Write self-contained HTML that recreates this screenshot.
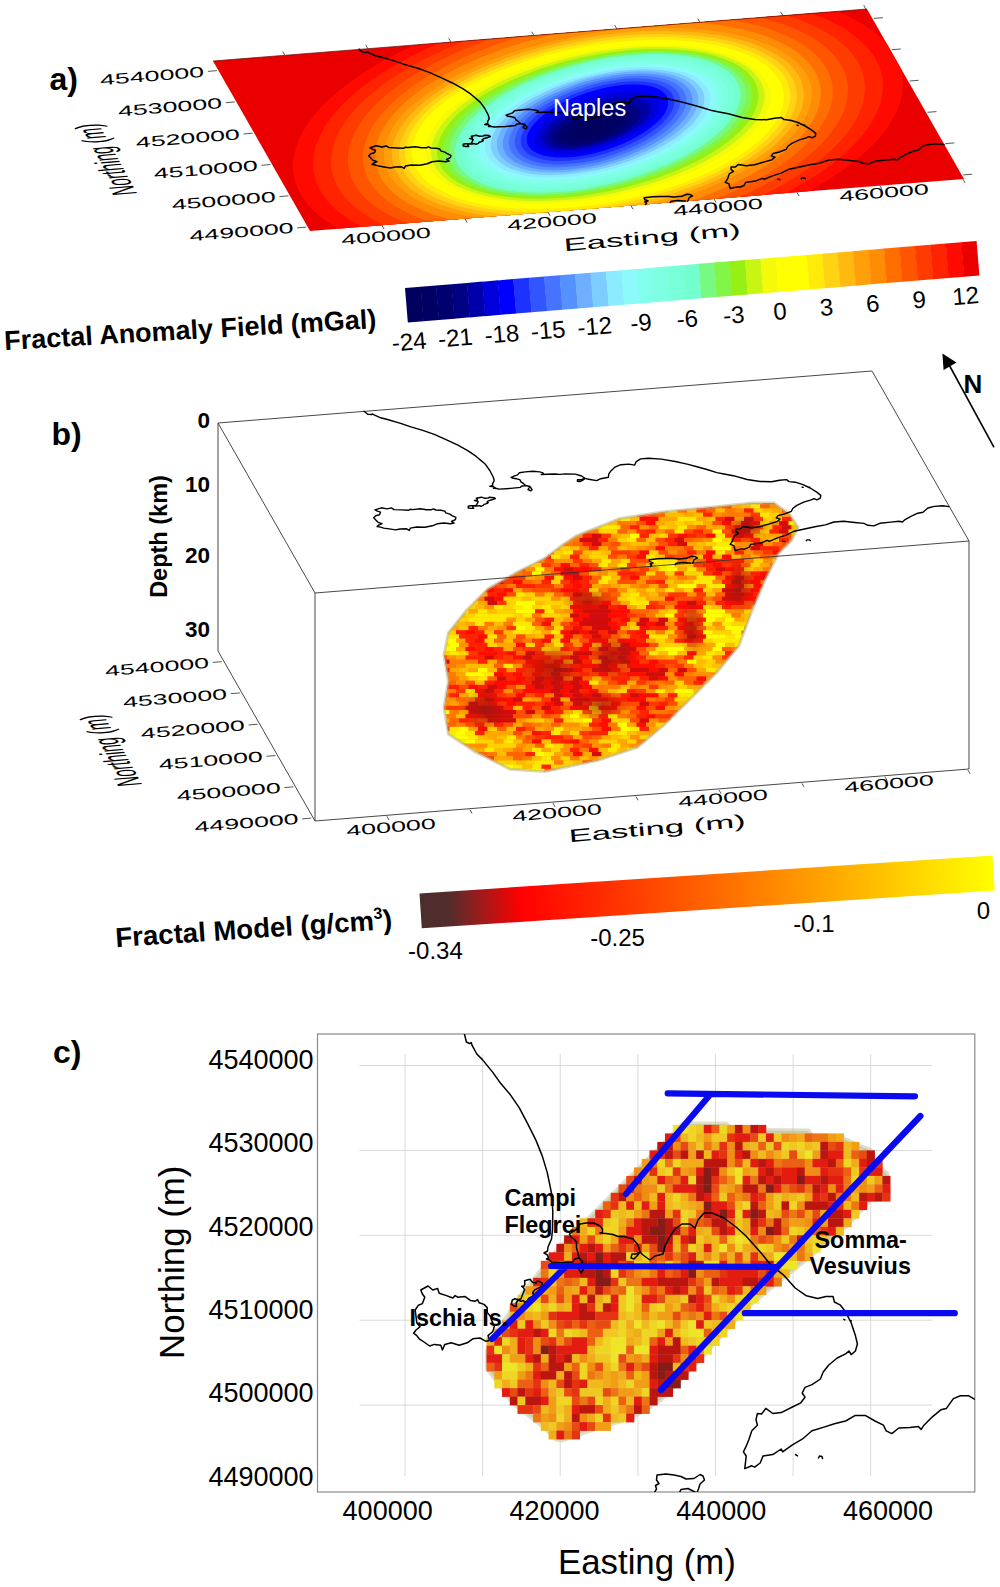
<!DOCTYPE html>
<html><head><meta charset="utf-8"><title>Figure</title>
<style>html,body{margin:0;padding:0;background:#fff}body{width:1000px;height:1587px;overflow:hidden;font-family:"Liberation Sans", sans-serif}</style>
</head><body>
<svg width="1000" height="1587" viewBox="0 0 1000 1587" style="display:block;font-family:'Liberation Sans', sans-serif">
<rect width="1000" height="1587" fill="#fff"/>
<defs><clipPath id="ca"><path d="M213,61 867,9 964,179 310,231Z"/></clipPath></defs>
<g clip-path="url(#ca)">
<rect x="200" y="0" width="780" height="240" fill="#eb0000"/>
<ellipse transform="translate(598,125) rotate(-9.35)" rx="308.4" ry="129.6" fill="#ff0a00"/>
<ellipse transform="translate(598,124.9) rotate(-9.51)" rx="288.2" ry="123.1" fill="#ff2300"/>
<ellipse transform="translate(598,124.9) rotate(-9.65)" rx="270.1" ry="116.6" fill="#ff3c00"/>
<ellipse transform="translate(597.9,124.8) rotate(-9.78)" rx="253" ry="110.2" fill="#ff5500"/>
<ellipse transform="translate(597.9,124.8) rotate(-9.87)" rx="237.8" ry="103.7" fill="#ff6e00"/>
<ellipse transform="translate(597.9,124.7) rotate(-9.90)" rx="225.7" ry="97.3" fill="#ff8c05"/>
<ellipse transform="translate(597.9,124.7) rotate(-9.87)" rx="216.6" ry="90.9" fill="#ffa00a"/>
<ellipse transform="translate(597.9,124.6) rotate(-9.98)" rx="208.6" ry="87.9" fill="#ffb90f"/>
<ellipse transform="translate(597.9,124.6) rotate(-10.07)" rx="201.5" ry="84.9" fill="#ffd214"/>
<ellipse transform="translate(597.8,124.5) rotate(-10.14)" rx="195.1" ry="81.9" fill="#ffeb0a"/>
<ellipse transform="translate(597.8,124.5) rotate(-10.21)" rx="188.5" ry="79" fill="#ffff00"/>
<ellipse transform="translate(597.8,124.4) rotate(-10.31)" rx="181.2" ry="76" fill="#ffff00"/>
<ellipse transform="translate(597.8,124.2) rotate(-10.88)" rx="175.4" ry="73.4" fill="#f5fa0a"/>
<ellipse transform="translate(597.8,124) rotate(-11.45)" rx="169.6" ry="70.8" fill="#c8f514"/>
<ellipse transform="translate(597.8,123.8) rotate(-12.02)" rx="163.8" ry="68.2" fill="#96f014"/>
<ellipse transform="translate(597.7,123.6) rotate(-12.58)" rx="157.9" ry="65.7" fill="#82f546"/>
<ellipse transform="translate(597.7,123.5) rotate(-13.20)" rx="152.1" ry="63.8" fill="#78fa82"/>
<ellipse transform="translate(597.7,123.3) rotate(-13.83)" rx="146.3" ry="61.8" fill="#73ffcd"/>
<ellipse transform="translate(597.7,123.1) rotate(-13.99)" rx="140.2" ry="60" fill="#78ffd7"/>
<ellipse transform="translate(597.7,122.9) rotate(-14.04)" rx="134.1" ry="57.1" fill="#7dffe1"/>
<ellipse transform="translate(597.7,122.7) rotate(-14.09)" rx="127.9" ry="54.3" fill="#82ffeb"/>
<ellipse transform="translate(597.6,122.5) rotate(-14.14)" rx="121.8" ry="51.4" fill="#8cfafa"/>
<ellipse transform="translate(597.6,122.3) rotate(-14.24)" rx="115.7" ry="48.9" fill="#8cebff"/>
<ellipse transform="translate(597.6,122.1) rotate(-14.79)" rx="109.8" ry="46.4" fill="#7dcdff"/>
<ellipse transform="translate(597.6,121.9) rotate(-15.37)" rx="103.8" ry="44.1" fill="#6eafff"/>
<ellipse transform="translate(597.6,121.8) rotate(-15.97)" rx="97.9" ry="41.8" fill="#5591ff"/>
<ellipse transform="translate(597.6,121.6) rotate(-16.51)" rx="91.9" ry="39.2" fill="#4673ff"/>
<ellipse transform="translate(597.5,121.4) rotate(-17.06)" rx="85.9" ry="36.6" fill="#3255ff"/>
<ellipse transform="translate(597.5,121.2) rotate(-17.46)" rx="79.8" ry="33.4" fill="#1e32ff"/>
<ellipse transform="translate(597.5,121) rotate(-17.83)" rx="73.7" ry="30.2" fill="#0000ff"/>
<ellipse transform="translate(597,122.2) rotate(-17.62)" rx="65.6" ry="25.4" fill="#0000dc"/>
<ellipse transform="translate(596.5,123.5) rotate(-17.54)" rx="56.8" ry="21.1" fill="#0000aa"/>
<ellipse transform="translate(595.5,125.2) rotate(-17.62)" rx="47.9" ry="17.5" fill="#000082"/>
<ellipse transform="translate(594.5,127) rotate(-17.58)" rx="39.6" ry="13.9" fill="#00006e"/>
<ellipse transform="translate(594,128) rotate(-17.55)" rx="31.3" ry="10.5" fill="#000064"/>
<ellipse transform="translate(593.5,129) rotate(-17.82)" rx="20.9" ry="7.2" fill="#00005f"/>
</g>
<path d="M359,49.2 362.8,52.2 366.4,52.5 367.7,52 369.1,52.9 375.7,55.8 382.5,57.5 395.6,61.4 405.9,64.9 417.8,68.3 429.3,72.4 441.6,77.9 452.9,83.2 462.7,88.6 470.9,94.2 477.3,99.6 480.6,102.6 484.8,108.5 488.3,115.2 489.2,118.6 487.5,121.8 487.8,123.4 484.7,124.4 488.7,124.8 490.3,125.9 488.5,126.4 491.7,126.5 494.1,127.1 505.7,126.4 515.5,125.4 516.4,124.2 520.6,123.5 524.9,124.5 527.1,127.6 525.8,128.9 523,127.5 524.9,124.5 520.6,123.5 518.6,121.7 516,119.9 514.8,117.7 511.6,116.8 508.2,116.3 506.1,115.3 509,114.1 512.5,112.9 514.4,110.8 520.2,109.9 528.1,109.3 534.7,109.9 537.9,110.8 538.6,112.1 536.2,112.5 542.3,112.2 549.5,112 554.9,112.4 560.8,111.9 570.3,112.1 576.6,114 580.1,116.4 576.5,117.5 572.5,117.8 572.4,119.3 575.6,119.5 577.9,118.1 580.1,116.4 583.7,117.3 591.7,118.6 595.8,116.7 603.4,115.3 603.7,112.2 605.9,108.9 610,105.1 615.9,102.7 623.9,102.1 629.7,103.1 631,99.9 635.5,96.9 643.4,96.2 656.4,97.1 670.3,99.5 682.1,102.1 692,104.8 701.9,107.5 711.9,110.6 719,112 728.3,113.7 742.1,117.5 754.9,119.5 766.6,119.7 774.5,118.2 781.5,117.6 784.1,119.6 790.2,120.2 797.3,122.3 805.2,126 812.1,130.4 815.8,133.4 815.3,136.1 811.9,137.8 809,136.6 806.2,137.9 798.7,140.1 791.8,143.4 787.7,146.5 786.4,149.3 779.3,152 772.9,153.6 771.3,155.9 775,157.2 772,159.7 764.5,161.9 754.6,164.8 746.4,165.8 738.3,164.5 735.4,166.9 731.1,167.1 731,169.4 733.5,171.4 729.2,173.9 728.2,177.3 726.8,180.1 725.2,182.4 728.9,183.7 730.2,188.5 736.6,186.9 739.7,187.2 744.3,185.2 745.6,182.4 755.1,181.1 762.3,178.4 764.3,179.3 772.5,175.9 781.1,173.1 789.1,169.2 799.5,167 809.9,164.8 820.4,162.9 829,160 838.7,159.2 849.7,160.5 858.9,161.4 862.9,163.3 869,163.9 874.8,161.3 885.8,160.1 894,159.2 897.4,160 899.3,158.2 905.9,154.4 912.8,151.2 918,150.2 922.9,146 929.3,144.4 937.7,143.8 943.9,144.6 M370,147.8 376.3,145.8 381.9,146.9 386.4,145.9 389,147.6 396.7,147.9 403.5,148.3 405.4,147.2 408.1,147.6 415.1,146.7 421.6,147.8 426.5,147.7 428.5,146.9 430.8,148 435.9,148.2 439.8,149.1 440.8,150.9 444.8,152.1 447.5,153.8 450.9,155.4 450.4,157.6 446.5,159.5 449.1,161.1 445.3,161.7 439.1,161 432.1,161.8 427.3,163.8 419.9,165.3 411.4,165 405.4,166.1 404.2,168.4 401.6,166.8 395.1,167 390.6,167.9 384.2,166.9 378.7,166.1 375.7,165.1 372,164.5 373.7,163.1 377,161.6 373,160.3 370.8,158 368.7,155.7 370.8,153.7 374.5,152.8 375.5,150.2 372.4,149.2 370,147.8 M471.3,136.2 476.4,135.2 479.4,136.2 483.1,136.1 484.5,135.2 489.1,135.6 490.3,136.6 487.7,137.5 483.4,138.8 481.9,140 483.2,140.6 482.4,141.4 479.2,142.3 478.2,143.4 476,144.4 474.6,143.6 472.1,144.1 468.8,143.9 467.7,145.1 468.7,146.4 465.9,146.4 463.2,146 463.2,144.3 465.6,143.7 469.4,143.7 471.6,143.2 472.3,141.3 473.2,139.6 472,139 469.5,138.5 471.9,138.3 472.4,137.5 471.3,136.2 M645.4,204.5 646.7,203.1 644.9,201.8 648,200.8 644.8,199.7 644.2,197.8 652.9,196.7 661.1,196.5 668.4,196.5 673.9,197 681.8,196.2 686.9,194.2 690.2,194.6 692.5,195.9 688.9,197.8 688.5,199.7 687.7,201.2 M670.3,202.5 671.1,201.3 677.9,200.4 683.4,200.9 685.6,201.1 M777.7,179.3 779.9,179.6 M801.3,178.7 801.9,177.9 804.4,177.9 805.4,178.6 M797.1,125.3 798.2,125.4 M803.8,125.1 804.9,125.3" fill="none" stroke="#000" stroke-width="1.5" stroke-linejoin="round" stroke-linecap="round"/>
<path d="M213,61 L867,9" stroke="#5a1000" stroke-width="0.7" fill="none"/>
<path d="M306.2,227.1 L297.2,227.9 M963.2,174.9 L972.2,174.2 M288.4,195.8 L279.4,196.6 M945.4,143.6 L954.4,142.9 M270.5,164.5 L261.5,165.3 M927.5,112.3 L936.5,111.6 M252.6,133.2 L243.6,134 M909.6,81 L918.6,80.3 M234.8,101.9 L225.8,102.7 M891.8,49.7 L900.8,49 M216.9,70.6 L207.9,71.4 M873.9,18.4 L882.9,17.7 M381.9,225.3 L384.1,229.1 M284.9,55.3 L282.7,51.5 M464.9,218.7 L467.1,222.5 M367.9,48.7 L365.7,44.9 M547.9,212.1 L550.1,215.9 M450.9,42.1 L448.7,38.3 M630.9,205.5 L633.1,209.3 M533.9,35.5 L531.7,31.7 M713.9,198.9 L716.1,202.7 M616.9,28.9 L614.7,25.1 M796.9,192.3 L799.1,196.1 M699.9,22.3 L697.7,18.5 M879.9,185.7 L882.1,189.5 M782.9,15.7 L780.7,11.9 M962.9,179.1 L965.1,182.9 M865.9,9.1 L863.7,5.3" stroke="#444" stroke-width="0.9" fill="none"/>
<text transform="translate(204,71.6) rotate(-4.6) scale(1.81,1)" text-anchor="end" font-size="14.8" y="5.3">4540000</text>
<text transform="translate(221.9,102.8) rotate(-4.6) scale(1.81,1)" text-anchor="end" font-size="14.8" y="5.3">4530000</text>
<text transform="translate(239.8,134) rotate(-4.6) scale(1.81,1)" text-anchor="end" font-size="14.8" y="5.3">4520000</text>
<text transform="translate(257.7,165.2) rotate(-4.6) scale(1.81,1)" text-anchor="end" font-size="14.8" y="5.3">4510000</text>
<text transform="translate(275.6,196.4) rotate(-4.6) scale(1.81,1)" text-anchor="end" font-size="14.8" y="5.3">4500000</text>
<text transform="translate(293.5,227.6) rotate(-4.6) scale(1.81,1)" text-anchor="end" font-size="14.8" y="5.3">4490000</text>
<text transform="translate(386,236) rotate(-4.8) scale(1.82,1)" text-anchor="middle" font-size="14.8" y="5.3">400000</text>
<text transform="translate(552,221.5) rotate(-4.8) scale(1.82,1)" text-anchor="middle" font-size="14.8" y="5.3">420000</text>
<text transform="translate(718,207) rotate(-4.8) scale(1.82,1)" text-anchor="middle" font-size="14.8" y="5.3">440000</text>
<text transform="translate(884,192.5) rotate(-4.8) scale(1.82,1)" text-anchor="middle" font-size="14.8" y="5.3">460000</text>
<text transform="translate(652,237) rotate(-5) scale(1.93,1)" text-anchor="middle" font-size="18" y="6.5">Easting (m)</text>
<text transform="matrix(-0.2022,-0.3647,0.9970,-0.0800,137.5,194)" font-size="35">Northing (m)</text>
<text x="49.5" y="89.7" font-size="32" font-weight="bold">a)</text>
<text x="553" y="115.5" font-size="23.5" fill="#fff">Naples</text>
<g transform="translate(405,288) rotate(-4.701)">
<rect x="0" y="0" width="15.9" height="34.6" fill="#00005f"/>
<rect x="15.5" y="0" width="15.9" height="34.6" fill="#000064"/>
<rect x="31" y="0" width="15.9" height="34.6" fill="#00006e"/>
<rect x="46.5" y="0" width="15.9" height="34.6" fill="#000082"/>
<rect x="62" y="0" width="15.9" height="34.6" fill="#0000aa"/>
<rect x="77.5" y="0" width="15.9" height="34.6" fill="#0000dc"/>
<rect x="93" y="0" width="15.9" height="34.6" fill="#0000ff"/>
<rect x="108.5" y="0" width="15.9" height="34.6" fill="#1e32ff"/>
<rect x="124" y="0" width="15.9" height="34.6" fill="#3255ff"/>
<rect x="139.5" y="0" width="15.9" height="34.6" fill="#4673ff"/>
<rect x="155" y="0" width="15.9" height="34.6" fill="#5591ff"/>
<rect x="170.5" y="0" width="15.9" height="34.6" fill="#6eafff"/>
<rect x="186" y="0" width="15.9" height="34.6" fill="#7dcdff"/>
<rect x="201.5" y="0" width="15.9" height="34.6" fill="#8cebff"/>
<rect x="217" y="0" width="15.9" height="34.6" fill="#8cfafa"/>
<rect x="232.5" y="0" width="15.9" height="34.6" fill="#82ffeb"/>
<rect x="248" y="0" width="15.9" height="34.6" fill="#7dffe1"/>
<rect x="263.5" y="0" width="15.9" height="34.6" fill="#78ffd7"/>
<rect x="279" y="0" width="15.9" height="34.6" fill="#73ffcd"/>
<rect x="294.5" y="0" width="15.9" height="34.6" fill="#78fa82"/>
<rect x="310" y="0" width="15.9" height="34.6" fill="#82f546"/>
<rect x="325.5" y="0" width="15.9" height="34.6" fill="#96f014"/>
<rect x="341" y="0" width="15.9" height="34.6" fill="#c8f514"/>
<rect x="356.5" y="0" width="15.9" height="34.6" fill="#f5fa0a"/>
<rect x="372" y="0" width="15.9" height="34.6" fill="#ffff00"/>
<rect x="387.5" y="0" width="15.9" height="34.6" fill="#ffff00"/>
<rect x="403" y="0" width="15.9" height="34.6" fill="#ffeb0a"/>
<rect x="418.5" y="0" width="15.9" height="34.6" fill="#ffd214"/>
<rect x="434" y="0" width="15.9" height="34.6" fill="#ffb90f"/>
<rect x="449.5" y="0" width="15.9" height="34.6" fill="#ffa00a"/>
<rect x="465" y="0" width="15.9" height="34.6" fill="#ff8c05"/>
<rect x="480.5" y="0" width="15.9" height="34.6" fill="#ff6e00"/>
<rect x="496" y="0" width="15.9" height="34.6" fill="#ff5500"/>
<rect x="511.5" y="0" width="15.9" height="34.6" fill="#ff3c00"/>
<rect x="527" y="0" width="15.9" height="34.6" fill="#ff2300"/>
<rect x="542.5" y="0" width="15.9" height="34.6" fill="#ff0a00"/>
<rect x="558" y="0" width="15.5" height="34.6" fill="#eb0000"/>
</g>
<text transform="translate(409,341.3) rotate(-4.7)" text-anchor="middle" font-size="24" y="8.6">-24</text>
<text transform="translate(455.4,337.5) rotate(-4.7)" text-anchor="middle" font-size="24" y="8.6">-21</text>
<text transform="translate(501.8,333.7) rotate(-4.7)" text-anchor="middle" font-size="24" y="8.6">-18</text>
<text transform="translate(548.1,329.9) rotate(-4.7)" text-anchor="middle" font-size="24" y="8.6">-15</text>
<text transform="translate(594.5,326) rotate(-4.7)" text-anchor="middle" font-size="24" y="8.6">-12</text>
<text transform="translate(640.9,322.2) rotate(-4.7)" text-anchor="middle" font-size="24" y="8.6">-9</text>
<text transform="translate(687.2,318.4) rotate(-4.7)" text-anchor="middle" font-size="24" y="8.6">-6</text>
<text transform="translate(733.6,314.6) rotate(-4.7)" text-anchor="middle" font-size="24" y="8.6">-3</text>
<text transform="translate(780,310.8) rotate(-4.7)" text-anchor="middle" font-size="24" y="8.6">0</text>
<text transform="translate(826.4,306.9) rotate(-4.7)" text-anchor="middle" font-size="24" y="8.6">3</text>
<text transform="translate(872.8,303.1) rotate(-4.7)" text-anchor="middle" font-size="24" y="8.6">6</text>
<text transform="translate(919.1,299.3) rotate(-4.7)" text-anchor="middle" font-size="24" y="8.6">9</text>
<text transform="translate(965.5,295.5) rotate(-4.7)" text-anchor="middle" font-size="24" y="8.6">12</text>
<text transform="translate(4.8,350) rotate(-3.4)" font-size="27" font-weight="bold">Fractal Anomaly Field (mGal)</text>
<path d="M994,447.4 L947,361" stroke="#000" stroke-width="1.6" fill="none"/>
<path d="M942.4,353.5 L956.5,362.5 L943.6,370 Z" fill="#000"/>
<text x="973" y="393" font-size="26" font-weight="bold" text-anchor="middle">N</text>
<defs><clipPath id="cb"><path d="M576,536 620,518.4 664,511.8 708,507.4 752,503 774,503 789.4,514 798,527.2 791.6,540.4 778.4,553.6 765.2,580 752,610.8 738.8,646 716.8,672.4 686,703.2 664,725.2 637.6,747.2 598,760.4 545.2,771.4 510,769.2 474.8,751.6 448.4,734 444,707.6 448.4,681.2 444,654.8 448.4,632.8 466,610.8 488,588.8 518.8,571.2 545.2,558 562.8,544.8Z"/></clipPath></defs>
<g clip-path="url(#cb)">
<path d="M576,536 620,518.4 664,511.8 708,507.4 752,503 774,503 789.4,514 798,527.2 791.6,540.4 778.4,553.6 765.2,580 752,610.8 738.8,646 716.8,672.4 686,703.2 664,725.2 637.6,747.2 598,760.4 545.2,771.4 510,769.2 474.8,751.6 448.4,734 444,707.6 448.4,681.2 444,654.8 448.4,632.8 466,610.8 488,588.8 518.8,571.2 545.2,558 562.8,544.8Z" fill="#f26a10"/>
<rect x="734.5" y="500" width="9.8" height="4.5" fill="#ffbd00"/>
<rect x="744" y="500" width="9.8" height="4.5" fill="#ffa700"/>
<rect x="753.5" y="500" width="9.8" height="4.5" fill="#ff9100"/>
<rect x="763" y="500" width="9.8" height="4.5" fill="#ff2200"/>
<rect x="772.5" y="500" width="9.8" height="4.5" fill="#ff3800"/>
<rect x="684" y="504.2" width="28.8" height="4.5" fill="#ff0c00"/>
<rect x="712.5" y="504.2" width="9.8" height="4.5" fill="#ff7b00"/>
<rect x="722" y="504.2" width="9.8" height="4.5" fill="#ff4e00"/>
<rect x="731.5" y="504.2" width="9.8" height="4.5" fill="#ffa700"/>
<rect x="741" y="504.2" width="9.8" height="4.5" fill="#ffbd00"/>
<rect x="750.5" y="504.2" width="9.8" height="4.5" fill="#ffe900"/>
<rect x="760" y="504.2" width="9.8" height="4.5" fill="#ff6400"/>
<rect x="769.5" y="504.2" width="9.8" height="4.5" fill="#ff9100"/>
<rect x="649" y="508.4" width="9.8" height="4.5" fill="#ffbd00"/>
<rect x="658.5" y="508.4" width="9.8" height="4.5" fill="#ff9100"/>
<rect x="668" y="508.4" width="9.8" height="4.5" fill="#ffe900"/>
<rect x="677.5" y="508.4" width="9.8" height="4.5" fill="#ff6400"/>
<rect x="687" y="508.4" width="9.8" height="4.5" fill="#ffbd00"/>
<rect x="696.5" y="508.4" width="9.8" height="4.5" fill="#ff3800"/>
<rect x="706" y="508.4" width="9.8" height="4.5" fill="#ff6400"/>
<rect x="715.5" y="508.4" width="9.8" height="4.5" fill="#ffbd00"/>
<rect x="725" y="508.4" width="9.8" height="4.5" fill="#ff7b00"/>
<rect x="734.5" y="508.4" width="9.8" height="4.5" fill="#ff9100"/>
<rect x="744" y="508.4" width="9.8" height="4.5" fill="#ff2200"/>
<rect x="753.5" y="508.4" width="9.8" height="4.5" fill="#ffd300"/>
<rect x="763" y="508.4" width="9.8" height="4.5" fill="#ffbd00"/>
<rect x="772.5" y="508.4" width="9.8" height="4.5" fill="#ffa700"/>
<rect x="782" y="508.4" width="9.8" height="4.5" fill="#ff4e00"/>
<rect x="617.5" y="512.6" width="19.3" height="4.5" fill="#ffe900"/>
<rect x="636.5" y="512.6" width="9.8" height="4.5" fill="#ff3800"/>
<rect x="646" y="512.6" width="9.8" height="4.5" fill="#ff4e00"/>
<rect x="655.5" y="512.6" width="9.8" height="4.5" fill="#ff6400"/>
<rect x="665" y="512.6" width="19.3" height="4.5" fill="#ffbd00"/>
<rect x="684" y="512.6" width="9.8" height="4.5" fill="#ffa700"/>
<rect x="693.5" y="512.6" width="9.8" height="4.5" fill="#ffbd00"/>
<rect x="703" y="512.6" width="9.8" height="4.5" fill="#ff2200"/>
<rect x="712.5" y="512.6" width="9.8" height="4.5" fill="#ff9100"/>
<rect x="722" y="512.6" width="28.8" height="4.5" fill="#ff7b00"/>
<rect x="750.5" y="512.6" width="9.8" height="4.5" fill="#ff3800"/>
<rect x="760" y="512.6" width="9.8" height="4.5" fill="#ffe900"/>
<rect x="769.5" y="512.6" width="9.8" height="4.5" fill="#ffd300"/>
<rect x="779" y="512.6" width="9.8" height="4.5" fill="#ffa700"/>
<rect x="611" y="516.8" width="9.8" height="4.5" fill="#ffbd00"/>
<rect x="620.5" y="516.8" width="9.8" height="4.5" fill="#ffe900"/>
<rect x="630" y="516.8" width="9.8" height="4.5" fill="#ffbd00"/>
<rect x="639.5" y="516.8" width="19.3" height="4.5" fill="#ff0c00"/>
<rect x="658.5" y="516.8" width="19.3" height="4.5" fill="#ffa700"/>
<rect x="677.5" y="516.8" width="19.3" height="4.5" fill="#ffe900"/>
<rect x="696.5" y="516.8" width="9.8" height="4.5" fill="#ffa700"/>
<rect x="706" y="516.8" width="9.8" height="4.5" fill="#ffbd00"/>
<rect x="715.5" y="516.8" width="9.8" height="4.5" fill="#ff2200"/>
<rect x="725" y="516.8" width="9.8" height="4.5" fill="#d20c0c"/>
<rect x="734.5" y="516.8" width="9.8" height="4.5" fill="#ffa700"/>
<rect x="744" y="516.8" width="9.8" height="4.5" fill="#d20c0c"/>
<rect x="753.5" y="516.8" width="9.8" height="4.5" fill="#ff3800"/>
<rect x="763" y="516.8" width="9.8" height="4.5" fill="#ffd300"/>
<rect x="772.5" y="516.8" width="9.8" height="4.5" fill="#ffbd00"/>
<rect x="782" y="516.8" width="9.8" height="4.5" fill="#ff2200"/>
<rect x="598.5" y="521" width="9.8" height="4.5" fill="#ffe900"/>
<rect x="608" y="521" width="9.8" height="4.5" fill="#ffbd00"/>
<rect x="617.5" y="521" width="19.3" height="4.5" fill="#ff7b00"/>
<rect x="636.5" y="521" width="9.8" height="4.5" fill="#ff4e00"/>
<rect x="646" y="521" width="9.8" height="4.5" fill="#ff0c00"/>
<rect x="655.5" y="521" width="9.8" height="4.5" fill="#ffa700"/>
<rect x="665" y="521" width="9.8" height="4.5" fill="#ffbd00"/>
<rect x="674.5" y="521" width="9.8" height="4.5" fill="#ffd300"/>
<rect x="684" y="521" width="9.8" height="4.5" fill="#ffbd00"/>
<rect x="693.5" y="521" width="9.8" height="4.5" fill="#ffd300"/>
<rect x="703" y="521" width="9.8" height="4.5" fill="#ffa700"/>
<rect x="712.5" y="521" width="9.8" height="4.5" fill="#ff4e00"/>
<rect x="722" y="521" width="9.8" height="4.5" fill="#ff0c00"/>
<rect x="731.5" y="521" width="9.8" height="4.5" fill="#ff7b00"/>
<rect x="741" y="521" width="9.8" height="4.5" fill="#d20c0c"/>
<rect x="750.5" y="521" width="9.8" height="4.5" fill="#ff0c00"/>
<rect x="760" y="521" width="9.8" height="4.5" fill="#ffd300"/>
<rect x="769.5" y="521" width="9.8" height="4.5" fill="#ff9100"/>
<rect x="779" y="521" width="9.8" height="4.5" fill="#d20c0c"/>
<rect x="788.5" y="521" width="9.8" height="4.5" fill="#ffe900"/>
<rect x="592" y="525.2" width="9.8" height="4.5" fill="#ffd300"/>
<rect x="601.5" y="525.2" width="19.3" height="4.5" fill="#ffe900"/>
<rect x="620.5" y="525.2" width="9.8" height="4.5" fill="#ff6400"/>
<rect x="630" y="525.2" width="9.8" height="4.5" fill="#ff2200"/>
<rect x="639.5" y="525.2" width="9.8" height="4.5" fill="#ff9100"/>
<rect x="649" y="525.2" width="9.8" height="4.5" fill="#ff6400"/>
<rect x="658.5" y="525.2" width="9.8" height="4.5" fill="#ffd300"/>
<rect x="668" y="525.2" width="9.8" height="4.5" fill="#ffbd00"/>
<rect x="677.5" y="525.2" width="9.8" height="4.5" fill="#ffe900"/>
<rect x="687" y="525.2" width="9.8" height="4.5" fill="#ff9100"/>
<rect x="696.5" y="525.2" width="9.8" height="4.5" fill="#ff6400"/>
<rect x="706" y="525.2" width="19.3" height="4.5" fill="#ffa700"/>
<rect x="725" y="525.2" width="9.8" height="4.5" fill="#ff3800"/>
<rect x="734.5" y="525.2" width="9.8" height="4.5" fill="#ff0c00"/>
<rect x="744" y="525.2" width="9.8" height="4.5" fill="#d20c0c"/>
<rect x="753.5" y="525.2" width="9.8" height="4.5" fill="#ff4e00"/>
<rect x="763" y="525.2" width="9.8" height="4.5" fill="#ffbd00"/>
<rect x="772.5" y="525.2" width="9.8" height="4.5" fill="#ff2200"/>
<rect x="782" y="525.2" width="9.8" height="4.5" fill="#d20c0c"/>
<rect x="791.5" y="525.2" width="9.8" height="4.5" fill="#ffbd00"/>
<rect x="579.5" y="529.4" width="9.8" height="4.5" fill="#ff6400"/>
<rect x="589" y="529.4" width="9.8" height="4.5" fill="#ff7b00"/>
<rect x="598.5" y="529.4" width="19.3" height="4.5" fill="#ffd300"/>
<rect x="617.5" y="529.4" width="9.8" height="4.5" fill="#ff6400"/>
<rect x="627" y="529.4" width="9.8" height="4.5" fill="#ff9100"/>
<rect x="636.5" y="529.4" width="9.8" height="4.5" fill="#ff3800"/>
<rect x="646" y="529.4" width="9.8" height="4.5" fill="#ff2200"/>
<rect x="655.5" y="529.4" width="9.8" height="4.5" fill="#ff9100"/>
<rect x="665" y="529.4" width="9.8" height="4.5" fill="#ff6400"/>
<rect x="674.5" y="529.4" width="9.8" height="4.5" fill="#ffe900"/>
<rect x="684" y="529.4" width="9.8" height="4.5" fill="#ff4e00"/>
<rect x="693.5" y="529.4" width="9.8" height="4.5" fill="#ff2200"/>
<rect x="703" y="529.4" width="9.8" height="4.5" fill="#ff6400"/>
<rect x="712.5" y="529.4" width="9.8" height="4.5" fill="#ffff00"/>
<rect x="722" y="529.4" width="9.8" height="4.5" fill="#ff4e00"/>
<rect x="731.5" y="529.4" width="19.3" height="4.5" fill="#d20c0c"/>
<rect x="750.5" y="529.4" width="9.8" height="4.5" fill="#ff7b00"/>
<rect x="760" y="529.4" width="9.8" height="4.5" fill="#ffd300"/>
<rect x="769.5" y="529.4" width="9.8" height="4.5" fill="#ff2200"/>
<rect x="779" y="529.4" width="9.8" height="4.5" fill="#d20c0c"/>
<rect x="788.5" y="529.4" width="9.8" height="4.5" fill="#ffd300"/>
<rect x="573" y="533.6" width="9.8" height="4.5" fill="#ff9100"/>
<rect x="582.5" y="533.6" width="9.8" height="4.5" fill="#ff2200"/>
<rect x="592" y="533.6" width="9.8" height="4.5" fill="#d20c0c"/>
<rect x="601.5" y="533.6" width="9.8" height="4.5" fill="#ff3800"/>
<rect x="611" y="533.6" width="9.8" height="4.5" fill="#ffa700"/>
<rect x="620.5" y="533.6" width="9.8" height="4.5" fill="#ffbd00"/>
<rect x="630" y="533.6" width="9.8" height="4.5" fill="#ffff00"/>
<rect x="639.5" y="533.6" width="9.8" height="4.5" fill="#ff2200"/>
<rect x="649" y="533.6" width="9.8" height="4.5" fill="#ffbd00"/>
<rect x="658.5" y="533.6" width="9.8" height="4.5" fill="#ffd300"/>
<rect x="668" y="533.6" width="9.8" height="4.5" fill="#ff3800"/>
<rect x="677.5" y="533.6" width="9.8" height="4.5" fill="#ff0c00"/>
<rect x="687" y="533.6" width="9.8" height="4.5" fill="#ff2200"/>
<rect x="696.5" y="533.6" width="9.8" height="4.5" fill="#ff3800"/>
<rect x="706" y="533.6" width="9.8" height="4.5" fill="#ff0c00"/>
<rect x="715.5" y="533.6" width="9.8" height="4.5" fill="#ffe900"/>
<rect x="725" y="533.6" width="9.8" height="4.5" fill="#ff3800"/>
<rect x="734.5" y="533.6" width="9.8" height="4.5" fill="#d20c0c"/>
<rect x="744" y="533.6" width="9.8" height="4.5" fill="#ff0c00"/>
<rect x="753.5" y="533.6" width="9.8" height="4.5" fill="#ffbd00"/>
<rect x="763" y="533.6" width="19.3" height="4.5" fill="#ffa700"/>
<rect x="782" y="533.6" width="9.8" height="4.5" fill="#ff4e00"/>
<rect x="791.5" y="533.6" width="9.8" height="4.5" fill="#ffbd00"/>
<rect x="560.5" y="537.8" width="9.8" height="4.5" fill="#ff9100"/>
<rect x="570" y="537.8" width="9.8" height="4.5" fill="#ff7b00"/>
<rect x="579.5" y="537.8" width="19.3" height="4.5" fill="#d20c0c"/>
<rect x="598.5" y="537.8" width="9.8" height="4.5" fill="#ff2200"/>
<rect x="608" y="537.8" width="9.8" height="4.5" fill="#ff7b00"/>
<rect x="617.5" y="537.8" width="9.8" height="4.5" fill="#ffd300"/>
<rect x="627" y="537.8" width="9.8" height="4.5" fill="#ffe900"/>
<rect x="636.5" y="537.8" width="9.8" height="4.5" fill="#ff6400"/>
<rect x="646" y="537.8" width="9.8" height="4.5" fill="#ffbd00"/>
<rect x="655.5" y="537.8" width="9.8" height="4.5" fill="#ff4e00"/>
<rect x="665" y="537.8" width="9.8" height="4.5" fill="#ff2200"/>
<rect x="674.5" y="537.8" width="9.8" height="4.5" fill="#d20c0c"/>
<rect x="684" y="537.8" width="9.8" height="4.5" fill="#ff6400"/>
<rect x="693.5" y="537.8" width="9.8" height="4.5" fill="#ff7b00"/>
<rect x="703" y="537.8" width="9.8" height="4.5" fill="#ff9100"/>
<rect x="712.5" y="537.8" width="9.8" height="4.5" fill="#ffff00"/>
<rect x="722" y="537.8" width="9.8" height="4.5" fill="#ffd300"/>
<rect x="731.5" y="537.8" width="9.8" height="4.5" fill="#ff2200"/>
<rect x="741" y="537.8" width="9.8" height="4.5" fill="#ff4e00"/>
<rect x="750.5" y="537.8" width="9.8" height="4.5" fill="#ff2200"/>
<rect x="760" y="537.8" width="9.8" height="4.5" fill="#ffa700"/>
<rect x="769.5" y="537.8" width="9.8" height="4.5" fill="#ffbd00"/>
<rect x="779" y="537.8" width="9.8" height="4.5" fill="#ff2200"/>
<rect x="554" y="542" width="9.8" height="4.5" fill="#ffbd00"/>
<rect x="563.5" y="542" width="9.8" height="4.5" fill="#ff7b00"/>
<rect x="573" y="542" width="9.8" height="4.5" fill="#ff6400"/>
<rect x="582.5" y="542" width="9.8" height="4.5" fill="#ff2200"/>
<rect x="592" y="542" width="9.8" height="4.5" fill="#d20c0c"/>
<rect x="601.5" y="542" width="9.8" height="4.5" fill="#ff6400"/>
<rect x="611" y="542" width="9.8" height="4.5" fill="#ff4e00"/>
<rect x="620.5" y="542" width="9.8" height="4.5" fill="#ffa700"/>
<rect x="630" y="542" width="19.3" height="4.5" fill="#ffbd00"/>
<rect x="649" y="542" width="9.8" height="4.5" fill="#ff9100"/>
<rect x="658.5" y="542" width="9.8" height="4.5" fill="#ff4e00"/>
<rect x="668" y="542" width="9.8" height="4.5" fill="#ff2200"/>
<rect x="677.5" y="542" width="9.8" height="4.5" fill="#d20c0c"/>
<rect x="687" y="542" width="9.8" height="4.5" fill="#ffa700"/>
<rect x="696.5" y="542" width="9.8" height="4.5" fill="#ffbd00"/>
<rect x="706" y="542" width="9.8" height="4.5" fill="#ffd300"/>
<rect x="715.5" y="542" width="19.3" height="4.5" fill="#ffe900"/>
<rect x="734.5" y="542" width="19.3" height="4.5" fill="#ff9100"/>
<rect x="753.5" y="542" width="9.8" height="4.5" fill="#d20c0c"/>
<rect x="763" y="542" width="9.8" height="4.5" fill="#ff9100"/>
<rect x="772.5" y="542" width="9.8" height="4.5" fill="#ff6400"/>
<rect x="782" y="542" width="9.8" height="4.5" fill="#ff4e00"/>
<rect x="551" y="546.2" width="9.8" height="4.5" fill="#ffa700"/>
<rect x="560.5" y="546.2" width="9.8" height="4.5" fill="#ffd300"/>
<rect x="570" y="546.2" width="9.8" height="4.5" fill="#ffbd00"/>
<rect x="579.5" y="546.2" width="9.8" height="4.5" fill="#ff7b00"/>
<rect x="589" y="546.2" width="9.8" height="4.5" fill="#ff2200"/>
<rect x="598.5" y="546.2" width="9.8" height="4.5" fill="#ffa700"/>
<rect x="608" y="546.2" width="9.8" height="4.5" fill="#ff6400"/>
<rect x="617.5" y="546.2" width="9.8" height="4.5" fill="#ffbd00"/>
<rect x="627" y="546.2" width="9.8" height="4.5" fill="#ffa700"/>
<rect x="636.5" y="546.2" width="9.8" height="4.5" fill="#ff9100"/>
<rect x="646" y="546.2" width="9.8" height="4.5" fill="#ff7b00"/>
<rect x="655.5" y="546.2" width="9.8" height="4.5" fill="#ff0c00"/>
<rect x="665" y="546.2" width="19.3" height="4.5" fill="#ff7b00"/>
<rect x="684" y="546.2" width="9.8" height="4.5" fill="#ff4e00"/>
<rect x="693.5" y="546.2" width="9.8" height="4.5" fill="#ffbd00"/>
<rect x="703" y="546.2" width="9.8" height="4.5" fill="#ff9100"/>
<rect x="712.5" y="546.2" width="19.3" height="4.5" fill="#ffff00"/>
<rect x="731.5" y="546.2" width="9.8" height="4.5" fill="#ff7b00"/>
<rect x="741" y="546.2" width="9.8" height="4.5" fill="#ff9100"/>
<rect x="750.5" y="546.2" width="9.8" height="4.5" fill="#d20c0c"/>
<rect x="760" y="546.2" width="19.3" height="4.5" fill="#ff2200"/>
<rect x="779" y="546.2" width="9.8" height="4.5" fill="#ff4e00"/>
<rect x="544.5" y="550.4" width="9.8" height="4.5" fill="#ff6400"/>
<rect x="554" y="550.4" width="9.8" height="4.5" fill="#ffd300"/>
<rect x="563.5" y="550.4" width="9.8" height="4.5" fill="#ffe900"/>
<rect x="573" y="550.4" width="9.8" height="4.5" fill="#ff4e00"/>
<rect x="582.5" y="550.4" width="9.8" height="4.5" fill="#ffbd00"/>
<rect x="592" y="550.4" width="9.8" height="4.5" fill="#ffd300"/>
<rect x="601.5" y="550.4" width="9.8" height="4.5" fill="#ffbd00"/>
<rect x="611" y="550.4" width="19.3" height="4.5" fill="#ff3800"/>
<rect x="630" y="550.4" width="9.8" height="4.5" fill="#ff4e00"/>
<rect x="639.5" y="550.4" width="9.8" height="4.5" fill="#ff0c00"/>
<rect x="649" y="550.4" width="9.8" height="4.5" fill="#ffd300"/>
<rect x="658.5" y="550.4" width="9.8" height="4.5" fill="#ff4e00"/>
<rect x="668" y="550.4" width="9.8" height="4.5" fill="#ff9100"/>
<rect x="677.5" y="550.4" width="9.8" height="4.5" fill="#ff6400"/>
<rect x="687" y="550.4" width="9.8" height="4.5" fill="#ff2200"/>
<rect x="696.5" y="550.4" width="9.8" height="4.5" fill="#ff7b00"/>
<rect x="706" y="550.4" width="9.8" height="4.5" fill="#ff0c00"/>
<rect x="715.5" y="550.4" width="9.8" height="4.5" fill="#ffe900"/>
<rect x="725" y="550.4" width="9.8" height="4.5" fill="#ff9100"/>
<rect x="734.5" y="550.4" width="9.8" height="4.5" fill="#ff2200"/>
<rect x="744" y="550.4" width="9.8" height="4.5" fill="#ff9100"/>
<rect x="753.5" y="550.4" width="9.8" height="4.5" fill="#ff6400"/>
<rect x="763" y="550.4" width="9.8" height="4.5" fill="#ff3800"/>
<rect x="772.5" y="550.4" width="9.8" height="4.5" fill="#ff0c00"/>
<rect x="541.5" y="554.6" width="9.8" height="4.5" fill="#ff2200"/>
<rect x="551" y="554.6" width="9.8" height="4.5" fill="#ffe900"/>
<rect x="560.5" y="554.6" width="9.8" height="4.5" fill="#ffbd00"/>
<rect x="570" y="554.6" width="9.8" height="4.5" fill="#ff2200"/>
<rect x="579.5" y="554.6" width="9.8" height="4.5" fill="#ffa700"/>
<rect x="589" y="554.6" width="19.3" height="4.5" fill="#ffd300"/>
<rect x="608" y="554.6" width="9.8" height="4.5" fill="#ff4e00"/>
<rect x="617.5" y="554.6" width="9.8" height="4.5" fill="#ff7b00"/>
<rect x="627" y="554.6" width="9.8" height="4.5" fill="#ff3800"/>
<rect x="636.5" y="554.6" width="9.8" height="4.5" fill="#ff0c00"/>
<rect x="646" y="554.6" width="9.8" height="4.5" fill="#ffe900"/>
<rect x="655.5" y="554.6" width="9.8" height="4.5" fill="#ffbd00"/>
<rect x="665" y="554.6" width="9.8" height="4.5" fill="#ff3800"/>
<rect x="674.5" y="554.6" width="19.3" height="4.5" fill="#ff4e00"/>
<rect x="693.5" y="554.6" width="9.8" height="4.5" fill="#ffbd00"/>
<rect x="703" y="554.6" width="9.8" height="4.5" fill="#ff0c00"/>
<rect x="712.5" y="554.6" width="9.8" height="4.5" fill="#ffbd00"/>
<rect x="722" y="554.6" width="9.8" height="4.5" fill="#ff0c00"/>
<rect x="731.5" y="554.6" width="9.8" height="4.5" fill="#ffbd00"/>
<rect x="741" y="554.6" width="9.8" height="4.5" fill="#ff7b00"/>
<rect x="750.5" y="554.6" width="9.8" height="4.5" fill="#ffa700"/>
<rect x="760" y="554.6" width="9.8" height="4.5" fill="#ff6400"/>
<rect x="769.5" y="554.6" width="9.8" height="4.5" fill="#ff7b00"/>
<rect x="535" y="558.8" width="9.8" height="4.5" fill="#ff7b00"/>
<rect x="544.5" y="558.8" width="9.8" height="4.5" fill="#ff4e00"/>
<rect x="554" y="558.8" width="19.3" height="4.5" fill="#ff9100"/>
<rect x="573" y="558.8" width="9.8" height="4.5" fill="#ff3800"/>
<rect x="582.5" y="558.8" width="9.8" height="4.5" fill="#ff7b00"/>
<rect x="592" y="558.8" width="9.8" height="4.5" fill="#ffa700"/>
<rect x="601.5" y="558.8" width="9.8" height="4.5" fill="#ffe900"/>
<rect x="611" y="558.8" width="9.8" height="4.5" fill="#ffa700"/>
<rect x="620.5" y="558.8" width="9.8" height="4.5" fill="#ffd300"/>
<rect x="630" y="558.8" width="19.3" height="4.5" fill="#ff4e00"/>
<rect x="649" y="558.8" width="9.8" height="4.5" fill="#ffff00"/>
<rect x="658.5" y="558.8" width="19.3" height="4.5" fill="#ffe900"/>
<rect x="677.5" y="558.8" width="9.8" height="4.5" fill="#ff6400"/>
<rect x="687" y="558.8" width="9.8" height="4.5" fill="#ff9100"/>
<rect x="696.5" y="558.8" width="9.8" height="4.5" fill="#ff6400"/>
<rect x="706" y="558.8" width="9.8" height="4.5" fill="#ff0c00"/>
<rect x="715.5" y="558.8" width="28.8" height="4.5" fill="#ff2200"/>
<rect x="744" y="558.8" width="9.8" height="4.5" fill="#ff7b00"/>
<rect x="753.5" y="558.8" width="9.8" height="4.5" fill="#ffd300"/>
<rect x="763" y="558.8" width="9.8" height="4.5" fill="#ff9100"/>
<rect x="772.5" y="558.8" width="9.8" height="4.5" fill="#ffe900"/>
<rect x="522.5" y="563" width="9.8" height="4.5" fill="#ffbd00"/>
<rect x="532" y="563" width="9.8" height="4.5" fill="#ffd300"/>
<rect x="541.5" y="563" width="9.8" height="4.5" fill="#ff3800"/>
<rect x="551" y="563" width="9.8" height="4.5" fill="#ff6400"/>
<rect x="560.5" y="563" width="9.8" height="4.5" fill="#ff0c00"/>
<rect x="570" y="563" width="9.8" height="4.5" fill="#ff6400"/>
<rect x="579.5" y="563" width="9.8" height="4.5" fill="#ff2200"/>
<rect x="589" y="563" width="9.8" height="4.5" fill="#ff4e00"/>
<rect x="598.5" y="563" width="9.8" height="4.5" fill="#ffe900"/>
<rect x="608" y="563" width="9.8" height="4.5" fill="#ffa700"/>
<rect x="617.5" y="563" width="9.8" height="4.5" fill="#ffe900"/>
<rect x="627" y="563" width="9.8" height="4.5" fill="#ff3800"/>
<rect x="636.5" y="563" width="9.8" height="4.5" fill="#ff7b00"/>
<rect x="646" y="563" width="9.8" height="4.5" fill="#ffbd00"/>
<rect x="655.5" y="563" width="9.8" height="4.5" fill="#ffe900"/>
<rect x="665" y="563" width="9.8" height="4.5" fill="#ffff00"/>
<rect x="674.5" y="563" width="19.3" height="4.5" fill="#ffbd00"/>
<rect x="693.5" y="563" width="9.8" height="4.5" fill="#ff3800"/>
<rect x="703" y="563" width="9.8" height="4.5" fill="#ff2200"/>
<rect x="712.5" y="563" width="9.8" height="4.5" fill="#ff0c00"/>
<rect x="722" y="563" width="9.8" height="4.5" fill="#ff3800"/>
<rect x="731.5" y="563" width="9.8" height="4.5" fill="#ff2200"/>
<rect x="741" y="563" width="9.8" height="4.5" fill="#ff6400"/>
<rect x="750.5" y="563" width="9.8" height="4.5" fill="#ffd300"/>
<rect x="760" y="563" width="9.8" height="4.5" fill="#ffa700"/>
<rect x="516" y="567.2" width="9.8" height="4.5" fill="#ff4e00"/>
<rect x="525.5" y="567.2" width="9.8" height="4.5" fill="#ff9100"/>
<rect x="535" y="567.2" width="9.8" height="4.5" fill="#ffff00"/>
<rect x="544.5" y="567.2" width="9.8" height="4.5" fill="#ff7b00"/>
<rect x="554" y="567.2" width="9.8" height="4.5" fill="#ff0c00"/>
<rect x="563.5" y="567.2" width="9.8" height="4.5" fill="#d20c0c"/>
<rect x="573" y="567.2" width="19.3" height="4.5" fill="#ff0c00"/>
<rect x="592" y="567.2" width="9.8" height="4.5" fill="#ff2200"/>
<rect x="601.5" y="567.2" width="9.8" height="4.5" fill="#ff9100"/>
<rect x="611" y="567.2" width="9.8" height="4.5" fill="#ff7b00"/>
<rect x="620.5" y="567.2" width="9.8" height="4.5" fill="#ff3800"/>
<rect x="630" y="567.2" width="9.8" height="4.5" fill="#ff6400"/>
<rect x="639.5" y="567.2" width="9.8" height="4.5" fill="#ff3800"/>
<rect x="649" y="567.2" width="9.8" height="4.5" fill="#ff9100"/>
<rect x="658.5" y="567.2" width="9.8" height="4.5" fill="#ffe900"/>
<rect x="668" y="567.2" width="9.8" height="4.5" fill="#ffff00"/>
<rect x="677.5" y="567.2" width="9.8" height="4.5" fill="#ffa700"/>
<rect x="687" y="567.2" width="9.8" height="4.5" fill="#ffe900"/>
<rect x="696.5" y="567.2" width="9.8" height="4.5" fill="#ff7b00"/>
<rect x="706" y="567.2" width="9.8" height="4.5" fill="#ff2200"/>
<rect x="715.5" y="567.2" width="9.8" height="4.5" fill="#d20c0c"/>
<rect x="725" y="567.2" width="9.8" height="4.5" fill="#ff0c00"/>
<rect x="734.5" y="567.2" width="9.8" height="4.5" fill="#ff2200"/>
<rect x="744" y="567.2" width="9.8" height="4.5" fill="#ffd300"/>
<rect x="753.5" y="567.2" width="9.8" height="4.5" fill="#ffa700"/>
<rect x="763" y="567.2" width="9.8" height="4.5" fill="#ff7b00"/>
<rect x="503.5" y="571.4" width="9.8" height="4.5" fill="#ffa700"/>
<rect x="513" y="571.4" width="9.8" height="4.5" fill="#ff7b00"/>
<rect x="522.5" y="571.4" width="9.8" height="4.5" fill="#ff6400"/>
<rect x="532" y="571.4" width="9.8" height="4.5" fill="#ffff00"/>
<rect x="541.5" y="571.4" width="9.8" height="4.5" fill="#ff9100"/>
<rect x="551" y="571.4" width="9.8" height="4.5" fill="#ff6400"/>
<rect x="560.5" y="571.4" width="19.3" height="4.5" fill="#d20c0c"/>
<rect x="579.5" y="571.4" width="9.8" height="4.5" fill="#ff4e00"/>
<rect x="589" y="571.4" width="9.8" height="4.5" fill="#ffa700"/>
<rect x="598.5" y="571.4" width="9.8" height="4.5" fill="#ff9100"/>
<rect x="608" y="571.4" width="9.8" height="4.5" fill="#ffbd00"/>
<rect x="617.5" y="571.4" width="19.3" height="4.5" fill="#ff2200"/>
<rect x="636.5" y="571.4" width="9.8" height="4.5" fill="#ff3800"/>
<rect x="646" y="571.4" width="9.8" height="4.5" fill="#ffd300"/>
<rect x="655.5" y="571.4" width="9.8" height="4.5" fill="#ff6400"/>
<rect x="665" y="571.4" width="9.8" height="4.5" fill="#ffd300"/>
<rect x="674.5" y="571.4" width="9.8" height="4.5" fill="#ff3800"/>
<rect x="684" y="571.4" width="19.3" height="4.5" fill="#ffd300"/>
<rect x="703" y="571.4" width="9.8" height="4.5" fill="#ff3800"/>
<rect x="712.5" y="571.4" width="9.8" height="4.5" fill="#ff0c00"/>
<rect x="722" y="571.4" width="9.8" height="4.5" fill="#ff4e00"/>
<rect x="731.5" y="571.4" width="9.8" height="4.5" fill="#ff2200"/>
<rect x="741" y="571.4" width="9.8" height="4.5" fill="#ff6400"/>
<rect x="750.5" y="571.4" width="9.8" height="4.5" fill="#ff2200"/>
<rect x="760" y="571.4" width="9.8" height="4.5" fill="#ff0c00"/>
<rect x="497" y="575.6" width="9.8" height="4.5" fill="#d20c0c"/>
<rect x="506.5" y="575.6" width="19.3" height="4.5" fill="#ff3800"/>
<rect x="525.5" y="575.6" width="9.8" height="4.5" fill="#ffa700"/>
<rect x="535" y="575.6" width="9.8" height="4.5" fill="#ff9100"/>
<rect x="544.5" y="575.6" width="9.8" height="4.5" fill="#ff0c00"/>
<rect x="554" y="575.6" width="9.8" height="4.5" fill="#ffd300"/>
<rect x="563.5" y="575.6" width="9.8" height="4.5" fill="#ff0c00"/>
<rect x="573" y="575.6" width="9.8" height="4.5" fill="#d20c0c"/>
<rect x="582.5" y="575.6" width="9.8" height="4.5" fill="#ff2200"/>
<rect x="592" y="575.6" width="9.8" height="4.5" fill="#ff6400"/>
<rect x="601.5" y="575.6" width="9.8" height="4.5" fill="#ffe900"/>
<rect x="611" y="575.6" width="9.8" height="4.5" fill="#ffbd00"/>
<rect x="620.5" y="575.6" width="9.8" height="4.5" fill="#ff3800"/>
<rect x="630" y="575.6" width="9.8" height="4.5" fill="#ff0c00"/>
<rect x="639.5" y="575.6" width="9.8" height="4.5" fill="#ff9100"/>
<rect x="649" y="575.6" width="19.3" height="4.5" fill="#ff6400"/>
<rect x="668" y="575.6" width="9.8" height="4.5" fill="#ffa700"/>
<rect x="677.5" y="575.6" width="9.8" height="4.5" fill="#ff7b00"/>
<rect x="687" y="575.6" width="9.8" height="4.5" fill="#ff9100"/>
<rect x="696.5" y="575.6" width="19.3" height="4.5" fill="#ffe900"/>
<rect x="715.5" y="575.6" width="9.8" height="4.5" fill="#ff6400"/>
<rect x="725" y="575.6" width="9.8" height="4.5" fill="#ff0c00"/>
<rect x="734.5" y="575.6" width="9.8" height="4.5" fill="#d20c0c"/>
<rect x="744" y="575.6" width="9.8" height="4.5" fill="#ff3800"/>
<rect x="753.5" y="575.6" width="9.8" height="4.5" fill="#ff0c00"/>
<rect x="763" y="575.6" width="9.8" height="4.5" fill="#d20c0c"/>
<rect x="494" y="579.8" width="9.8" height="4.5" fill="#d20c0c"/>
<rect x="503.5" y="579.8" width="9.8" height="4.5" fill="#ff3800"/>
<rect x="513" y="579.8" width="9.8" height="4.5" fill="#ff0c00"/>
<rect x="522.5" y="579.8" width="9.8" height="4.5" fill="#ff6400"/>
<rect x="532" y="579.8" width="9.8" height="4.5" fill="#ff7b00"/>
<rect x="541.5" y="579.8" width="9.8" height="4.5" fill="#ff2200"/>
<rect x="551" y="579.8" width="9.8" height="4.5" fill="#ffd300"/>
<rect x="560.5" y="579.8" width="9.8" height="4.5" fill="#ff3800"/>
<rect x="570" y="579.8" width="9.8" height="4.5" fill="#ff0c00"/>
<rect x="579.5" y="579.8" width="9.8" height="4.5" fill="#ff2200"/>
<rect x="589" y="579.8" width="9.8" height="4.5" fill="#ff6400"/>
<rect x="598.5" y="579.8" width="9.8" height="4.5" fill="#ffe900"/>
<rect x="608" y="579.8" width="9.8" height="4.5" fill="#ffbd00"/>
<rect x="617.5" y="579.8" width="19.3" height="4.5" fill="#ff4e00"/>
<rect x="636.5" y="579.8" width="9.8" height="4.5" fill="#ff9100"/>
<rect x="646" y="579.8" width="9.8" height="4.5" fill="#ff3800"/>
<rect x="655.5" y="579.8" width="9.8" height="4.5" fill="#ff2200"/>
<rect x="665" y="579.8" width="9.8" height="4.5" fill="#ffbd00"/>
<rect x="674.5" y="579.8" width="9.8" height="4.5" fill="#ffa700"/>
<rect x="684" y="579.8" width="9.8" height="4.5" fill="#ffbd00"/>
<rect x="693.5" y="579.8" width="19.3" height="4.5" fill="#ffe900"/>
<rect x="712.5" y="579.8" width="9.8" height="4.5" fill="#ff9100"/>
<rect x="722" y="579.8" width="9.8" height="4.5" fill="#ff2200"/>
<rect x="731.5" y="579.8" width="9.8" height="4.5" fill="#d20c0c"/>
<rect x="741" y="579.8" width="9.8" height="4.5" fill="#ff2200"/>
<rect x="750.5" y="579.8" width="9.8" height="4.5" fill="#ff0c00"/>
<rect x="487.5" y="584" width="9.8" height="4.5" fill="#ff3800"/>
<rect x="497" y="584" width="9.8" height="4.5" fill="#ff4e00"/>
<rect x="506.5" y="584" width="9.8" height="4.5" fill="#ff7b00"/>
<rect x="516" y="584" width="19.3" height="4.5" fill="#ff2200"/>
<rect x="535" y="584" width="19.3" height="4.5" fill="#ff3800"/>
<rect x="554" y="584" width="9.8" height="4.5" fill="#ff7b00"/>
<rect x="563.5" y="584" width="9.8" height="4.5" fill="#ff2200"/>
<rect x="573" y="584" width="9.8" height="4.5" fill="#ff0c00"/>
<rect x="582.5" y="584" width="9.8" height="4.5" fill="#ff2200"/>
<rect x="592" y="584" width="9.8" height="4.5" fill="#ffa700"/>
<rect x="601.5" y="584" width="9.8" height="4.5" fill="#ff9100"/>
<rect x="611" y="584" width="9.8" height="4.5" fill="#ffa700"/>
<rect x="620.5" y="584" width="9.8" height="4.5" fill="#ffbd00"/>
<rect x="630" y="584" width="9.8" height="4.5" fill="#ff9100"/>
<rect x="639.5" y="584" width="9.8" height="4.5" fill="#ff7b00"/>
<rect x="649" y="584" width="9.8" height="4.5" fill="#ffa700"/>
<rect x="658.5" y="584" width="9.8" height="4.5" fill="#ff4e00"/>
<rect x="668" y="584" width="9.8" height="4.5" fill="#ffbd00"/>
<rect x="677.5" y="584" width="19.3" height="4.5" fill="#ffff00"/>
<rect x="696.5" y="584" width="9.8" height="4.5" fill="#ff7b00"/>
<rect x="706" y="584" width="19.3" height="4.5" fill="#ffe900"/>
<rect x="725" y="584" width="19.3" height="4.5" fill="#ff0c00"/>
<rect x="744" y="584" width="9.8" height="4.5" fill="#ff9100"/>
<rect x="753.5" y="584" width="9.8" height="4.5" fill="#ff0c00"/>
<rect x="475" y="588.2" width="9.8" height="4.5" fill="#ffbd00"/>
<rect x="484.5" y="588.2" width="9.8" height="4.5" fill="#ff0c00"/>
<rect x="494" y="588.2" width="9.8" height="4.5" fill="#ff2200"/>
<rect x="503.5" y="588.2" width="9.8" height="4.5" fill="#ff0c00"/>
<rect x="513" y="588.2" width="9.8" height="4.5" fill="#ffa700"/>
<rect x="522.5" y="588.2" width="9.8" height="4.5" fill="#ff6400"/>
<rect x="532" y="588.2" width="19.3" height="4.5" fill="#ff4e00"/>
<rect x="551" y="588.2" width="9.8" height="4.5" fill="#ff3800"/>
<rect x="560.5" y="588.2" width="19.3" height="4.5" fill="#ff0c00"/>
<rect x="579.5" y="588.2" width="9.8" height="4.5" fill="#ff2200"/>
<rect x="589" y="588.2" width="9.8" height="4.5" fill="#ffe900"/>
<rect x="598.5" y="588.2" width="9.8" height="4.5" fill="#ff7b00"/>
<rect x="608" y="588.2" width="9.8" height="4.5" fill="#ff4e00"/>
<rect x="617.5" y="588.2" width="9.8" height="4.5" fill="#ff9100"/>
<rect x="627" y="588.2" width="9.8" height="4.5" fill="#ffd300"/>
<rect x="636.5" y="588.2" width="9.8" height="4.5" fill="#ffa700"/>
<rect x="646" y="588.2" width="9.8" height="4.5" fill="#ffd300"/>
<rect x="655.5" y="588.2" width="9.8" height="4.5" fill="#ffa700"/>
<rect x="665" y="588.2" width="9.8" height="4.5" fill="#ffe900"/>
<rect x="674.5" y="588.2" width="9.8" height="4.5" fill="#ffa700"/>
<rect x="684" y="588.2" width="9.8" height="4.5" fill="#ffd300"/>
<rect x="693.5" y="588.2" width="9.8" height="4.5" fill="#ff2200"/>
<rect x="703" y="588.2" width="9.8" height="4.5" fill="#ffd300"/>
<rect x="712.5" y="588.2" width="9.8" height="4.5" fill="#ffa700"/>
<rect x="722" y="588.2" width="19.3" height="4.5" fill="#d20c0c"/>
<rect x="741" y="588.2" width="9.8" height="4.5" fill="#ff3800"/>
<rect x="750.5" y="588.2" width="9.8" height="4.5" fill="#ff0c00"/>
<rect x="478" y="592.4" width="9.8" height="4.5" fill="#ffa700"/>
<rect x="487.5" y="592.4" width="9.8" height="4.5" fill="#ff2200"/>
<rect x="497" y="592.4" width="9.8" height="4.5" fill="#ff0c00"/>
<rect x="506.5" y="592.4" width="9.8" height="4.5" fill="#ff4e00"/>
<rect x="516" y="592.4" width="9.8" height="4.5" fill="#ffe900"/>
<rect x="525.5" y="592.4" width="9.8" height="4.5" fill="#ffd300"/>
<rect x="535" y="592.4" width="9.8" height="4.5" fill="#ff7b00"/>
<rect x="544.5" y="592.4" width="9.8" height="4.5" fill="#ffbd00"/>
<rect x="554" y="592.4" width="9.8" height="4.5" fill="#ff6400"/>
<rect x="563.5" y="592.4" width="9.8" height="4.5" fill="#ff3800"/>
<rect x="573" y="592.4" width="9.8" height="4.5" fill="#d20c0c"/>
<rect x="582.5" y="592.4" width="9.8" height="4.5" fill="#ff2200"/>
<rect x="592" y="592.4" width="9.8" height="4.5" fill="#ffbd00"/>
<rect x="601.5" y="592.4" width="9.8" height="4.5" fill="#ff4e00"/>
<rect x="611" y="592.4" width="9.8" height="4.5" fill="#ff6400"/>
<rect x="620.5" y="592.4" width="9.8" height="4.5" fill="#ffd300"/>
<rect x="630" y="592.4" width="9.8" height="4.5" fill="#ffe900"/>
<rect x="639.5" y="592.4" width="9.8" height="4.5" fill="#ffa700"/>
<rect x="649" y="592.4" width="9.8" height="4.5" fill="#ffbd00"/>
<rect x="658.5" y="592.4" width="9.8" height="4.5" fill="#ff7b00"/>
<rect x="668" y="592.4" width="19.3" height="4.5" fill="#ff3800"/>
<rect x="687" y="592.4" width="9.8" height="4.5" fill="#ff9100"/>
<rect x="696.5" y="592.4" width="9.8" height="4.5" fill="#ff3800"/>
<rect x="706" y="592.4" width="9.8" height="4.5" fill="#ffbd00"/>
<rect x="715.5" y="592.4" width="9.8" height="4.5" fill="#ff6400"/>
<rect x="725" y="592.4" width="19.3" height="4.5" fill="#d20c0c"/>
<rect x="744" y="592.4" width="9.8" height="4.5" fill="#ff0c00"/>
<rect x="753.5" y="592.4" width="9.8" height="4.5" fill="#ff2200"/>
<rect x="475" y="596.6" width="9.8" height="4.5" fill="#ff7b00"/>
<rect x="484.5" y="596.6" width="9.8" height="4.5" fill="#d20c0c"/>
<rect x="494" y="596.6" width="9.8" height="4.5" fill="#ff0c00"/>
<rect x="503.5" y="596.6" width="19.3" height="4.5" fill="#ffd300"/>
<rect x="522.5" y="596.6" width="9.8" height="4.5" fill="#ffbd00"/>
<rect x="532" y="596.6" width="19.3" height="4.5" fill="#ffd300"/>
<rect x="551" y="596.6" width="9.8" height="4.5" fill="#ff9100"/>
<rect x="560.5" y="596.6" width="9.8" height="4.5" fill="#ffbd00"/>
<rect x="570" y="596.6" width="9.8" height="4.5" fill="#ff2200"/>
<rect x="579.5" y="596.6" width="19.3" height="4.5" fill="#ff3800"/>
<rect x="598.5" y="596.6" width="19.3" height="4.5" fill="#ff4e00"/>
<rect x="617.5" y="596.6" width="9.8" height="4.5" fill="#ffd300"/>
<rect x="627" y="596.6" width="9.8" height="4.5" fill="#ffe900"/>
<rect x="636.5" y="596.6" width="9.8" height="4.5" fill="#ffd300"/>
<rect x="646" y="596.6" width="19.3" height="4.5" fill="#ffa700"/>
<rect x="665" y="596.6" width="9.8" height="4.5" fill="#ff0c00"/>
<rect x="674.5" y="596.6" width="19.3" height="4.5" fill="#ff4e00"/>
<rect x="693.5" y="596.6" width="9.8" height="4.5" fill="#ff3800"/>
<rect x="703" y="596.6" width="9.8" height="4.5" fill="#ff7b00"/>
<rect x="712.5" y="596.6" width="9.8" height="4.5" fill="#ff4e00"/>
<rect x="722" y="596.6" width="19.3" height="4.5" fill="#d20c0c"/>
<rect x="741" y="596.6" width="19.3" height="4.5" fill="#ff0c00"/>
<rect x="468.5" y="600.8" width="9.8" height="4.5" fill="#ffd300"/>
<rect x="478" y="600.8" width="9.8" height="4.5" fill="#ffa700"/>
<rect x="487.5" y="600.8" width="9.8" height="4.5" fill="#d20c0c"/>
<rect x="497" y="600.8" width="9.8" height="4.5" fill="#ff3800"/>
<rect x="506.5" y="600.8" width="9.8" height="4.5" fill="#ffd300"/>
<rect x="516" y="600.8" width="19.3" height="4.5" fill="#ffff00"/>
<rect x="535" y="600.8" width="9.8" height="4.5" fill="#ffbd00"/>
<rect x="544.5" y="600.8" width="19.3" height="4.5" fill="#ffd300"/>
<rect x="563.5" y="600.8" width="9.8" height="4.5" fill="#ffbd00"/>
<rect x="573" y="600.8" width="9.8" height="4.5" fill="#ff2200"/>
<rect x="582.5" y="600.8" width="9.8" height="4.5" fill="#ff0c00"/>
<rect x="592" y="600.8" width="9.8" height="4.5" fill="#ff2200"/>
<rect x="601.5" y="600.8" width="9.8" height="4.5" fill="#ff0c00"/>
<rect x="611" y="600.8" width="9.8" height="4.5" fill="#ff6400"/>
<rect x="620.5" y="600.8" width="9.8" height="4.5" fill="#ffa700"/>
<rect x="630" y="600.8" width="19.3" height="4.5" fill="#ffe900"/>
<rect x="649" y="600.8" width="9.8" height="4.5" fill="#ff3800"/>
<rect x="658.5" y="600.8" width="19.3" height="4.5" fill="#ff6400"/>
<rect x="677.5" y="600.8" width="9.8" height="4.5" fill="#ff0c00"/>
<rect x="687" y="600.8" width="9.8" height="4.5" fill="#d20c0c"/>
<rect x="696.5" y="600.8" width="9.8" height="4.5" fill="#ff2200"/>
<rect x="706" y="600.8" width="9.8" height="4.5" fill="#ff9100"/>
<rect x="715.5" y="600.8" width="9.8" height="4.5" fill="#ff2200"/>
<rect x="725" y="600.8" width="19.3" height="4.5" fill="#ff0c00"/>
<rect x="744" y="600.8" width="9.8" height="4.5" fill="#ff4e00"/>
<rect x="753.5" y="600.8" width="9.8" height="4.5" fill="#d20c0c"/>
<rect x="465.5" y="605" width="9.8" height="4.5" fill="#ffd300"/>
<rect x="475" y="605" width="9.8" height="4.5" fill="#ffbd00"/>
<rect x="484.5" y="605" width="9.8" height="4.5" fill="#ff9100"/>
<rect x="494" y="605" width="9.8" height="4.5" fill="#ffe900"/>
<rect x="503.5" y="605" width="9.8" height="4.5" fill="#ffd300"/>
<rect x="513" y="605" width="9.8" height="4.5" fill="#ffe900"/>
<rect x="522.5" y="605" width="9.8" height="4.5" fill="#ffff00"/>
<rect x="532" y="605" width="9.8" height="4.5" fill="#ffd300"/>
<rect x="541.5" y="605" width="9.8" height="4.5" fill="#ffe900"/>
<rect x="551" y="605" width="9.8" height="4.5" fill="#ffbd00"/>
<rect x="560.5" y="605" width="9.8" height="4.5" fill="#ffd300"/>
<rect x="570" y="605" width="28.8" height="4.5" fill="#ff0c00"/>
<rect x="598.5" y="605" width="9.8" height="4.5" fill="#d20c0c"/>
<rect x="608" y="605" width="9.8" height="4.5" fill="#ff2200"/>
<rect x="617.5" y="605" width="9.8" height="4.5" fill="#ff0c00"/>
<rect x="627" y="605" width="9.8" height="4.5" fill="#ffa700"/>
<rect x="636.5" y="605" width="9.8" height="4.5" fill="#ffd300"/>
<rect x="646" y="605" width="9.8" height="4.5" fill="#ff2200"/>
<rect x="655.5" y="605" width="9.8" height="4.5" fill="#ff3800"/>
<rect x="665" y="605" width="9.8" height="4.5" fill="#ff9100"/>
<rect x="674.5" y="605" width="28.8" height="4.5" fill="#ff0c00"/>
<rect x="703" y="605" width="9.8" height="4.5" fill="#ffd300"/>
<rect x="712.5" y="605" width="9.8" height="4.5" fill="#ffbd00"/>
<rect x="722" y="605" width="9.8" height="4.5" fill="#ff2200"/>
<rect x="731.5" y="605" width="19.3" height="4.5" fill="#ff4e00"/>
<rect x="459" y="609.2" width="9.8" height="4.5" fill="#ffe900"/>
<rect x="468.5" y="609.2" width="9.8" height="4.5" fill="#ffa700"/>
<rect x="478" y="609.2" width="9.8" height="4.5" fill="#ffe900"/>
<rect x="487.5" y="609.2" width="9.8" height="4.5" fill="#ffbd00"/>
<rect x="497" y="609.2" width="19.3" height="4.5" fill="#ffd300"/>
<rect x="516" y="609.2" width="19.3" height="4.5" fill="#ffff00"/>
<rect x="535" y="609.2" width="9.8" height="4.5" fill="#ff2200"/>
<rect x="544.5" y="609.2" width="9.8" height="4.5" fill="#ffe900"/>
<rect x="554" y="609.2" width="9.8" height="4.5" fill="#ffa700"/>
<rect x="563.5" y="609.2" width="9.8" height="4.5" fill="#ff9100"/>
<rect x="573" y="609.2" width="9.8" height="4.5" fill="#ff0c00"/>
<rect x="582.5" y="609.2" width="28.8" height="4.5" fill="#d20c0c"/>
<rect x="611" y="609.2" width="19.3" height="4.5" fill="#ff0c00"/>
<rect x="630" y="609.2" width="19.3" height="4.5" fill="#ff6400"/>
<rect x="649" y="609.2" width="9.8" height="4.5" fill="#ff7b00"/>
<rect x="658.5" y="609.2" width="9.8" height="4.5" fill="#ffbd00"/>
<rect x="668" y="609.2" width="9.8" height="4.5" fill="#ffd300"/>
<rect x="677.5" y="609.2" width="9.8" height="4.5" fill="#ff3800"/>
<rect x="687" y="609.2" width="9.8" height="4.5" fill="#ff4e00"/>
<rect x="696.5" y="609.2" width="9.8" height="4.5" fill="#ff9100"/>
<rect x="706" y="609.2" width="19.3" height="4.5" fill="#ffff00"/>
<rect x="725" y="609.2" width="19.3" height="4.5" fill="#ff9100"/>
<rect x="744" y="609.2" width="9.8" height="4.5" fill="#ffd300"/>
<rect x="456" y="613.4" width="9.8" height="4.5" fill="#ffbd00"/>
<rect x="465.5" y="613.4" width="9.8" height="4.5" fill="#ffd300"/>
<rect x="475" y="613.4" width="38.3" height="4.5" fill="#ffe900"/>
<rect x="513" y="613.4" width="9.8" height="4.5" fill="#ffd300"/>
<rect x="522.5" y="613.4" width="9.8" height="4.5" fill="#ffe900"/>
<rect x="532" y="613.4" width="9.8" height="4.5" fill="#ff7b00"/>
<rect x="541.5" y="613.4" width="19.3" height="4.5" fill="#ffd300"/>
<rect x="560.5" y="613.4" width="9.8" height="4.5" fill="#ffbd00"/>
<rect x="570" y="613.4" width="9.8" height="4.5" fill="#d20c0c"/>
<rect x="579.5" y="613.4" width="9.8" height="4.5" fill="#ff0c00"/>
<rect x="589" y="613.4" width="19.3" height="4.5" fill="#d20c0c"/>
<rect x="608" y="613.4" width="19.3" height="4.5" fill="#ff0c00"/>
<rect x="627" y="613.4" width="9.8" height="4.5" fill="#ff3800"/>
<rect x="636.5" y="613.4" width="9.8" height="4.5" fill="#ff4e00"/>
<rect x="646" y="613.4" width="9.8" height="4.5" fill="#ff7b00"/>
<rect x="655.5" y="613.4" width="9.8" height="4.5" fill="#ffbd00"/>
<rect x="665" y="613.4" width="9.8" height="4.5" fill="#ffff00"/>
<rect x="674.5" y="613.4" width="9.8" height="4.5" fill="#ff3800"/>
<rect x="684" y="613.4" width="19.3" height="4.5" fill="#ff6400"/>
<rect x="703" y="613.4" width="19.3" height="4.5" fill="#ffff00"/>
<rect x="722" y="613.4" width="9.8" height="4.5" fill="#ffe900"/>
<rect x="731.5" y="613.4" width="9.8" height="4.5" fill="#ff7b00"/>
<rect x="741" y="613.4" width="9.8" height="4.5" fill="#ffbd00"/>
<rect x="459" y="617.6" width="9.8" height="4.5" fill="#ffd300"/>
<rect x="468.5" y="617.6" width="38.3" height="4.5" fill="#ffe900"/>
<rect x="506.5" y="617.6" width="9.8" height="4.5" fill="#ff9100"/>
<rect x="516" y="617.6" width="9.8" height="4.5" fill="#ffd300"/>
<rect x="525.5" y="617.6" width="9.8" height="4.5" fill="#ffa700"/>
<rect x="535" y="617.6" width="9.8" height="4.5" fill="#ff4e00"/>
<rect x="544.5" y="617.6" width="9.8" height="4.5" fill="#ff2200"/>
<rect x="554" y="617.6" width="9.8" height="4.5" fill="#ffbd00"/>
<rect x="563.5" y="617.6" width="9.8" height="4.5" fill="#ff9100"/>
<rect x="573" y="617.6" width="9.8" height="4.5" fill="#ff0c00"/>
<rect x="582.5" y="617.6" width="28.8" height="4.5" fill="#d20c0c"/>
<rect x="611" y="617.6" width="9.8" height="4.5" fill="#ff2200"/>
<rect x="620.5" y="617.6" width="9.8" height="4.5" fill="#ff0c00"/>
<rect x="630" y="617.6" width="9.8" height="4.5" fill="#ff7b00"/>
<rect x="639.5" y="617.6" width="9.8" height="4.5" fill="#d20c0c"/>
<rect x="649" y="617.6" width="9.8" height="4.5" fill="#ff4e00"/>
<rect x="658.5" y="617.6" width="9.8" height="4.5" fill="#d20c0c"/>
<rect x="668" y="617.6" width="9.8" height="4.5" fill="#ffa700"/>
<rect x="677.5" y="617.6" width="9.8" height="4.5" fill="#ff0c00"/>
<rect x="687" y="617.6" width="9.8" height="4.5" fill="#ff4e00"/>
<rect x="696.5" y="617.6" width="9.8" height="4.5" fill="#ff2200"/>
<rect x="706" y="617.6" width="9.8" height="4.5" fill="#ffff00"/>
<rect x="715.5" y="617.6" width="9.8" height="4.5" fill="#ffd300"/>
<rect x="725" y="617.6" width="9.8" height="4.5" fill="#ffff00"/>
<rect x="734.5" y="617.6" width="9.8" height="4.5" fill="#ffa700"/>
<rect x="744" y="617.6" width="9.8" height="4.5" fill="#ffbd00"/>
<rect x="446.5" y="621.8" width="19.3" height="4.5" fill="#ffbd00"/>
<rect x="465.5" y="621.8" width="9.8" height="4.5" fill="#ffa700"/>
<rect x="475" y="621.8" width="9.8" height="4.5" fill="#ffe900"/>
<rect x="484.5" y="621.8" width="9.8" height="4.5" fill="#ff7b00"/>
<rect x="494" y="621.8" width="9.8" height="4.5" fill="#ffbd00"/>
<rect x="503.5" y="621.8" width="9.8" height="4.5" fill="#ff7b00"/>
<rect x="513" y="621.8" width="19.3" height="4.5" fill="#ffe900"/>
<rect x="532" y="621.8" width="9.8" height="4.5" fill="#ff6400"/>
<rect x="541.5" y="621.8" width="9.8" height="4.5" fill="#ff0c00"/>
<rect x="551" y="621.8" width="9.8" height="4.5" fill="#ffbd00"/>
<rect x="560.5" y="621.8" width="9.8" height="4.5" fill="#ff4e00"/>
<rect x="570" y="621.8" width="9.8" height="4.5" fill="#ff2200"/>
<rect x="579.5" y="621.8" width="28.8" height="4.5" fill="#d20c0c"/>
<rect x="608" y="621.8" width="9.8" height="4.5" fill="#ff0c00"/>
<rect x="617.5" y="621.8" width="9.8" height="4.5" fill="#ff2200"/>
<rect x="627" y="621.8" width="9.8" height="4.5" fill="#ffbd00"/>
<rect x="636.5" y="621.8" width="9.8" height="4.5" fill="#d20c0c"/>
<rect x="646" y="621.8" width="9.8" height="4.5" fill="#ff0c00"/>
<rect x="655.5" y="621.8" width="9.8" height="4.5" fill="#d20c0c"/>
<rect x="665" y="621.8" width="9.8" height="4.5" fill="#ff9100"/>
<rect x="674.5" y="621.8" width="9.8" height="4.5" fill="#ff2200"/>
<rect x="684" y="621.8" width="9.8" height="4.5" fill="#ff0c00"/>
<rect x="693.5" y="621.8" width="9.8" height="4.5" fill="#ff3800"/>
<rect x="703" y="621.8" width="9.8" height="4.5" fill="#ffe900"/>
<rect x="712.5" y="621.8" width="9.8" height="4.5" fill="#ff9100"/>
<rect x="722" y="621.8" width="9.8" height="4.5" fill="#ffe900"/>
<rect x="731.5" y="621.8" width="19.3" height="4.5" fill="#ffd300"/>
<rect x="449.5" y="626" width="9.8" height="4.5" fill="#ffa700"/>
<rect x="459" y="626" width="9.8" height="4.5" fill="#ffbd00"/>
<rect x="468.5" y="626" width="9.8" height="4.5" fill="#ff2200"/>
<rect x="478" y="626" width="9.8" height="4.5" fill="#ff7b00"/>
<rect x="487.5" y="626" width="9.8" height="4.5" fill="#ffa700"/>
<rect x="497" y="626" width="9.8" height="4.5" fill="#ff9100"/>
<rect x="506.5" y="626" width="9.8" height="4.5" fill="#ff3800"/>
<rect x="516" y="626" width="9.8" height="4.5" fill="#ffff00"/>
<rect x="525.5" y="626" width="9.8" height="4.5" fill="#ffe900"/>
<rect x="535" y="626" width="9.8" height="4.5" fill="#ffa700"/>
<rect x="544.5" y="626" width="9.8" height="4.5" fill="#ff6400"/>
<rect x="554" y="626" width="9.8" height="4.5" fill="#ffd300"/>
<rect x="563.5" y="626" width="9.8" height="4.5" fill="#ff3800"/>
<rect x="573" y="626" width="9.8" height="4.5" fill="#ff0c00"/>
<rect x="582.5" y="626" width="9.8" height="4.5" fill="#ff3800"/>
<rect x="592" y="626" width="19.3" height="4.5" fill="#d20c0c"/>
<rect x="611" y="626" width="9.8" height="4.5" fill="#ff0c00"/>
<rect x="620.5" y="626" width="9.8" height="4.5" fill="#ffa700"/>
<rect x="630" y="626" width="9.8" height="4.5" fill="#ffd300"/>
<rect x="639.5" y="626" width="9.8" height="4.5" fill="#ff0c00"/>
<rect x="649" y="626" width="19.3" height="4.5" fill="#ff2200"/>
<rect x="668" y="626" width="9.8" height="4.5" fill="#ff9100"/>
<rect x="677.5" y="626" width="9.8" height="4.5" fill="#ff0c00"/>
<rect x="687" y="626" width="9.8" height="4.5" fill="#ff2200"/>
<rect x="696.5" y="626" width="9.8" height="4.5" fill="#ff6400"/>
<rect x="706" y="626" width="9.8" height="4.5" fill="#ffbd00"/>
<rect x="715.5" y="626" width="9.8" height="4.5" fill="#ffa700"/>
<rect x="725" y="626" width="19.3" height="4.5" fill="#ffff00"/>
<rect x="446.5" y="630.2" width="9.8" height="4.5" fill="#ffd300"/>
<rect x="456" y="630.2" width="9.8" height="4.5" fill="#ff2200"/>
<rect x="465.5" y="630.2" width="9.8" height="4.5" fill="#ff0c00"/>
<rect x="475" y="630.2" width="9.8" height="4.5" fill="#ff2200"/>
<rect x="484.5" y="630.2" width="9.8" height="4.5" fill="#ffbd00"/>
<rect x="494" y="630.2" width="9.8" height="4.5" fill="#ff3800"/>
<rect x="503.5" y="630.2" width="9.8" height="4.5" fill="#ffbd00"/>
<rect x="513" y="630.2" width="19.3" height="4.5" fill="#ffe900"/>
<rect x="532" y="630.2" width="9.8" height="4.5" fill="#ffd300"/>
<rect x="541.5" y="630.2" width="9.8" height="4.5" fill="#ffa700"/>
<rect x="551" y="630.2" width="9.8" height="4.5" fill="#ffe900"/>
<rect x="560.5" y="630.2" width="9.8" height="4.5" fill="#ff0c00"/>
<rect x="570" y="630.2" width="9.8" height="4.5" fill="#d20c0c"/>
<rect x="579.5" y="630.2" width="9.8" height="4.5" fill="#ff0c00"/>
<rect x="589" y="630.2" width="9.8" height="4.5" fill="#d20c0c"/>
<rect x="598.5" y="630.2" width="9.8" height="4.5" fill="#ff2200"/>
<rect x="608" y="630.2" width="9.8" height="4.5" fill="#d20c0c"/>
<rect x="617.5" y="630.2" width="9.8" height="4.5" fill="#ff6400"/>
<rect x="627" y="630.2" width="9.8" height="4.5" fill="#ff2200"/>
<rect x="636.5" y="630.2" width="9.8" height="4.5" fill="#ff0c00"/>
<rect x="646" y="630.2" width="9.8" height="4.5" fill="#ffbd00"/>
<rect x="655.5" y="630.2" width="9.8" height="4.5" fill="#ff7b00"/>
<rect x="665" y="630.2" width="9.8" height="4.5" fill="#ffd300"/>
<rect x="674.5" y="630.2" width="9.8" height="4.5" fill="#ff4e00"/>
<rect x="684" y="630.2" width="9.8" height="4.5" fill="#ff0c00"/>
<rect x="693.5" y="630.2" width="9.8" height="4.5" fill="#ff2200"/>
<rect x="703" y="630.2" width="9.8" height="4.5" fill="#ffff00"/>
<rect x="712.5" y="630.2" width="19.3" height="4.5" fill="#ffd300"/>
<rect x="731.5" y="630.2" width="9.8" height="4.5" fill="#ffff00"/>
<rect x="440" y="634.4" width="9.8" height="4.5" fill="#ffff00"/>
<rect x="449.5" y="634.4" width="9.8" height="4.5" fill="#ffe900"/>
<rect x="459" y="634.4" width="19.3" height="4.5" fill="#ff2200"/>
<rect x="478" y="634.4" width="9.8" height="4.5" fill="#ff0c00"/>
<rect x="487.5" y="634.4" width="9.8" height="4.5" fill="#ffe900"/>
<rect x="497" y="634.4" width="9.8" height="4.5" fill="#ff6400"/>
<rect x="506.5" y="634.4" width="9.8" height="4.5" fill="#ffbd00"/>
<rect x="516" y="634.4" width="9.8" height="4.5" fill="#ff4e00"/>
<rect x="525.5" y="634.4" width="9.8" height="4.5" fill="#ffa700"/>
<rect x="535" y="634.4" width="9.8" height="4.5" fill="#ffbd00"/>
<rect x="544.5" y="634.4" width="9.8" height="4.5" fill="#ff2200"/>
<rect x="554" y="634.4" width="9.8" height="4.5" fill="#ffbd00"/>
<rect x="563.5" y="634.4" width="9.8" height="4.5" fill="#ff0c00"/>
<rect x="573" y="634.4" width="9.8" height="4.5" fill="#ff6400"/>
<rect x="582.5" y="634.4" width="9.8" height="4.5" fill="#ff2200"/>
<rect x="592" y="634.4" width="9.8" height="4.5" fill="#d20c0c"/>
<rect x="601.5" y="634.4" width="9.8" height="4.5" fill="#ff2200"/>
<rect x="611" y="634.4" width="9.8" height="4.5" fill="#ff6400"/>
<rect x="620.5" y="634.4" width="9.8" height="4.5" fill="#ff9100"/>
<rect x="630" y="634.4" width="9.8" height="4.5" fill="#ff2200"/>
<rect x="639.5" y="634.4" width="9.8" height="4.5" fill="#ff0c00"/>
<rect x="649" y="634.4" width="19.3" height="4.5" fill="#ffe900"/>
<rect x="668" y="634.4" width="9.8" height="4.5" fill="#ff9100"/>
<rect x="677.5" y="634.4" width="9.8" height="4.5" fill="#ff4e00"/>
<rect x="687" y="634.4" width="9.8" height="4.5" fill="#d20c0c"/>
<rect x="696.5" y="634.4" width="9.8" height="4.5" fill="#ff0c00"/>
<rect x="706" y="634.4" width="19.3" height="4.5" fill="#ffff00"/>
<rect x="725" y="634.4" width="9.8" height="4.5" fill="#ffe900"/>
<rect x="734.5" y="634.4" width="9.8" height="4.5" fill="#ffff00"/>
<rect x="437" y="638.6" width="19.3" height="4.5" fill="#ffff00"/>
<rect x="456" y="638.6" width="9.8" height="4.5" fill="#ffa700"/>
<rect x="465.5" y="638.6" width="9.8" height="4.5" fill="#ff2200"/>
<rect x="475" y="638.6" width="9.8" height="4.5" fill="#ff0c00"/>
<rect x="484.5" y="638.6" width="9.8" height="4.5" fill="#ffd300"/>
<rect x="494" y="638.6" width="9.8" height="4.5" fill="#ff6400"/>
<rect x="503.5" y="638.6" width="9.8" height="4.5" fill="#ffbd00"/>
<rect x="513" y="638.6" width="9.8" height="4.5" fill="#ff4e00"/>
<rect x="522.5" y="638.6" width="9.8" height="4.5" fill="#ff7b00"/>
<rect x="532" y="638.6" width="9.8" height="4.5" fill="#ff3800"/>
<rect x="541.5" y="638.6" width="9.8" height="4.5" fill="#ff0c00"/>
<rect x="551" y="638.6" width="9.8" height="4.5" fill="#ffd300"/>
<rect x="560.5" y="638.6" width="9.8" height="4.5" fill="#ff0c00"/>
<rect x="570" y="638.6" width="9.8" height="4.5" fill="#ff9100"/>
<rect x="579.5" y="638.6" width="9.8" height="4.5" fill="#ff4e00"/>
<rect x="589" y="638.6" width="19.3" height="4.5" fill="#ff0c00"/>
<rect x="608" y="638.6" width="9.8" height="4.5" fill="#ff7b00"/>
<rect x="617.5" y="638.6" width="19.3" height="4.5" fill="#ff0c00"/>
<rect x="636.5" y="638.6" width="9.8" height="4.5" fill="#ff2200"/>
<rect x="646" y="638.6" width="9.8" height="4.5" fill="#ffa700"/>
<rect x="655.5" y="638.6" width="9.8" height="4.5" fill="#ffd300"/>
<rect x="665" y="638.6" width="9.8" height="4.5" fill="#ffa700"/>
<rect x="674.5" y="638.6" width="9.8" height="4.5" fill="#ff2200"/>
<rect x="684" y="638.6" width="9.8" height="4.5" fill="#ff0c00"/>
<rect x="693.5" y="638.6" width="9.8" height="4.5" fill="#ff2200"/>
<rect x="703" y="638.6" width="9.8" height="4.5" fill="#ffd300"/>
<rect x="712.5" y="638.6" width="28.8" height="4.5" fill="#ffe900"/>
<rect x="440" y="642.8" width="9.8" height="4.5" fill="#ffe900"/>
<rect x="449.5" y="642.8" width="9.8" height="4.5" fill="#ffff00"/>
<rect x="459" y="642.8" width="9.8" height="4.5" fill="#ff9100"/>
<rect x="468.5" y="642.8" width="19.3" height="4.5" fill="#ff2200"/>
<rect x="487.5" y="642.8" width="9.8" height="4.5" fill="#ffd300"/>
<rect x="497" y="642.8" width="19.3" height="4.5" fill="#ffa700"/>
<rect x="516" y="642.8" width="9.8" height="4.5" fill="#ff0c00"/>
<rect x="525.5" y="642.8" width="9.8" height="4.5" fill="#ffd300"/>
<rect x="535" y="642.8" width="9.8" height="4.5" fill="#ff3800"/>
<rect x="544.5" y="642.8" width="9.8" height="4.5" fill="#ffa700"/>
<rect x="554" y="642.8" width="9.8" height="4.5" fill="#ffe900"/>
<rect x="563.5" y="642.8" width="9.8" height="4.5" fill="#ff3800"/>
<rect x="573" y="642.8" width="9.8" height="4.5" fill="#ff9100"/>
<rect x="582.5" y="642.8" width="9.8" height="4.5" fill="#ff0c00"/>
<rect x="592" y="642.8" width="9.8" height="4.5" fill="#ffa700"/>
<rect x="601.5" y="642.8" width="9.8" height="4.5" fill="#ff0c00"/>
<rect x="611" y="642.8" width="9.8" height="4.5" fill="#ff7b00"/>
<rect x="620.5" y="642.8" width="9.8" height="4.5" fill="#d20c0c"/>
<rect x="630" y="642.8" width="19.3" height="4.5" fill="#ff0c00"/>
<rect x="649" y="642.8" width="9.8" height="4.5" fill="#ff4e00"/>
<rect x="658.5" y="642.8" width="28.8" height="4.5" fill="#ffd300"/>
<rect x="687" y="642.8" width="9.8" height="4.5" fill="#ff7b00"/>
<rect x="696.5" y="642.8" width="9.8" height="4.5" fill="#ff9100"/>
<rect x="706" y="642.8" width="9.8" height="4.5" fill="#ffa700"/>
<rect x="715.5" y="642.8" width="9.8" height="4.5" fill="#ffff00"/>
<rect x="725" y="642.8" width="9.8" height="4.5" fill="#ffbd00"/>
<rect x="734.5" y="642.8" width="9.8" height="4.5" fill="#ffe900"/>
<rect x="437" y="647" width="19.3" height="4.5" fill="#ffff00"/>
<rect x="456" y="647" width="9.8" height="4.5" fill="#ffa700"/>
<rect x="465.5" y="647" width="9.8" height="4.5" fill="#ff0c00"/>
<rect x="475" y="647" width="9.8" height="4.5" fill="#ff2200"/>
<rect x="484.5" y="647" width="9.8" height="4.5" fill="#ff0c00"/>
<rect x="494" y="647" width="9.8" height="4.5" fill="#ff2200"/>
<rect x="503.5" y="647" width="9.8" height="4.5" fill="#ffa700"/>
<rect x="513" y="647" width="9.8" height="4.5" fill="#ff4e00"/>
<rect x="522.5" y="647" width="19.3" height="4.5" fill="#ff3800"/>
<rect x="541.5" y="647" width="9.8" height="4.5" fill="#ffd300"/>
<rect x="551" y="647" width="9.8" height="4.5" fill="#ffbd00"/>
<rect x="560.5" y="647" width="9.8" height="4.5" fill="#ff2200"/>
<rect x="570" y="647" width="9.8" height="4.5" fill="#ff3800"/>
<rect x="579.5" y="647" width="9.8" height="4.5" fill="#ff0c00"/>
<rect x="589" y="647" width="9.8" height="4.5" fill="#ff6400"/>
<rect x="598.5" y="647" width="9.8" height="4.5" fill="#d20c0c"/>
<rect x="608" y="647" width="9.8" height="4.5" fill="#ff2200"/>
<rect x="617.5" y="647" width="19.3" height="4.5" fill="#d20c0c"/>
<rect x="636.5" y="647" width="9.8" height="4.5" fill="#ff4e00"/>
<rect x="646" y="647" width="9.8" height="4.5" fill="#ff9100"/>
<rect x="655.5" y="647" width="9.8" height="4.5" fill="#ffe900"/>
<rect x="665" y="647" width="19.3" height="4.5" fill="#ffff00"/>
<rect x="684" y="647" width="9.8" height="4.5" fill="#ffbd00"/>
<rect x="693.5" y="647" width="19.3" height="4.5" fill="#ffa700"/>
<rect x="712.5" y="647" width="9.8" height="4.5" fill="#ffff00"/>
<rect x="722" y="647" width="9.8" height="4.5" fill="#ff6400"/>
<rect x="731.5" y="647" width="9.8" height="4.5" fill="#ff7b00"/>
<rect x="440" y="651.2" width="9.8" height="4.5" fill="#ffd300"/>
<rect x="449.5" y="651.2" width="9.8" height="4.5" fill="#ffe900"/>
<rect x="459" y="651.2" width="9.8" height="4.5" fill="#ffd300"/>
<rect x="468.5" y="651.2" width="9.8" height="4.5" fill="#ff3800"/>
<rect x="478" y="651.2" width="19.3" height="4.5" fill="#ff0c00"/>
<rect x="497" y="651.2" width="9.8" height="4.5" fill="#ff2200"/>
<rect x="506.5" y="651.2" width="9.8" height="4.5" fill="#ff0c00"/>
<rect x="516" y="651.2" width="9.8" height="4.5" fill="#ff6400"/>
<rect x="525.5" y="651.2" width="9.8" height="4.5" fill="#d20c0c"/>
<rect x="535" y="651.2" width="9.8" height="4.5" fill="#ff2200"/>
<rect x="544.5" y="651.2" width="28.8" height="4.5" fill="#ff7b00"/>
<rect x="573" y="651.2" width="19.3" height="4.5" fill="#d20c0c"/>
<rect x="592" y="651.2" width="9.8" height="4.5" fill="#ff3800"/>
<rect x="601.5" y="651.2" width="9.8" height="4.5" fill="#ff2200"/>
<rect x="611" y="651.2" width="9.8" height="4.5" fill="#ff0c00"/>
<rect x="620.5" y="651.2" width="9.8" height="4.5" fill="#d20c0c"/>
<rect x="630" y="651.2" width="9.8" height="4.5" fill="#ff0c00"/>
<rect x="639.5" y="651.2" width="9.8" height="4.5" fill="#ff6400"/>
<rect x="649" y="651.2" width="9.8" height="4.5" fill="#ffe900"/>
<rect x="658.5" y="651.2" width="9.8" height="4.5" fill="#ffbd00"/>
<rect x="668" y="651.2" width="9.8" height="4.5" fill="#ffff00"/>
<rect x="677.5" y="651.2" width="9.8" height="4.5" fill="#ffbd00"/>
<rect x="687" y="651.2" width="9.8" height="4.5" fill="#ff0c00"/>
<rect x="696.5" y="651.2" width="9.8" height="4.5" fill="#ffa700"/>
<rect x="706" y="651.2" width="9.8" height="4.5" fill="#ffe900"/>
<rect x="715.5" y="651.2" width="9.8" height="4.5" fill="#ffd300"/>
<rect x="725" y="651.2" width="9.8" height="4.5" fill="#ff2200"/>
<rect x="437" y="655.4" width="9.8" height="4.5" fill="#ff0c00"/>
<rect x="446.5" y="655.4" width="9.8" height="4.5" fill="#ff9100"/>
<rect x="456" y="655.4" width="9.8" height="4.5" fill="#ffa700"/>
<rect x="465.5" y="655.4" width="19.3" height="4.5" fill="#ff2200"/>
<rect x="484.5" y="655.4" width="9.8" height="4.5" fill="#d20c0c"/>
<rect x="494" y="655.4" width="9.8" height="4.5" fill="#ff2200"/>
<rect x="503.5" y="655.4" width="9.8" height="4.5" fill="#ff3800"/>
<rect x="513" y="655.4" width="9.8" height="4.5" fill="#ff0c00"/>
<rect x="522.5" y="655.4" width="9.8" height="4.5" fill="#d20c0c"/>
<rect x="532" y="655.4" width="19.3" height="4.5" fill="#ff2200"/>
<rect x="551" y="655.4" width="9.8" height="4.5" fill="#ff4e00"/>
<rect x="560.5" y="655.4" width="9.8" height="4.5" fill="#ff2200"/>
<rect x="570" y="655.4" width="9.8" height="4.5" fill="#d20c0c"/>
<rect x="579.5" y="655.4" width="9.8" height="4.5" fill="#ff0c00"/>
<rect x="589" y="655.4" width="9.8" height="4.5" fill="#ff4e00"/>
<rect x="598.5" y="655.4" width="9.8" height="4.5" fill="#d20c0c"/>
<rect x="608" y="655.4" width="9.8" height="4.5" fill="#ff2200"/>
<rect x="617.5" y="655.4" width="9.8" height="4.5" fill="#d20c0c"/>
<rect x="627" y="655.4" width="9.8" height="4.5" fill="#ff0c00"/>
<rect x="636.5" y="655.4" width="9.8" height="4.5" fill="#ff2200"/>
<rect x="646" y="655.4" width="9.8" height="4.5" fill="#ff7b00"/>
<rect x="655.5" y="655.4" width="9.8" height="4.5" fill="#ff9100"/>
<rect x="665" y="655.4" width="9.8" height="4.5" fill="#ffa700"/>
<rect x="674.5" y="655.4" width="9.8" height="4.5" fill="#ff6400"/>
<rect x="684" y="655.4" width="9.8" height="4.5" fill="#ff2200"/>
<rect x="693.5" y="655.4" width="9.8" height="4.5" fill="#ffd300"/>
<rect x="703" y="655.4" width="9.8" height="4.5" fill="#ffe900"/>
<rect x="712.5" y="655.4" width="9.8" height="4.5" fill="#ff9100"/>
<rect x="722" y="655.4" width="9.8" height="4.5" fill="#ff3800"/>
<rect x="440" y="659.6" width="9.8" height="4.5" fill="#d20c0c"/>
<rect x="449.5" y="659.6" width="28.8" height="4.5" fill="#ff7b00"/>
<rect x="478" y="659.6" width="9.8" height="4.5" fill="#ff2200"/>
<rect x="487.5" y="659.6" width="9.8" height="4.5" fill="#ffa700"/>
<rect x="497" y="659.6" width="9.8" height="4.5" fill="#ff4e00"/>
<rect x="506.5" y="659.6" width="9.8" height="4.5" fill="#ff3800"/>
<rect x="516" y="659.6" width="9.8" height="4.5" fill="#ff4e00"/>
<rect x="525.5" y="659.6" width="19.3" height="4.5" fill="#ff0c00"/>
<rect x="544.5" y="659.6" width="9.8" height="4.5" fill="#ff3800"/>
<rect x="554" y="659.6" width="9.8" height="4.5" fill="#ff0c00"/>
<rect x="563.5" y="659.6" width="9.8" height="4.5" fill="#ff9100"/>
<rect x="573" y="659.6" width="9.8" height="4.5" fill="#d20c0c"/>
<rect x="582.5" y="659.6" width="9.8" height="4.5" fill="#ff2200"/>
<rect x="592" y="659.6" width="9.8" height="4.5" fill="#ff9100"/>
<rect x="601.5" y="659.6" width="9.8" height="4.5" fill="#d20c0c"/>
<rect x="611" y="659.6" width="9.8" height="4.5" fill="#ff0c00"/>
<rect x="620.5" y="659.6" width="9.8" height="4.5" fill="#d20c0c"/>
<rect x="630" y="659.6" width="9.8" height="4.5" fill="#ff0c00"/>
<rect x="639.5" y="659.6" width="9.8" height="4.5" fill="#ff3800"/>
<rect x="649" y="659.6" width="9.8" height="4.5" fill="#ff0c00"/>
<rect x="658.5" y="659.6" width="19.3" height="4.5" fill="#ff3800"/>
<rect x="677.5" y="659.6" width="9.8" height="4.5" fill="#ff7b00"/>
<rect x="687" y="659.6" width="9.8" height="4.5" fill="#ffff00"/>
<rect x="696.5" y="659.6" width="9.8" height="4.5" fill="#ffbd00"/>
<rect x="706" y="659.6" width="9.8" height="4.5" fill="#ffd300"/>
<rect x="715.5" y="659.6" width="9.8" height="4.5" fill="#ff9100"/>
<rect x="437" y="663.8" width="9.8" height="4.5" fill="#ff0c00"/>
<rect x="446.5" y="663.8" width="9.8" height="4.5" fill="#ff7b00"/>
<rect x="456" y="663.8" width="9.8" height="4.5" fill="#ff9100"/>
<rect x="465.5" y="663.8" width="28.8" height="4.5" fill="#ffbd00"/>
<rect x="494" y="663.8" width="9.8" height="4.5" fill="#ff6400"/>
<rect x="503.5" y="663.8" width="9.8" height="4.5" fill="#ffe900"/>
<rect x="513" y="663.8" width="9.8" height="4.5" fill="#ff9100"/>
<rect x="522.5" y="663.8" width="9.8" height="4.5" fill="#ff2200"/>
<rect x="532" y="663.8" width="28.8" height="4.5" fill="#ff0c00"/>
<rect x="560.5" y="663.8" width="9.8" height="4.5" fill="#ff3800"/>
<rect x="570" y="663.8" width="9.8" height="4.5" fill="#ff2200"/>
<rect x="579.5" y="663.8" width="19.3" height="4.5" fill="#ff0c00"/>
<rect x="598.5" y="663.8" width="9.8" height="4.5" fill="#d20c0c"/>
<rect x="608" y="663.8" width="9.8" height="4.5" fill="#ff0c00"/>
<rect x="617.5" y="663.8" width="9.8" height="4.5" fill="#ff6400"/>
<rect x="627" y="663.8" width="28.8" height="4.5" fill="#ff0c00"/>
<rect x="655.5" y="663.8" width="9.8" height="4.5" fill="#ff2200"/>
<rect x="665" y="663.8" width="9.8" height="4.5" fill="#ff4e00"/>
<rect x="674.5" y="663.8" width="9.8" height="4.5" fill="#ff3800"/>
<rect x="684" y="663.8" width="9.8" height="4.5" fill="#ff7b00"/>
<rect x="693.5" y="663.8" width="9.8" height="4.5" fill="#ffbd00"/>
<rect x="703" y="663.8" width="9.8" height="4.5" fill="#ffd300"/>
<rect x="712.5" y="663.8" width="9.8" height="4.5" fill="#ffbd00"/>
<rect x="440" y="668" width="9.8" height="4.5" fill="#ff0c00"/>
<rect x="449.5" y="668" width="9.8" height="4.5" fill="#ffa700"/>
<rect x="459" y="668" width="9.8" height="4.5" fill="#ffbd00"/>
<rect x="468.5" y="668" width="9.8" height="4.5" fill="#ffa700"/>
<rect x="478" y="668" width="9.8" height="4.5" fill="#ffff00"/>
<rect x="487.5" y="668" width="9.8" height="4.5" fill="#ffbd00"/>
<rect x="497" y="668" width="9.8" height="4.5" fill="#ff2200"/>
<rect x="506.5" y="668" width="9.8" height="4.5" fill="#ff9100"/>
<rect x="516" y="668" width="9.8" height="4.5" fill="#ff2200"/>
<rect x="525.5" y="668" width="9.8" height="4.5" fill="#ff3800"/>
<rect x="535" y="668" width="9.8" height="4.5" fill="#ff0c00"/>
<rect x="544.5" y="668" width="9.8" height="4.5" fill="#ff2200"/>
<rect x="554" y="668" width="19.3" height="4.5" fill="#d20c0c"/>
<rect x="573" y="668" width="9.8" height="4.5" fill="#ff0c00"/>
<rect x="582.5" y="668" width="9.8" height="4.5" fill="#ff3800"/>
<rect x="592" y="668" width="19.3" height="4.5" fill="#d20c0c"/>
<rect x="611" y="668" width="9.8" height="4.5" fill="#ff0c00"/>
<rect x="620.5" y="668" width="9.8" height="4.5" fill="#ff4e00"/>
<rect x="630" y="668" width="19.3" height="4.5" fill="#d20c0c"/>
<rect x="649" y="668" width="9.8" height="4.5" fill="#ff0c00"/>
<rect x="658.5" y="668" width="9.8" height="4.5" fill="#d20c0c"/>
<rect x="668" y="668" width="9.8" height="4.5" fill="#ff6400"/>
<rect x="677.5" y="668" width="9.8" height="4.5" fill="#d20c0c"/>
<rect x="687" y="668" width="9.8" height="4.5" fill="#ff4e00"/>
<rect x="696.5" y="668" width="9.8" height="4.5" fill="#ffa700"/>
<rect x="706" y="668" width="9.8" height="4.5" fill="#ffe900"/>
<rect x="715.5" y="668" width="9.8" height="4.5" fill="#ffd300"/>
<rect x="437" y="672.2" width="19.3" height="4.5" fill="#ff7b00"/>
<rect x="456" y="672.2" width="9.8" height="4.5" fill="#ffa700"/>
<rect x="465.5" y="672.2" width="19.3" height="4.5" fill="#ffff00"/>
<rect x="484.5" y="672.2" width="9.8" height="4.5" fill="#ffe900"/>
<rect x="494" y="672.2" width="9.8" height="4.5" fill="#ff0c00"/>
<rect x="503.5" y="672.2" width="9.8" height="4.5" fill="#ff2200"/>
<rect x="513" y="672.2" width="9.8" height="4.5" fill="#ff0c00"/>
<rect x="522.5" y="672.2" width="9.8" height="4.5" fill="#ff3800"/>
<rect x="532" y="672.2" width="9.8" height="4.5" fill="#ff0c00"/>
<rect x="541.5" y="672.2" width="9.8" height="4.5" fill="#ff2200"/>
<rect x="551" y="672.2" width="9.8" height="4.5" fill="#d20c0c"/>
<rect x="560.5" y="672.2" width="9.8" height="4.5" fill="#ff2200"/>
<rect x="570" y="672.2" width="9.8" height="4.5" fill="#ff3800"/>
<rect x="579.5" y="672.2" width="9.8" height="4.5" fill="#ff2200"/>
<rect x="589" y="672.2" width="9.8" height="4.5" fill="#ff3800"/>
<rect x="598.5" y="672.2" width="9.8" height="4.5" fill="#ff0c00"/>
<rect x="608" y="672.2" width="9.8" height="4.5" fill="#ff4e00"/>
<rect x="617.5" y="672.2" width="9.8" height="4.5" fill="#ff2200"/>
<rect x="627" y="672.2" width="19.3" height="4.5" fill="#ff0c00"/>
<rect x="646" y="672.2" width="19.3" height="4.5" fill="#d20c0c"/>
<rect x="665" y="672.2" width="9.8" height="4.5" fill="#ff9100"/>
<rect x="674.5" y="672.2" width="9.8" height="4.5" fill="#ff0c00"/>
<rect x="684" y="672.2" width="9.8" height="4.5" fill="#ff7b00"/>
<rect x="693.5" y="672.2" width="19.3" height="4.5" fill="#ff9100"/>
<rect x="449.5" y="676.4" width="9.8" height="4.5" fill="#ff7b00"/>
<rect x="459" y="676.4" width="9.8" height="4.5" fill="#ffa700"/>
<rect x="468.5" y="676.4" width="9.8" height="4.5" fill="#ffd300"/>
<rect x="478" y="676.4" width="9.8" height="4.5" fill="#ffe900"/>
<rect x="487.5" y="676.4" width="9.8" height="4.5" fill="#ff6400"/>
<rect x="497" y="676.4" width="9.8" height="4.5" fill="#d20c0c"/>
<rect x="506.5" y="676.4" width="9.8" height="4.5" fill="#ff2200"/>
<rect x="516" y="676.4" width="9.8" height="4.5" fill="#ff0c00"/>
<rect x="525.5" y="676.4" width="9.8" height="4.5" fill="#ff2200"/>
<rect x="535" y="676.4" width="9.8" height="4.5" fill="#d20c0c"/>
<rect x="544.5" y="676.4" width="9.8" height="4.5" fill="#ff0c00"/>
<rect x="554" y="676.4" width="9.8" height="4.5" fill="#d20c0c"/>
<rect x="563.5" y="676.4" width="9.8" height="4.5" fill="#ff6400"/>
<rect x="573" y="676.4" width="9.8" height="4.5" fill="#d20c0c"/>
<rect x="582.5" y="676.4" width="9.8" height="4.5" fill="#ff6400"/>
<rect x="592" y="676.4" width="9.8" height="4.5" fill="#ffa700"/>
<rect x="601.5" y="676.4" width="9.8" height="4.5" fill="#ff4e00"/>
<rect x="611" y="676.4" width="19.3" height="4.5" fill="#ff2200"/>
<rect x="630" y="676.4" width="9.8" height="4.5" fill="#ff6400"/>
<rect x="639.5" y="676.4" width="9.8" height="4.5" fill="#ff2200"/>
<rect x="649" y="676.4" width="9.8" height="4.5" fill="#d20c0c"/>
<rect x="658.5" y="676.4" width="9.8" height="4.5" fill="#ff0c00"/>
<rect x="668" y="676.4" width="9.8" height="4.5" fill="#ff9100"/>
<rect x="677.5" y="676.4" width="19.3" height="4.5" fill="#ff6400"/>
<rect x="696.5" y="676.4" width="9.8" height="4.5" fill="#ff0c00"/>
<rect x="706" y="676.4" width="9.8" height="4.5" fill="#ff9100"/>
<rect x="446.5" y="680.6" width="9.8" height="4.5" fill="#ff6400"/>
<rect x="456" y="680.6" width="9.8" height="4.5" fill="#ff9100"/>
<rect x="465.5" y="680.6" width="9.8" height="4.5" fill="#ff4e00"/>
<rect x="475" y="680.6" width="9.8" height="4.5" fill="#ffbd00"/>
<rect x="484.5" y="680.6" width="9.8" height="4.5" fill="#ff2200"/>
<rect x="494" y="680.6" width="28.8" height="4.5" fill="#ff0c00"/>
<rect x="522.5" y="680.6" width="9.8" height="4.5" fill="#ff2200"/>
<rect x="532" y="680.6" width="9.8" height="4.5" fill="#d20c0c"/>
<rect x="541.5" y="680.6" width="9.8" height="4.5" fill="#ff0c00"/>
<rect x="551" y="680.6" width="9.8" height="4.5" fill="#d20c0c"/>
<rect x="560.5" y="680.6" width="9.8" height="4.5" fill="#ff0c00"/>
<rect x="570" y="680.6" width="9.8" height="4.5" fill="#d20c0c"/>
<rect x="579.5" y="680.6" width="9.8" height="4.5" fill="#ff0c00"/>
<rect x="589" y="680.6" width="9.8" height="4.5" fill="#ffe900"/>
<rect x="598.5" y="680.6" width="9.8" height="4.5" fill="#ff9100"/>
<rect x="608" y="680.6" width="9.8" height="4.5" fill="#ff4e00"/>
<rect x="617.5" y="680.6" width="9.8" height="4.5" fill="#ff2200"/>
<rect x="627" y="680.6" width="9.8" height="4.5" fill="#ffa700"/>
<rect x="636.5" y="680.6" width="9.8" height="4.5" fill="#ff3800"/>
<rect x="646" y="680.6" width="9.8" height="4.5" fill="#ff6400"/>
<rect x="655.5" y="680.6" width="9.8" height="4.5" fill="#ff7b00"/>
<rect x="665" y="680.6" width="9.8" height="4.5" fill="#ff6400"/>
<rect x="674.5" y="680.6" width="9.8" height="4.5" fill="#ffd300"/>
<rect x="684" y="680.6" width="9.8" height="4.5" fill="#ff6400"/>
<rect x="693.5" y="680.6" width="9.8" height="4.5" fill="#ff2200"/>
<rect x="440" y="684.8" width="19.3" height="4.5" fill="#ff2200"/>
<rect x="459" y="684.8" width="9.8" height="4.5" fill="#ff4e00"/>
<rect x="468.5" y="684.8" width="9.8" height="4.5" fill="#ff0c00"/>
<rect x="478" y="684.8" width="9.8" height="4.5" fill="#ff2200"/>
<rect x="487.5" y="684.8" width="9.8" height="4.5" fill="#d20c0c"/>
<rect x="497" y="684.8" width="9.8" height="4.5" fill="#ff0c00"/>
<rect x="506.5" y="684.8" width="9.8" height="4.5" fill="#ff4e00"/>
<rect x="516" y="684.8" width="9.8" height="4.5" fill="#ff9100"/>
<rect x="525.5" y="684.8" width="9.8" height="4.5" fill="#ff0c00"/>
<rect x="535" y="684.8" width="9.8" height="4.5" fill="#d20c0c"/>
<rect x="544.5" y="684.8" width="9.8" height="4.5" fill="#ff0c00"/>
<rect x="554" y="684.8" width="9.8" height="4.5" fill="#d20c0c"/>
<rect x="563.5" y="684.8" width="9.8" height="4.5" fill="#ff0c00"/>
<rect x="573" y="684.8" width="9.8" height="4.5" fill="#d20c0c"/>
<rect x="582.5" y="684.8" width="9.8" height="4.5" fill="#ff0c00"/>
<rect x="592" y="684.8" width="28.8" height="4.5" fill="#ff7b00"/>
<rect x="620.5" y="684.8" width="9.8" height="4.5" fill="#ffbd00"/>
<rect x="630" y="684.8" width="9.8" height="4.5" fill="#ff7b00"/>
<rect x="639.5" y="684.8" width="9.8" height="4.5" fill="#ff9100"/>
<rect x="649" y="684.8" width="9.8" height="4.5" fill="#ff3800"/>
<rect x="658.5" y="684.8" width="9.8" height="4.5" fill="#ff9100"/>
<rect x="668" y="684.8" width="9.8" height="4.5" fill="#ffa700"/>
<rect x="677.5" y="684.8" width="9.8" height="4.5" fill="#ffd300"/>
<rect x="687" y="684.8" width="19.3" height="4.5" fill="#ffa700"/>
<rect x="437" y="689" width="9.8" height="4.5" fill="#ff3800"/>
<rect x="446.5" y="689" width="9.8" height="4.5" fill="#ff7b00"/>
<rect x="456" y="689" width="9.8" height="4.5" fill="#ff3800"/>
<rect x="465.5" y="689" width="9.8" height="4.5" fill="#ffe900"/>
<rect x="475" y="689" width="9.8" height="4.5" fill="#ff0c00"/>
<rect x="484.5" y="689" width="9.8" height="4.5" fill="#d20c0c"/>
<rect x="494" y="689" width="9.8" height="4.5" fill="#ff2200"/>
<rect x="503.5" y="689" width="9.8" height="4.5" fill="#ff9100"/>
<rect x="513" y="689" width="9.8" height="4.5" fill="#ff3800"/>
<rect x="522.5" y="689" width="28.8" height="4.5" fill="#ff0c00"/>
<rect x="551" y="689" width="9.8" height="4.5" fill="#d20c0c"/>
<rect x="560.5" y="689" width="9.8" height="4.5" fill="#ff0c00"/>
<rect x="570" y="689" width="9.8" height="4.5" fill="#d20c0c"/>
<rect x="579.5" y="689" width="9.8" height="4.5" fill="#ff2200"/>
<rect x="589" y="689" width="9.8" height="4.5" fill="#ff0c00"/>
<rect x="598.5" y="689" width="9.8" height="4.5" fill="#ff7b00"/>
<rect x="608" y="689" width="9.8" height="4.5" fill="#ffbd00"/>
<rect x="617.5" y="689" width="9.8" height="4.5" fill="#ffd300"/>
<rect x="627" y="689" width="9.8" height="4.5" fill="#ff2200"/>
<rect x="636.5" y="689" width="9.8" height="4.5" fill="#ff3800"/>
<rect x="646" y="689" width="9.8" height="4.5" fill="#ff9100"/>
<rect x="655.5" y="689" width="9.8" height="4.5" fill="#ffe900"/>
<rect x="665" y="689" width="9.8" height="4.5" fill="#ffa700"/>
<rect x="674.5" y="689" width="19.3" height="4.5" fill="#ffff00"/>
<rect x="693.5" y="689" width="9.8" height="4.5" fill="#ffbd00"/>
<rect x="440" y="693.2" width="9.8" height="4.5" fill="#ff6400"/>
<rect x="449.5" y="693.2" width="9.8" height="4.5" fill="#ff2200"/>
<rect x="459" y="693.2" width="9.8" height="4.5" fill="#ffa700"/>
<rect x="468.5" y="693.2" width="9.8" height="4.5" fill="#ffe900"/>
<rect x="478" y="693.2" width="19.3" height="4.5" fill="#ff0c00"/>
<rect x="497" y="693.2" width="9.8" height="4.5" fill="#ff3800"/>
<rect x="506.5" y="693.2" width="9.8" height="4.5" fill="#ff4e00"/>
<rect x="516" y="693.2" width="9.8" height="4.5" fill="#ff0c00"/>
<rect x="525.5" y="693.2" width="9.8" height="4.5" fill="#ff4e00"/>
<rect x="535" y="693.2" width="9.8" height="4.5" fill="#ff2200"/>
<rect x="544.5" y="693.2" width="9.8" height="4.5" fill="#ff7b00"/>
<rect x="554" y="693.2" width="9.8" height="4.5" fill="#d20c0c"/>
<rect x="563.5" y="693.2" width="9.8" height="4.5" fill="#ff0c00"/>
<rect x="573" y="693.2" width="9.8" height="4.5" fill="#d20c0c"/>
<rect x="582.5" y="693.2" width="9.8" height="4.5" fill="#ff0c00"/>
<rect x="592" y="693.2" width="9.8" height="4.5" fill="#d20c0c"/>
<rect x="601.5" y="693.2" width="9.8" height="4.5" fill="#ff3800"/>
<rect x="611" y="693.2" width="9.8" height="4.5" fill="#ff6400"/>
<rect x="620.5" y="693.2" width="9.8" height="4.5" fill="#ff2200"/>
<rect x="630" y="693.2" width="9.8" height="4.5" fill="#d20c0c"/>
<rect x="639.5" y="693.2" width="19.3" height="4.5" fill="#ff0c00"/>
<rect x="658.5" y="693.2" width="9.8" height="4.5" fill="#ff9100"/>
<rect x="668" y="693.2" width="9.8" height="4.5" fill="#ff2200"/>
<rect x="677.5" y="693.2" width="19.3" height="4.5" fill="#ffe900"/>
<rect x="437" y="697.4" width="9.8" height="4.5" fill="#ff6400"/>
<rect x="446.5" y="697.4" width="9.8" height="4.5" fill="#ff9100"/>
<rect x="456" y="697.4" width="9.8" height="4.5" fill="#ff6400"/>
<rect x="465.5" y="697.4" width="9.8" height="4.5" fill="#ff7b00"/>
<rect x="475" y="697.4" width="9.8" height="4.5" fill="#ff2200"/>
<rect x="484.5" y="697.4" width="9.8" height="4.5" fill="#d20c0c"/>
<rect x="494" y="697.4" width="19.3" height="4.5" fill="#ff0c00"/>
<rect x="513" y="697.4" width="9.8" height="4.5" fill="#d20c0c"/>
<rect x="522.5" y="697.4" width="9.8" height="4.5" fill="#ffa700"/>
<rect x="532" y="697.4" width="9.8" height="4.5" fill="#ff9100"/>
<rect x="541.5" y="697.4" width="9.8" height="4.5" fill="#ff3800"/>
<rect x="551" y="697.4" width="9.8" height="4.5" fill="#d20c0c"/>
<rect x="560.5" y="697.4" width="9.8" height="4.5" fill="#ffa700"/>
<rect x="570" y="697.4" width="19.3" height="4.5" fill="#d20c0c"/>
<rect x="589" y="697.4" width="19.3" height="4.5" fill="#ff0c00"/>
<rect x="608" y="697.4" width="19.3" height="4.5" fill="#ff2200"/>
<rect x="627" y="697.4" width="19.3" height="4.5" fill="#ff0c00"/>
<rect x="646" y="697.4" width="9.8" height="4.5" fill="#ff7b00"/>
<rect x="655.5" y="697.4" width="9.8" height="4.5" fill="#ff6400"/>
<rect x="665" y="697.4" width="9.8" height="4.5" fill="#ff3800"/>
<rect x="674.5" y="697.4" width="19.3" height="4.5" fill="#ffd300"/>
<rect x="440" y="701.6" width="9.8" height="4.5" fill="#ff9100"/>
<rect x="449.5" y="701.6" width="9.8" height="4.5" fill="#ffa700"/>
<rect x="459" y="701.6" width="9.8" height="4.5" fill="#ff7b00"/>
<rect x="468.5" y="701.6" width="9.8" height="4.5" fill="#d20c0c"/>
<rect x="478" y="701.6" width="9.8" height="4.5" fill="#ff2200"/>
<rect x="487.5" y="701.6" width="9.8" height="4.5" fill="#ff0c00"/>
<rect x="497" y="701.6" width="9.8" height="4.5" fill="#ff3800"/>
<rect x="506.5" y="701.6" width="9.8" height="4.5" fill="#ff0c00"/>
<rect x="516" y="701.6" width="19.3" height="4.5" fill="#ff2200"/>
<rect x="535" y="701.6" width="9.8" height="4.5" fill="#ff3800"/>
<rect x="544.5" y="701.6" width="9.8" height="4.5" fill="#ff0c00"/>
<rect x="554" y="701.6" width="9.8" height="4.5" fill="#d20c0c"/>
<rect x="563.5" y="701.6" width="9.8" height="4.5" fill="#ff6400"/>
<rect x="573" y="701.6" width="9.8" height="4.5" fill="#d20c0c"/>
<rect x="582.5" y="701.6" width="9.8" height="4.5" fill="#ff2200"/>
<rect x="592" y="701.6" width="9.8" height="4.5" fill="#ff7b00"/>
<rect x="601.5" y="701.6" width="9.8" height="4.5" fill="#ff4e00"/>
<rect x="611" y="701.6" width="9.8" height="4.5" fill="#ff0c00"/>
<rect x="620.5" y="701.6" width="19.3" height="4.5" fill="#ff4e00"/>
<rect x="639.5" y="701.6" width="9.8" height="4.5" fill="#d20c0c"/>
<rect x="649" y="701.6" width="9.8" height="4.5" fill="#ff3800"/>
<rect x="658.5" y="701.6" width="9.8" height="4.5" fill="#ff2200"/>
<rect x="668" y="701.6" width="9.8" height="4.5" fill="#ff4e00"/>
<rect x="677.5" y="701.6" width="9.8" height="4.5" fill="#ffbd00"/>
<rect x="437" y="705.8" width="9.8" height="4.5" fill="#ff4e00"/>
<rect x="446.5" y="705.8" width="19.3" height="4.5" fill="#ff3800"/>
<rect x="465.5" y="705.8" width="38.3" height="4.5" fill="#d20c0c"/>
<rect x="503.5" y="705.8" width="9.8" height="4.5" fill="#ff2200"/>
<rect x="513" y="705.8" width="9.8" height="4.5" fill="#ffbd00"/>
<rect x="522.5" y="705.8" width="9.8" height="4.5" fill="#ff2200"/>
<rect x="532" y="705.8" width="9.8" height="4.5" fill="#ff4e00"/>
<rect x="541.5" y="705.8" width="9.8" height="4.5" fill="#d20c0c"/>
<rect x="551" y="705.8" width="9.8" height="4.5" fill="#ff2200"/>
<rect x="560.5" y="705.8" width="9.8" height="4.5" fill="#ff4e00"/>
<rect x="570" y="705.8" width="19.3" height="4.5" fill="#ff0c00"/>
<rect x="589" y="705.8" width="9.8" height="4.5" fill="#ffd300"/>
<rect x="598.5" y="705.8" width="19.3" height="4.5" fill="#ff0c00"/>
<rect x="617.5" y="705.8" width="19.3" height="4.5" fill="#ff6400"/>
<rect x="636.5" y="705.8" width="9.8" height="4.5" fill="#ff0c00"/>
<rect x="646" y="705.8" width="9.8" height="4.5" fill="#ff4e00"/>
<rect x="655.5" y="705.8" width="9.8" height="4.5" fill="#ff0c00"/>
<rect x="665" y="705.8" width="9.8" height="4.5" fill="#ff9100"/>
<rect x="674.5" y="705.8" width="9.8" height="4.5" fill="#ffa700"/>
<rect x="440" y="710" width="9.8" height="4.5" fill="#ffff00"/>
<rect x="449.5" y="710" width="9.8" height="4.5" fill="#ff7b00"/>
<rect x="459" y="710" width="9.8" height="4.5" fill="#ffa700"/>
<rect x="468.5" y="710" width="47.8" height="4.5" fill="#d20c0c"/>
<rect x="516" y="710" width="9.8" height="4.5" fill="#ff4e00"/>
<rect x="525.5" y="710" width="9.8" height="4.5" fill="#d20c0c"/>
<rect x="535" y="710" width="9.8" height="4.5" fill="#ff6400"/>
<rect x="544.5" y="710" width="9.8" height="4.5" fill="#ff0c00"/>
<rect x="554" y="710" width="9.8" height="4.5" fill="#ff2200"/>
<rect x="563.5" y="710" width="9.8" height="4.5" fill="#ffa700"/>
<rect x="573" y="710" width="9.8" height="4.5" fill="#ffe900"/>
<rect x="582.5" y="710" width="9.8" height="4.5" fill="#ff4e00"/>
<rect x="592" y="710" width="9.8" height="4.5" fill="#ffbd00"/>
<rect x="601.5" y="710" width="9.8" height="4.5" fill="#ff3800"/>
<rect x="611" y="710" width="9.8" height="4.5" fill="#ff4e00"/>
<rect x="620.5" y="710" width="9.8" height="4.5" fill="#ff9100"/>
<rect x="630" y="710" width="9.8" height="4.5" fill="#ff4e00"/>
<rect x="639.5" y="710" width="9.8" height="4.5" fill="#ff2200"/>
<rect x="649" y="710" width="19.3" height="4.5" fill="#ff7b00"/>
<rect x="668" y="710" width="9.8" height="4.5" fill="#ff6400"/>
<rect x="437" y="714.2" width="9.8" height="4.5" fill="#ffbd00"/>
<rect x="446.5" y="714.2" width="9.8" height="4.5" fill="#ff7b00"/>
<rect x="456" y="714.2" width="9.8" height="4.5" fill="#ffbd00"/>
<rect x="465.5" y="714.2" width="19.3" height="4.5" fill="#ff0c00"/>
<rect x="484.5" y="714.2" width="28.8" height="4.5" fill="#d20c0c"/>
<rect x="513" y="714.2" width="19.3" height="4.5" fill="#ff4e00"/>
<rect x="532" y="714.2" width="9.8" height="4.5" fill="#ff9100"/>
<rect x="541.5" y="714.2" width="9.8" height="4.5" fill="#ff4e00"/>
<rect x="551" y="714.2" width="9.8" height="4.5" fill="#ff6400"/>
<rect x="560.5" y="714.2" width="9.8" height="4.5" fill="#ffd300"/>
<rect x="570" y="714.2" width="9.8" height="4.5" fill="#ffff00"/>
<rect x="579.5" y="714.2" width="9.8" height="4.5" fill="#ffbd00"/>
<rect x="589" y="714.2" width="9.8" height="4.5" fill="#ff9100"/>
<rect x="598.5" y="714.2" width="9.8" height="4.5" fill="#ff2200"/>
<rect x="608" y="714.2" width="9.8" height="4.5" fill="#ffe900"/>
<rect x="617.5" y="714.2" width="9.8" height="4.5" fill="#ff7b00"/>
<rect x="627" y="714.2" width="9.8" height="4.5" fill="#ff6400"/>
<rect x="636.5" y="714.2" width="9.8" height="4.5" fill="#ff2200"/>
<rect x="646" y="714.2" width="9.8" height="4.5" fill="#ff0c00"/>
<rect x="655.5" y="714.2" width="19.3" height="4.5" fill="#ff3800"/>
<rect x="440" y="718.4" width="9.8" height="4.5" fill="#ffa700"/>
<rect x="449.5" y="718.4" width="9.8" height="4.5" fill="#ff6400"/>
<rect x="459" y="718.4" width="9.8" height="4.5" fill="#ff2200"/>
<rect x="468.5" y="718.4" width="9.8" height="4.5" fill="#ff3800"/>
<rect x="478" y="718.4" width="9.8" height="4.5" fill="#ff4e00"/>
<rect x="487.5" y="718.4" width="28.8" height="4.5" fill="#d20c0c"/>
<rect x="516" y="718.4" width="9.8" height="4.5" fill="#ff9100"/>
<rect x="525.5" y="718.4" width="9.8" height="4.5" fill="#ffbd00"/>
<rect x="535" y="718.4" width="9.8" height="4.5" fill="#ffd300"/>
<rect x="544.5" y="718.4" width="9.8" height="4.5" fill="#ffa700"/>
<rect x="554" y="718.4" width="9.8" height="4.5" fill="#ff2200"/>
<rect x="563.5" y="718.4" width="9.8" height="4.5" fill="#ffd300"/>
<rect x="573" y="718.4" width="9.8" height="4.5" fill="#ffe900"/>
<rect x="582.5" y="718.4" width="9.8" height="4.5" fill="#ffff00"/>
<rect x="592" y="718.4" width="9.8" height="4.5" fill="#ff3800"/>
<rect x="601.5" y="718.4" width="9.8" height="4.5" fill="#ff0c00"/>
<rect x="611" y="718.4" width="19.3" height="4.5" fill="#ffd300"/>
<rect x="630" y="718.4" width="9.8" height="4.5" fill="#ff4e00"/>
<rect x="639.5" y="718.4" width="9.8" height="4.5" fill="#d20c0c"/>
<rect x="649" y="718.4" width="9.8" height="4.5" fill="#ff9100"/>
<rect x="658.5" y="718.4" width="9.8" height="4.5" fill="#ff6400"/>
<rect x="668" y="718.4" width="9.8" height="4.5" fill="#ff2200"/>
<rect x="437" y="722.6" width="9.8" height="4.5" fill="#ff0c00"/>
<rect x="446.5" y="722.6" width="9.8" height="4.5" fill="#ff6400"/>
<rect x="456" y="722.6" width="9.8" height="4.5" fill="#ff7b00"/>
<rect x="465.5" y="722.6" width="9.8" height="4.5" fill="#ff4e00"/>
<rect x="475" y="722.6" width="9.8" height="4.5" fill="#ff2200"/>
<rect x="484.5" y="722.6" width="9.8" height="4.5" fill="#ff9100"/>
<rect x="494" y="722.6" width="9.8" height="4.5" fill="#ff2200"/>
<rect x="503.5" y="722.6" width="9.8" height="4.5" fill="#ff4e00"/>
<rect x="513" y="722.6" width="9.8" height="4.5" fill="#ffa700"/>
<rect x="522.5" y="722.6" width="9.8" height="4.5" fill="#ff6400"/>
<rect x="532" y="722.6" width="9.8" height="4.5" fill="#ff7b00"/>
<rect x="541.5" y="722.6" width="9.8" height="4.5" fill="#ff9100"/>
<rect x="551" y="722.6" width="9.8" height="4.5" fill="#ff6400"/>
<rect x="560.5" y="722.6" width="19.3" height="4.5" fill="#ff9100"/>
<rect x="579.5" y="722.6" width="9.8" height="4.5" fill="#ffbd00"/>
<rect x="589" y="722.6" width="9.8" height="4.5" fill="#ff2200"/>
<rect x="598.5" y="722.6" width="9.8" height="4.5" fill="#ff0c00"/>
<rect x="608" y="722.6" width="9.8" height="4.5" fill="#ff7b00"/>
<rect x="617.5" y="722.6" width="9.8" height="4.5" fill="#ffff00"/>
<rect x="627" y="722.6" width="9.8" height="4.5" fill="#ffa700"/>
<rect x="636.5" y="722.6" width="9.8" height="4.5" fill="#ff0c00"/>
<rect x="646" y="722.6" width="9.8" height="4.5" fill="#ff9100"/>
<rect x="655.5" y="722.6" width="9.8" height="4.5" fill="#ffd300"/>
<rect x="440" y="726.8" width="9.8" height="4.5" fill="#ff0c00"/>
<rect x="449.5" y="726.8" width="9.8" height="4.5" fill="#ffe900"/>
<rect x="459" y="726.8" width="9.8" height="4.5" fill="#ffff00"/>
<rect x="468.5" y="726.8" width="9.8" height="4.5" fill="#ffa700"/>
<rect x="478" y="726.8" width="9.8" height="4.5" fill="#ff0c00"/>
<rect x="487.5" y="726.8" width="9.8" height="4.5" fill="#ffd300"/>
<rect x="497" y="726.8" width="9.8" height="4.5" fill="#ff6400"/>
<rect x="506.5" y="726.8" width="9.8" height="4.5" fill="#ffbd00"/>
<rect x="516" y="726.8" width="9.8" height="4.5" fill="#ff2200"/>
<rect x="525.5" y="726.8" width="9.8" height="4.5" fill="#ff4e00"/>
<rect x="535" y="726.8" width="9.8" height="4.5" fill="#ffa700"/>
<rect x="544.5" y="726.8" width="9.8" height="4.5" fill="#ff9100"/>
<rect x="554" y="726.8" width="9.8" height="4.5" fill="#ffe900"/>
<rect x="563.5" y="726.8" width="19.3" height="4.5" fill="#ffa700"/>
<rect x="582.5" y="726.8" width="9.8" height="4.5" fill="#ff9100"/>
<rect x="592" y="726.8" width="9.8" height="4.5" fill="#ff4e00"/>
<rect x="601.5" y="726.8" width="9.8" height="4.5" fill="#ff0c00"/>
<rect x="611" y="726.8" width="9.8" height="4.5" fill="#ff7b00"/>
<rect x="620.5" y="726.8" width="9.8" height="4.5" fill="#ffff00"/>
<rect x="630" y="726.8" width="9.8" height="4.5" fill="#ffe900"/>
<rect x="639.5" y="726.8" width="9.8" height="4.5" fill="#ff2200"/>
<rect x="649" y="726.8" width="9.8" height="4.5" fill="#ffa700"/>
<rect x="658.5" y="726.8" width="9.8" height="4.5" fill="#ffe900"/>
<rect x="446.5" y="731" width="9.8" height="4.5" fill="#ffe900"/>
<rect x="456" y="731" width="9.8" height="4.5" fill="#ffff00"/>
<rect x="465.5" y="731" width="9.8" height="4.5" fill="#ffe900"/>
<rect x="475" y="731" width="9.8" height="4.5" fill="#ff2200"/>
<rect x="484.5" y="731" width="28.8" height="4.5" fill="#ffa700"/>
<rect x="513" y="731" width="9.8" height="4.5" fill="#ff4e00"/>
<rect x="522.5" y="731" width="9.8" height="4.5" fill="#ff9100"/>
<rect x="532" y="731" width="9.8" height="4.5" fill="#ff0c00"/>
<rect x="541.5" y="731" width="9.8" height="4.5" fill="#ff2200"/>
<rect x="551" y="731" width="9.8" height="4.5" fill="#ffe900"/>
<rect x="560.5" y="731" width="9.8" height="4.5" fill="#ff9100"/>
<rect x="570" y="731" width="9.8" height="4.5" fill="#ffd300"/>
<rect x="579.5" y="731" width="9.8" height="4.5" fill="#ff3800"/>
<rect x="589" y="731" width="19.3" height="4.5" fill="#ff2200"/>
<rect x="608" y="731" width="9.8" height="4.5" fill="#ffd300"/>
<rect x="617.5" y="731" width="9.8" height="4.5" fill="#ffe900"/>
<rect x="627" y="731" width="9.8" height="4.5" fill="#ffbd00"/>
<rect x="636.5" y="731" width="19.3" height="4.5" fill="#ffa700"/>
<rect x="449.5" y="735.2" width="19.3" height="4.5" fill="#ffff00"/>
<rect x="468.5" y="735.2" width="9.8" height="4.5" fill="#ffe900"/>
<rect x="478" y="735.2" width="9.8" height="4.5" fill="#ffbd00"/>
<rect x="487.5" y="735.2" width="9.8" height="4.5" fill="#ffa700"/>
<rect x="497" y="735.2" width="9.8" height="4.5" fill="#ffbd00"/>
<rect x="506.5" y="735.2" width="9.8" height="4.5" fill="#ffe900"/>
<rect x="516" y="735.2" width="9.8" height="4.5" fill="#ff7b00"/>
<rect x="525.5" y="735.2" width="9.8" height="4.5" fill="#ff4e00"/>
<rect x="535" y="735.2" width="9.8" height="4.5" fill="#ff3800"/>
<rect x="544.5" y="735.2" width="19.3" height="4.5" fill="#ff2200"/>
<rect x="563.5" y="735.2" width="9.8" height="4.5" fill="#ff4e00"/>
<rect x="573" y="735.2" width="9.8" height="4.5" fill="#ffa700"/>
<rect x="582.5" y="735.2" width="9.8" height="4.5" fill="#ff4e00"/>
<rect x="592" y="735.2" width="9.8" height="4.5" fill="#ff6400"/>
<rect x="601.5" y="735.2" width="9.8" height="4.5" fill="#ffa700"/>
<rect x="611" y="735.2" width="9.8" height="4.5" fill="#ffbd00"/>
<rect x="620.5" y="735.2" width="9.8" height="4.5" fill="#ffd300"/>
<rect x="630" y="735.2" width="9.8" height="4.5" fill="#ff9100"/>
<rect x="639.5" y="735.2" width="9.8" height="4.5" fill="#ffd300"/>
<rect x="649" y="735.2" width="9.8" height="4.5" fill="#ffbd00"/>
<rect x="446.5" y="739.4" width="19.3" height="4.5" fill="#ffe900"/>
<rect x="465.5" y="739.4" width="9.8" height="4.5" fill="#ffff00"/>
<rect x="475" y="739.4" width="19.3" height="4.5" fill="#ffd300"/>
<rect x="494" y="739.4" width="9.8" height="4.5" fill="#ffa700"/>
<rect x="503.5" y="739.4" width="9.8" height="4.5" fill="#ffe900"/>
<rect x="513" y="739.4" width="9.8" height="4.5" fill="#ffbd00"/>
<rect x="522.5" y="739.4" width="9.8" height="4.5" fill="#ff6400"/>
<rect x="532" y="739.4" width="9.8" height="4.5" fill="#ff0c00"/>
<rect x="541.5" y="739.4" width="9.8" height="4.5" fill="#ffbd00"/>
<rect x="551" y="739.4" width="9.8" height="4.5" fill="#ff3800"/>
<rect x="560.5" y="739.4" width="9.8" height="4.5" fill="#ff2200"/>
<rect x="570" y="739.4" width="9.8" height="4.5" fill="#ff0c00"/>
<rect x="579.5" y="739.4" width="9.8" height="4.5" fill="#ff6400"/>
<rect x="589" y="739.4" width="9.8" height="4.5" fill="#ff9100"/>
<rect x="598.5" y="739.4" width="19.3" height="4.5" fill="#ffd300"/>
<rect x="617.5" y="739.4" width="9.8" height="4.5" fill="#ffa700"/>
<rect x="627" y="739.4" width="9.8" height="4.5" fill="#ffd300"/>
<rect x="636.5" y="739.4" width="9.8" height="4.5" fill="#ff7b00"/>
<rect x="459" y="743.6" width="28.8" height="4.5" fill="#ff9100"/>
<rect x="487.5" y="743.6" width="28.8" height="4.5" fill="#ffd300"/>
<rect x="516" y="743.6" width="9.8" height="4.5" fill="#ff9100"/>
<rect x="525.5" y="743.6" width="9.8" height="4.5" fill="#ffa700"/>
<rect x="535" y="743.6" width="9.8" height="4.5" fill="#ff6400"/>
<rect x="544.5" y="743.6" width="9.8" height="4.5" fill="#ffe900"/>
<rect x="554" y="743.6" width="9.8" height="4.5" fill="#ffd300"/>
<rect x="563.5" y="743.6" width="9.8" height="4.5" fill="#ff9100"/>
<rect x="573" y="743.6" width="9.8" height="4.5" fill="#ff4e00"/>
<rect x="582.5" y="743.6" width="9.8" height="4.5" fill="#ff3800"/>
<rect x="592" y="743.6" width="9.8" height="4.5" fill="#ff9100"/>
<rect x="601.5" y="743.6" width="9.8" height="4.5" fill="#ff7b00"/>
<rect x="611" y="743.6" width="9.8" height="4.5" fill="#ffe900"/>
<rect x="620.5" y="743.6" width="9.8" height="4.5" fill="#ffa700"/>
<rect x="630" y="743.6" width="9.8" height="4.5" fill="#ff9100"/>
<rect x="465.5" y="747.8" width="9.8" height="4.5" fill="#ffbd00"/>
<rect x="475" y="747.8" width="9.8" height="4.5" fill="#ffa700"/>
<rect x="484.5" y="747.8" width="9.8" height="4.5" fill="#ffe900"/>
<rect x="494" y="747.8" width="9.8" height="4.5" fill="#ffbd00"/>
<rect x="503.5" y="747.8" width="9.8" height="4.5" fill="#ffa700"/>
<rect x="513" y="747.8" width="9.8" height="4.5" fill="#ff7b00"/>
<rect x="522.5" y="747.8" width="9.8" height="4.5" fill="#ffa700"/>
<rect x="532" y="747.8" width="9.8" height="4.5" fill="#ffe900"/>
<rect x="541.5" y="747.8" width="9.8" height="4.5" fill="#ffa700"/>
<rect x="551" y="747.8" width="9.8" height="4.5" fill="#ffd300"/>
<rect x="560.5" y="747.8" width="9.8" height="4.5" fill="#ff9100"/>
<rect x="570" y="747.8" width="9.8" height="4.5" fill="#ff2200"/>
<rect x="579.5" y="747.8" width="9.8" height="4.5" fill="#ff7b00"/>
<rect x="589" y="747.8" width="9.8" height="4.5" fill="#ff0c00"/>
<rect x="598.5" y="747.8" width="9.8" height="4.5" fill="#ffbd00"/>
<rect x="608" y="747.8" width="9.8" height="4.5" fill="#ffe900"/>
<rect x="617.5" y="747.8" width="9.8" height="4.5" fill="#ffbd00"/>
<rect x="627" y="747.8" width="9.8" height="4.5" fill="#ffe900"/>
<rect x="468.5" y="752" width="9.8" height="4.5" fill="#ffd300"/>
<rect x="478" y="752" width="9.8" height="4.5" fill="#ff6400"/>
<rect x="487.5" y="752" width="9.8" height="4.5" fill="#ff7b00"/>
<rect x="497" y="752" width="9.8" height="4.5" fill="#ffbd00"/>
<rect x="506.5" y="752" width="19.3" height="4.5" fill="#ff6400"/>
<rect x="525.5" y="752" width="9.8" height="4.5" fill="#ff2200"/>
<rect x="535" y="752" width="9.8" height="4.5" fill="#ffff00"/>
<rect x="544.5" y="752" width="9.8" height="4.5" fill="#ffe900"/>
<rect x="554" y="752" width="9.8" height="4.5" fill="#ffa700"/>
<rect x="563.5" y="752" width="9.8" height="4.5" fill="#ff7b00"/>
<rect x="573" y="752" width="9.8" height="4.5" fill="#ff0c00"/>
<rect x="582.5" y="752" width="9.8" height="4.5" fill="#ffa700"/>
<rect x="592" y="752" width="9.8" height="4.5" fill="#d20c0c"/>
<rect x="601.5" y="752" width="9.8" height="4.5" fill="#ffbd00"/>
<rect x="611" y="752" width="9.8" height="4.5" fill="#ffd300"/>
<rect x="620.5" y="752" width="9.8" height="4.5" fill="#ffa700"/>
<rect x="475" y="756.2" width="9.8" height="4.5" fill="#ff9100"/>
<rect x="484.5" y="756.2" width="9.8" height="4.5" fill="#ff3800"/>
<rect x="494" y="756.2" width="19.3" height="4.5" fill="#ffa700"/>
<rect x="513" y="756.2" width="9.8" height="4.5" fill="#ff6400"/>
<rect x="522.5" y="756.2" width="9.8" height="4.5" fill="#ff7b00"/>
<rect x="532" y="756.2" width="9.8" height="4.5" fill="#ffbd00"/>
<rect x="541.5" y="756.2" width="9.8" height="4.5" fill="#ffe900"/>
<rect x="551" y="756.2" width="9.8" height="4.5" fill="#ff9100"/>
<rect x="560.5" y="756.2" width="9.8" height="4.5" fill="#ffd300"/>
<rect x="570" y="756.2" width="9.8" height="4.5" fill="#ff7b00"/>
<rect x="579.5" y="756.2" width="9.8" height="4.5" fill="#ffbd00"/>
<rect x="589" y="756.2" width="9.8" height="4.5" fill="#ff9100"/>
<rect x="598.5" y="756.2" width="9.8" height="4.5" fill="#ffbd00"/>
<rect x="487.5" y="760.4" width="9.8" height="4.5" fill="#ffa700"/>
<rect x="497" y="760.4" width="19.3" height="4.5" fill="#ffd300"/>
<rect x="516" y="760.4" width="9.8" height="4.5" fill="#ffbd00"/>
<rect x="525.5" y="760.4" width="9.8" height="4.5" fill="#ffd300"/>
<rect x="535" y="760.4" width="19.3" height="4.5" fill="#ffe900"/>
<rect x="554" y="760.4" width="9.8" height="4.5" fill="#ff7b00"/>
<rect x="563.5" y="760.4" width="9.8" height="4.5" fill="#ffd300"/>
<rect x="573" y="760.4" width="9.8" height="4.5" fill="#ffbd00"/>
<rect x="582.5" y="760.4" width="9.8" height="4.5" fill="#ff4e00"/>
<rect x="592" y="760.4" width="9.8" height="4.5" fill="#ff9100"/>
<rect x="494" y="764.6" width="9.8" height="4.5" fill="#ffe900"/>
<rect x="503.5" y="764.6" width="9.8" height="4.5" fill="#ffff00"/>
<rect x="513" y="764.6" width="9.8" height="4.5" fill="#ffe900"/>
<rect x="522.5" y="764.6" width="9.8" height="4.5" fill="#ffbd00"/>
<rect x="532" y="764.6" width="9.8" height="4.5" fill="#ffe900"/>
<rect x="541.5" y="764.6" width="9.8" height="4.5" fill="#ff2200"/>
<rect x="551" y="764.6" width="19.3" height="4.5" fill="#ffd300"/>
<rect x="570" y="764.6" width="9.8" height="4.5" fill="#ffe900"/>
<rect x="506.5" y="768.8" width="9.8" height="4.5" fill="#ffff00"/>
<rect x="516" y="768.8" width="9.8" height="4.5" fill="#ffe900"/>
<rect x="525.5" y="768.8" width="19.3" height="4.5" fill="#ffff00"/>
<rect x="544.5" y="768.8" width="19.3" height="4.5" fill="#ff6400"/>
<defs><radialGradient id="dk"><stop offset="0" stop-color="#7a1c10" stop-opacity="0.55"/><stop offset="0.55" stop-color="#8a1c10" stop-opacity="0.25"/><stop offset="1" stop-color="#8a1c10" stop-opacity="0"/></radialGradient></defs>
<ellipse cx="552" cy="668" rx="34" ry="26" fill="url(#dk)"/>
<ellipse cx="612" cy="656" rx="26" ry="24" fill="url(#dk)"/>
<ellipse cx="692" cy="628" rx="14" ry="30" fill="url(#dk)"/>
<ellipse cx="484" cy="708" rx="22" ry="26" fill="url(#dk)"/>
<ellipse cx="588" cy="600" rx="26" ry="14" fill="url(#dk)"/>
<ellipse cx="740" cy="585" rx="16" ry="30" fill="url(#dk)"/>
<ellipse cx="748" cy="528" rx="22" ry="14" fill="url(#dk)"/>
<ellipse cx="600" cy="705" rx="30" ry="16" fill="url(#dk)"/>
</g>
<path d="M576,536 620,518.4 664,511.8 708,507.4 752,503 774,503 789.4,514 798,527.2 791.6,540.4 778.4,553.6 765.2,580 752,610.8 738.8,646 716.8,672.4 686,703.2 664,725.2 637.6,747.2 598,760.4 545.2,771.4 510,769.2 474.8,751.6 448.4,734 444,707.6 448.4,681.2 444,654.8 448.4,632.8 466,610.8 488,588.8 518.8,571.2 545.2,558 562.8,544.8Z" fill="none" stroke="#b9b58a" stroke-opacity="0.55" stroke-width="3"/>
<path d="M218,423 872,371 969,541 315,593Z M315,593 315,821 969,769 969,541 M218,423 218,651 315,821" fill="none" stroke="#333" stroke-width="0.9"/>
<path d="M364,411.2 367.8,414.2 371.4,414.5 372.7,414 374.1,414.9 380.7,417.8 387.5,419.5 400.6,423.4 410.9,426.9 422.8,430.3 434.3,434.4 446.6,439.9 457.9,445.2 467.7,450.6 475.9,456.2 482.3,461.6 485.6,464.6 489.8,470.5 493.3,477.2 494.2,480.6 492.5,483.8 492.8,485.4 489.7,486.4 493.7,486.8 495.3,487.9 493.5,488.4 496.7,488.5 499.1,489.1 510.7,488.4 520.5,487.4 521.4,486.2 525.6,485.5 529.9,486.5 532.1,489.6 530.8,490.9 528,489.5 529.9,486.5 525.6,485.5 523.6,483.7 521,481.9 519.8,479.7 516.6,478.8 513.2,478.3 511.1,477.3 514,476.1 517.5,474.9 519.4,472.8 525.2,471.9 533.1,471.3 539.7,471.9 542.9,472.8 543.6,474.1 541.2,474.5 547.3,474.2 554.5,474 559.9,474.4 565.8,473.9 575.3,474.1 581.6,476 585.1,478.4 581.5,479.5 577.5,479.8 577.4,481.3 580.6,481.5 582.9,480.1 585.1,478.4 588.7,479.3 596.7,480.6 600.8,478.7 608.4,477.3 608.7,474.2 610.9,470.9 615,467.1 620.9,464.7 628.9,464.1 634.7,465.1 636,461.9 640.5,458.9 648.4,458.2 661.4,459.1 675.3,461.5 687.1,464.1 697,466.8 706.9,469.5 716.9,472.6 724,474 733.3,475.7 747.1,479.5 759.9,481.5 771.6,481.7 779.5,480.2 786.5,479.6 789.1,481.6 795.2,482.2 802.3,484.3 810.2,488 817.1,492.4 820.8,495.4 820.3,498.1 816.9,499.8 814,498.6 811.2,499.9 803.7,502.1 796.8,505.4 792.7,508.5 791.4,511.3 784.3,514 777.9,515.6 776.3,517.9 780,519.2 777,521.7 769.5,523.9 759.6,526.8 751.4,527.8 743.3,526.5 740.4,528.9 736.1,529.1 736,531.4 738.5,533.4 734.2,535.9 733.2,539.3 731.8,542.1 730.2,544.4 733.9,545.7 735.2,550.5 741.6,548.9 744.7,549.2 749.3,547.2 750.6,544.4 760.1,543.1 767.3,540.4 769.3,541.3 777.5,537.9 786.1,535.1 794.1,531.2 804.5,529 814.9,526.8 825.4,524.9 834,522 843.7,521.2 854.7,522.5 863.9,523.4 867.9,525.3 874,525.9 879.8,523.3 890.8,522.1 899,521.2 902.4,522 904.3,520.2 910.9,516.4 917.8,513.2 923,512.2 927.9,508 934.3,506.4 942.7,505.8 948.9,506.6 M375,509.8 381.3,507.8 386.9,508.9 391.4,507.9 394,509.6 401.7,509.9 408.5,510.3 410.4,509.2 413.1,509.6 420.1,508.7 426.6,509.8 431.5,509.7 433.5,508.9 435.8,510 440.9,510.2 444.8,511.1 445.8,512.9 449.8,514.1 452.5,515.8 455.9,517.4 455.4,519.6 451.5,521.5 454.1,523.1 450.3,523.7 444.1,523 437.1,523.8 432.3,525.8 424.9,527.3 416.4,527 410.4,528.1 409.2,530.4 406.6,528.8 400.1,529 395.6,529.9 389.2,528.9 383.7,528.1 380.7,527.1 377,526.5 378.7,525.1 382,523.6 378,522.3 375.8,520 373.7,517.7 375.8,515.7 379.5,514.8 380.5,512.2 377.4,511.2 375,509.8 M476.3,498.2 481.4,497.2 484.4,498.2 488.1,498.1 489.5,497.2 494.1,497.6 495.3,498.6 492.7,499.5 488.4,500.8 486.9,502 488.2,502.6 487.4,503.4 484.2,504.3 483.2,505.4 481,506.4 479.6,505.6 477.1,506.1 473.8,505.9 472.7,507.1 473.7,508.4 470.9,508.4 468.2,508 468.2,506.3 470.6,505.7 474.4,505.7 476.6,505.2 477.3,503.3 478.2,501.6 477,501 474.5,500.5 476.9,500.3 477.4,499.5 476.3,498.2 M650.4,566.5 651.7,565.1 649.9,563.8 653,562.8 649.8,561.7 649.2,559.8 657.9,558.7 666.1,558.5 673.4,558.5 678.9,559 686.8,558.2 691.9,556.2 695.2,556.6 697.5,557.9 693.9,559.8 693.5,561.7 692.7,563.2 M675.3,564.5 676.1,563.3 682.9,562.4 688.4,562.9 690.6,563.1 M782.7,541.3 784.9,541.6 M806.3,540.7 806.9,539.9 809.4,539.9 810.4,540.6 M802.1,487.3 803.2,487.4 M808.8,487.1 809.9,487.3" fill="none" stroke="#000" stroke-width="1.4" stroke-linejoin="round" stroke-linecap="round"/>
<path d="M311.2,818.1 L302.2,818.9 M293.4,786.8 L284.4,787.6 M275.5,755.5 L266.5,756.3 M257.6,724.2 L248.6,725 M239.8,692.9 L230.8,693.7 M221.9,661.6 L212.9,662.4 M386.9,816.3 L389.1,820.1 M469.9,809.7 L472.1,813.5 M552.9,803.1 L555.1,806.9 M635.9,796.5 L638.1,800.3 M718.9,789.9 L721.1,793.7 M801.9,783.3 L804.1,787.1 M884.9,776.7 L887.1,780.5 M967.9,770.1 L970.1,773.9" stroke="#444" stroke-width="0.9" fill="none"/>
<text transform="translate(209,662.6) rotate(-4.6) scale(1.81,1)" text-anchor="end" font-size="14.8" y="5.3">4540000</text>
<text transform="translate(226.9,693.8) rotate(-4.6) scale(1.81,1)" text-anchor="end" font-size="14.8" y="5.3">4530000</text>
<text transform="translate(244.8,725) rotate(-4.6) scale(1.81,1)" text-anchor="end" font-size="14.8" y="5.3">4520000</text>
<text transform="translate(262.7,756.2) rotate(-4.6) scale(1.81,1)" text-anchor="end" font-size="14.8" y="5.3">4510000</text>
<text transform="translate(280.6,787.4) rotate(-4.6) scale(1.81,1)" text-anchor="end" font-size="14.8" y="5.3">4500000</text>
<text transform="translate(298.5,818.6) rotate(-4.6) scale(1.81,1)" text-anchor="end" font-size="14.8" y="5.3">4490000</text>
<text transform="translate(391,827) rotate(-4.8) scale(1.82,1)" text-anchor="middle" font-size="14.8" y="5.3">400000</text>
<text transform="translate(557,812.5) rotate(-4.8) scale(1.82,1)" text-anchor="middle" font-size="14.8" y="5.3">420000</text>
<text transform="translate(723,798) rotate(-4.8) scale(1.82,1)" text-anchor="middle" font-size="14.8" y="5.3">440000</text>
<text transform="translate(889,783.5) rotate(-4.8) scale(1.82,1)" text-anchor="middle" font-size="14.8" y="5.3">460000</text>
<text transform="translate(657,828) rotate(-5) scale(1.93,1)" text-anchor="middle" font-size="18" y="6.5">Easting (m)</text>
<text transform="matrix(-0.2022,-0.3647,0.9970,-0.0800,142.5,785)" font-size="35">Northing (m)</text>
<text x="51.5" y="445" font-size="32" font-weight="bold">b)</text>
<text x="210" y="427.6" font-size="22.5" font-weight="bold" text-anchor="end">0</text>
<text x="210" y="492.1" font-size="22.5" font-weight="bold" text-anchor="end">10</text>
<text x="210" y="562.6" font-size="22.5" font-weight="bold" text-anchor="end">20</text>
<text x="210" y="636.6" font-size="22.5" font-weight="bold" text-anchor="end">30</text>
<text transform="translate(167,536.5) rotate(-90)" font-size="23.5" font-weight="bold" text-anchor="middle">Depth (km)</text>
<defs><linearGradient id="hot" x1="0" x2="1" y1="0" y2="0"><stop offset="0.000" stop-color="#4b2d2d"/><stop offset="0.050" stop-color="#522c2c"/><stop offset="0.110" stop-color="#a51919"/><stop offset="0.175" stop-color="#ff0000"/><stop offset="1.000" stop-color="#ffff00"/></linearGradient></defs>
<rect transform="translate(419.5,893.4) rotate(-3.774)" width="574.2" height="35" fill="url(#hot)"/>
<text x="435.4" y="958.6" font-size="24" text-anchor="middle">-0.34</text>
<text x="617.5" y="946.1" font-size="24" text-anchor="middle">-0.25</text>
<text x="814" y="932.1" font-size="24" text-anchor="middle">-0.1</text>
<text x="983.5" y="919.1" font-size="24" text-anchor="middle">0</text>
<text transform="translate(116,947.2) rotate(-3.8)" font-size="27.6" font-weight="bold">Fractal Model (g/cm<tspan font-size="16" dy="-11">3</tspan><tspan dy="11">)</tspan></text>
<path d="M405,1054 V1476 M482.6,1054 V1476 M560.2,1054 V1476 M637.9,1054 V1476 M715.5,1054 V1476 M793.1,1054 V1476 M870.7,1054 V1476 M359.5,1065.5 H932 M359.5,1150.4 H932 M359.5,1235.3 H932 M359.5,1320.2 H932 M359.5,1405.1 H932" stroke="#d6d6d6" stroke-width="0.9" fill="none"/>
<rect x="317.5" y="1034" width="657.3" height="458" fill="none" stroke="#8a8a8a" stroke-width="1.2"/>
<path d="M683,1124 726,1124 732,1130 808,1131 812,1136 840,1137 856,1145 870,1150 880,1168 887,1174 888,1196 870,1200 848,1224 810,1256 780,1280 748,1306 722,1334 695,1364 678,1382 660,1400 632.4,1416.8 615.6,1422.4 587.6,1430.8 562.4,1440 556,1439 545.6,1428 514,1403.6 487.6,1368.4 487.6,1350.8 492,1340 522.8,1293.6 558,1249.6 602,1205.6 646,1161.6 672.4,1135.2Z" fill="#b9b58a" fill-opacity="0.5" stroke="#b9b58a" stroke-opacity="0.45" stroke-width="5" stroke-linejoin="round"/>
<rect x="672.8" y="1124.9" width="15.8" height="8.8" fill="#eee428"/>
<rect x="688.3" y="1124.9" width="8.1" height="8.8" fill="#efd624"/>
<rect x="696.1" y="1124.9" width="8.1" height="8.8" fill="#efc821"/>
<rect x="703.8" y="1124.9" width="8.1" height="8.8" fill="#e31c12"/>
<rect x="711.6" y="1124.9" width="8.1" height="8.8" fill="#eb6013"/>
<rect x="719.4" y="1124.9" width="8.1" height="8.8" fill="#efd624"/>
<rect x="727.1" y="1124.9" width="8.1" height="8.8" fill="#f19e16"/>
<rect x="734.9" y="1124.9" width="8.1" height="8.8" fill="#bb1510"/>
<rect x="742.6" y="1124.9" width="8.1" height="8.8" fill="#f08d14"/>
<rect x="750.4" y="1124.9" width="8.1" height="8.8" fill="#bb1510"/>
<rect x="758.2" y="1124.9" width="8.1" height="8.8" fill="#e31c12"/>
<rect x="665" y="1133.4" width="8.1" height="8.8" fill="#e31c12"/>
<rect x="672.8" y="1133.4" width="8.1" height="8.8" fill="#e84a13"/>
<rect x="680.6" y="1133.4" width="8.1" height="8.8" fill="#f0ba1d"/>
<rect x="688.3" y="1133.4" width="8.1" height="8.8" fill="#efd624"/>
<rect x="696.1" y="1133.4" width="8.1" height="8.8" fill="#f0ba1d"/>
<rect x="703.8" y="1133.4" width="8.1" height="8.8" fill="#f19e16"/>
<rect x="711.6" y="1133.4" width="15.8" height="8.8" fill="#efc821"/>
<rect x="727.1" y="1133.4" width="8.1" height="8.8" fill="#e53312"/>
<rect x="734.9" y="1133.4" width="15.8" height="8.8" fill="#e31c12"/>
<rect x="750.4" y="1133.4" width="8.1" height="8.8" fill="#e84a13"/>
<rect x="758.2" y="1133.4" width="8.1" height="8.8" fill="#efc821"/>
<rect x="765.9" y="1133.4" width="8.1" height="8.8" fill="#e31c12"/>
<rect x="773.7" y="1133.4" width="8.1" height="8.8" fill="#efc821"/>
<rect x="781.5" y="1133.4" width="8.1" height="8.8" fill="#f08d14"/>
<rect x="789.2" y="1133.4" width="8.1" height="8.8" fill="#f19e16"/>
<rect x="797" y="1133.4" width="8.1" height="8.8" fill="#f0ac1a"/>
<rect x="804.7" y="1133.4" width="8.1" height="8.8" fill="#eb6013"/>
<rect x="812.5" y="1133.4" width="15.8" height="8.8" fill="#ed7614"/>
<rect x="828" y="1133.4" width="8.1" height="8.8" fill="#f19e16"/>
<rect x="835.8" y="1133.4" width="8.1" height="8.8" fill="#f0ac1a"/>
<rect x="657.3" y="1141.9" width="15.8" height="8.8" fill="#bb1510"/>
<rect x="672.8" y="1141.9" width="8.1" height="8.8" fill="#f08d14"/>
<rect x="680.6" y="1141.9" width="8.1" height="8.8" fill="#e84a13"/>
<rect x="688.3" y="1141.9" width="8.1" height="8.8" fill="#f19e16"/>
<rect x="696.1" y="1141.9" width="8.1" height="8.8" fill="#efc821"/>
<rect x="703.8" y="1141.9" width="8.1" height="8.8" fill="#ed7614"/>
<rect x="711.6" y="1141.9" width="8.1" height="8.8" fill="#f0ac1a"/>
<rect x="719.4" y="1141.9" width="8.1" height="8.8" fill="#e53312"/>
<rect x="727.1" y="1141.9" width="8.1" height="8.8" fill="#f08d14"/>
<rect x="734.9" y="1141.9" width="8.1" height="8.8" fill="#bb1510"/>
<rect x="742.6" y="1141.9" width="8.1" height="8.8" fill="#f0ac1a"/>
<rect x="750.4" y="1141.9" width="8.1" height="8.8" fill="#f0ba1d"/>
<rect x="758.2" y="1141.9" width="8.1" height="8.8" fill="#eb6013"/>
<rect x="765.9" y="1141.9" width="8.1" height="8.8" fill="#efc821"/>
<rect x="773.7" y="1141.9" width="8.1" height="8.8" fill="#e84a13"/>
<rect x="781.5" y="1141.9" width="8.1" height="8.8" fill="#efd624"/>
<rect x="789.2" y="1141.9" width="8.1" height="8.8" fill="#efc821"/>
<rect x="797" y="1141.9" width="8.1" height="8.8" fill="#efd624"/>
<rect x="804.7" y="1141.9" width="8.1" height="8.8" fill="#f0ba1d"/>
<rect x="812.5" y="1141.9" width="8.1" height="8.8" fill="#efc821"/>
<rect x="820.3" y="1141.9" width="8.1" height="8.8" fill="#bb1510"/>
<rect x="828" y="1141.9" width="8.1" height="8.8" fill="#e84a13"/>
<rect x="835.8" y="1141.9" width="8.1" height="8.8" fill="#e53312"/>
<rect x="843.6" y="1141.9" width="8.1" height="8.8" fill="#f0ba1d"/>
<rect x="851.3" y="1141.9" width="8.1" height="8.8" fill="#f19e16"/>
<rect x="649.5" y="1150.4" width="8.1" height="8.8" fill="#e31c12"/>
<rect x="657.3" y="1150.4" width="8.1" height="8.8" fill="#e53312"/>
<rect x="665" y="1150.4" width="8.1" height="8.8" fill="#bb1510"/>
<rect x="672.8" y="1150.4" width="8.1" height="8.8" fill="#e84a13"/>
<rect x="680.6" y="1150.4" width="8.1" height="8.8" fill="#bb1510"/>
<rect x="688.3" y="1150.4" width="8.1" height="8.8" fill="#f19e16"/>
<rect x="696.1" y="1150.4" width="8.1" height="8.8" fill="#bb1510"/>
<rect x="703.8" y="1150.4" width="8.1" height="8.8" fill="#f0ba1d"/>
<rect x="711.6" y="1150.4" width="8.1" height="8.8" fill="#e31c12"/>
<rect x="719.4" y="1150.4" width="8.1" height="8.8" fill="#e53312"/>
<rect x="727.1" y="1150.4" width="8.1" height="8.8" fill="#f08d14"/>
<rect x="734.9" y="1150.4" width="8.1" height="8.8" fill="#e31c12"/>
<rect x="742.6" y="1150.4" width="8.1" height="8.8" fill="#bb1510"/>
<rect x="750.4" y="1150.4" width="8.1" height="8.8" fill="#f08d14"/>
<rect x="758.2" y="1150.4" width="8.1" height="8.8" fill="#f0ba1d"/>
<rect x="765.9" y="1150.4" width="8.1" height="8.8" fill="#f08d14"/>
<rect x="773.7" y="1150.4" width="8.1" height="8.8" fill="#f0ac1a"/>
<rect x="781.5" y="1150.4" width="8.1" height="8.8" fill="#efc821"/>
<rect x="789.2" y="1150.4" width="8.1" height="8.8" fill="#e84a13"/>
<rect x="797" y="1150.4" width="8.1" height="8.8" fill="#efc821"/>
<rect x="804.7" y="1150.4" width="8.1" height="8.8" fill="#eee428"/>
<rect x="812.5" y="1150.4" width="8.1" height="8.8" fill="#f19e16"/>
<rect x="820.3" y="1150.4" width="8.1" height="8.8" fill="#bb1510"/>
<rect x="828" y="1150.4" width="15.8" height="8.8" fill="#e31c12"/>
<rect x="843.6" y="1150.4" width="8.1" height="8.8" fill="#f0ba1d"/>
<rect x="851.3" y="1150.4" width="8.1" height="8.8" fill="#eb6013"/>
<rect x="859.1" y="1150.4" width="8.1" height="8.8" fill="#e84a13"/>
<rect x="866.8" y="1150.4" width="8.1" height="8.8" fill="#bb1510"/>
<rect x="641.7" y="1158.9" width="8.1" height="8.8" fill="#f19e16"/>
<rect x="649.5" y="1158.9" width="8.1" height="8.8" fill="#ed7614"/>
<rect x="657.3" y="1158.9" width="8.1" height="8.8" fill="#efd624"/>
<rect x="665" y="1158.9" width="8.1" height="8.8" fill="#ed7614"/>
<rect x="672.8" y="1158.9" width="8.1" height="8.8" fill="#efd624"/>
<rect x="680.6" y="1158.9" width="23.6" height="8.8" fill="#f0ac1a"/>
<rect x="703.8" y="1158.9" width="23.6" height="8.8" fill="#bb1510"/>
<rect x="727.1" y="1158.9" width="8.1" height="8.8" fill="#f08d14"/>
<rect x="734.9" y="1158.9" width="8.1" height="8.8" fill="#e84a13"/>
<rect x="742.6" y="1158.9" width="8.1" height="8.8" fill="#f0ba1d"/>
<rect x="750.4" y="1158.9" width="8.1" height="8.8" fill="#e31c12"/>
<rect x="758.2" y="1158.9" width="8.1" height="8.8" fill="#bb1510"/>
<rect x="765.9" y="1158.9" width="8.1" height="8.8" fill="#e31c12"/>
<rect x="773.7" y="1158.9" width="8.1" height="8.8" fill="#ed7614"/>
<rect x="781.5" y="1158.9" width="23.6" height="8.8" fill="#eb6013"/>
<rect x="804.7" y="1158.9" width="8.1" height="8.8" fill="#f08d14"/>
<rect x="812.5" y="1158.9" width="15.8" height="8.8" fill="#e31c12"/>
<rect x="828" y="1158.9" width="8.1" height="8.8" fill="#bb1510"/>
<rect x="835.8" y="1158.9" width="8.1" height="8.8" fill="#eb6013"/>
<rect x="843.6" y="1158.9" width="8.1" height="8.8" fill="#efd624"/>
<rect x="851.3" y="1158.9" width="8.1" height="8.8" fill="#f0ac1a"/>
<rect x="859.1" y="1158.9" width="8.1" height="8.8" fill="#e31c12"/>
<rect x="866.8" y="1158.9" width="8.1" height="8.8" fill="#bb1510"/>
<rect x="874.6" y="1158.9" width="8.1" height="8.8" fill="#e53312"/>
<rect x="634" y="1167.4" width="8.1" height="8.8" fill="#f08d14"/>
<rect x="641.7" y="1167.4" width="8.1" height="8.8" fill="#f0ac1a"/>
<rect x="649.5" y="1167.4" width="8.1" height="8.8" fill="#e53312"/>
<rect x="657.3" y="1167.4" width="8.1" height="8.8" fill="#efc821"/>
<rect x="665" y="1167.4" width="8.1" height="8.8" fill="#efd624"/>
<rect x="672.8" y="1167.4" width="8.1" height="8.8" fill="#e53312"/>
<rect x="680.6" y="1167.4" width="8.1" height="8.8" fill="#f19e16"/>
<rect x="688.3" y="1167.4" width="8.1" height="8.8" fill="#f08d14"/>
<rect x="696.1" y="1167.4" width="8.1" height="8.8" fill="#e31c12"/>
<rect x="703.8" y="1167.4" width="8.1" height="8.8" fill="#861c17"/>
<rect x="711.6" y="1167.4" width="8.1" height="8.8" fill="#bb1510"/>
<rect x="719.4" y="1167.4" width="8.1" height="8.8" fill="#f08d14"/>
<rect x="727.1" y="1167.4" width="8.1" height="8.8" fill="#efc821"/>
<rect x="734.9" y="1167.4" width="8.1" height="8.8" fill="#eee428"/>
<rect x="742.6" y="1167.4" width="8.1" height="8.8" fill="#f19e16"/>
<rect x="750.4" y="1167.4" width="8.1" height="8.8" fill="#f0ac1a"/>
<rect x="758.2" y="1167.4" width="8.1" height="8.8" fill="#e31c12"/>
<rect x="765.9" y="1167.4" width="8.1" height="8.8" fill="#bb1510"/>
<rect x="773.7" y="1167.4" width="8.1" height="8.8" fill="#e53312"/>
<rect x="781.5" y="1167.4" width="15.8" height="8.8" fill="#e31c12"/>
<rect x="797" y="1167.4" width="8.1" height="8.8" fill="#bb1510"/>
<rect x="804.7" y="1167.4" width="15.8" height="8.8" fill="#f08d14"/>
<rect x="820.3" y="1167.4" width="8.1" height="8.8" fill="#e31c12"/>
<rect x="828" y="1167.4" width="15.8" height="8.8" fill="#e53312"/>
<rect x="843.6" y="1167.4" width="8.1" height="8.8" fill="#eb6013"/>
<rect x="851.3" y="1167.4" width="8.1" height="8.8" fill="#efc821"/>
<rect x="859.1" y="1167.4" width="8.1" height="8.8" fill="#e53312"/>
<rect x="866.8" y="1167.4" width="15.8" height="8.8" fill="#e31c12"/>
<rect x="626.2" y="1175.9" width="8.1" height="8.8" fill="#e84a13"/>
<rect x="634" y="1175.9" width="8.1" height="8.8" fill="#bb1510"/>
<rect x="641.7" y="1175.9" width="8.1" height="8.8" fill="#f19e16"/>
<rect x="649.5" y="1175.9" width="8.1" height="8.8" fill="#f0ac1a"/>
<rect x="657.3" y="1175.9" width="8.1" height="8.8" fill="#e31c12"/>
<rect x="665" y="1175.9" width="8.1" height="8.8" fill="#eb6013"/>
<rect x="672.8" y="1175.9" width="8.1" height="8.8" fill="#ed7614"/>
<rect x="680.6" y="1175.9" width="8.1" height="8.8" fill="#e31c12"/>
<rect x="688.3" y="1175.9" width="8.1" height="8.8" fill="#efd624"/>
<rect x="696.1" y="1175.9" width="8.1" height="8.8" fill="#bb1510"/>
<rect x="703.8" y="1175.9" width="8.1" height="8.8" fill="#861c17"/>
<rect x="711.6" y="1175.9" width="8.1" height="8.8" fill="#e53312"/>
<rect x="719.4" y="1175.9" width="8.1" height="8.8" fill="#eb6013"/>
<rect x="727.1" y="1175.9" width="8.1" height="8.8" fill="#f08d14"/>
<rect x="734.9" y="1175.9" width="8.1" height="8.8" fill="#eee428"/>
<rect x="742.6" y="1175.9" width="8.1" height="8.8" fill="#e31c12"/>
<rect x="750.4" y="1175.9" width="8.1" height="8.8" fill="#ed7614"/>
<rect x="758.2" y="1175.9" width="8.1" height="8.8" fill="#bb1510"/>
<rect x="765.9" y="1175.9" width="8.1" height="8.8" fill="#e31c12"/>
<rect x="773.7" y="1175.9" width="8.1" height="8.8" fill="#bb1510"/>
<rect x="781.5" y="1175.9" width="15.8" height="8.8" fill="#e31c12"/>
<rect x="797" y="1175.9" width="8.1" height="8.8" fill="#861c17"/>
<rect x="804.7" y="1175.9" width="15.8" height="8.8" fill="#e31c12"/>
<rect x="820.3" y="1175.9" width="8.1" height="8.8" fill="#bb1510"/>
<rect x="828" y="1175.9" width="15.8" height="8.8" fill="#e31c12"/>
<rect x="843.6" y="1175.9" width="8.1" height="8.8" fill="#ed7614"/>
<rect x="851.3" y="1175.9" width="8.1" height="8.8" fill="#efd624"/>
<rect x="859.1" y="1175.9" width="8.1" height="8.8" fill="#f08d14"/>
<rect x="866.8" y="1175.9" width="8.1" height="8.8" fill="#efc821"/>
<rect x="874.6" y="1175.9" width="8.1" height="8.8" fill="#f19e16"/>
<rect x="882.4" y="1175.9" width="8.1" height="8.8" fill="#bb1510"/>
<rect x="618.5" y="1184.4" width="8.1" height="8.8" fill="#e84a13"/>
<rect x="626.2" y="1184.4" width="8.1" height="8.8" fill="#e31c12"/>
<rect x="634" y="1184.4" width="8.1" height="8.8" fill="#ed7614"/>
<rect x="641.7" y="1184.4" width="15.8" height="8.8" fill="#f08d14"/>
<rect x="657.3" y="1184.4" width="8.1" height="8.8" fill="#efc821"/>
<rect x="665" y="1184.4" width="8.1" height="8.8" fill="#ed7614"/>
<rect x="672.8" y="1184.4" width="23.6" height="8.8" fill="#e31c12"/>
<rect x="696.1" y="1184.4" width="8.1" height="8.8" fill="#bb1510"/>
<rect x="703.8" y="1184.4" width="8.1" height="8.8" fill="#861c17"/>
<rect x="711.6" y="1184.4" width="8.1" height="8.8" fill="#e84a13"/>
<rect x="719.4" y="1184.4" width="8.1" height="8.8" fill="#f0ac1a"/>
<rect x="727.1" y="1184.4" width="8.1" height="8.8" fill="#f19e16"/>
<rect x="734.9" y="1184.4" width="8.1" height="8.8" fill="#ed7614"/>
<rect x="742.6" y="1184.4" width="15.8" height="8.8" fill="#bb1510"/>
<rect x="758.2" y="1184.4" width="8.1" height="8.8" fill="#ed7614"/>
<rect x="765.9" y="1184.4" width="8.1" height="8.8" fill="#861c17"/>
<rect x="773.7" y="1184.4" width="8.1" height="8.8" fill="#e31c12"/>
<rect x="781.5" y="1184.4" width="8.1" height="8.8" fill="#ed7614"/>
<rect x="789.2" y="1184.4" width="8.1" height="8.8" fill="#e84a13"/>
<rect x="797" y="1184.4" width="8.1" height="8.8" fill="#e53312"/>
<rect x="804.7" y="1184.4" width="8.1" height="8.8" fill="#ed7614"/>
<rect x="812.5" y="1184.4" width="8.1" height="8.8" fill="#bb1510"/>
<rect x="820.3" y="1184.4" width="8.1" height="8.8" fill="#e31c12"/>
<rect x="828" y="1184.4" width="8.1" height="8.8" fill="#f08d14"/>
<rect x="835.8" y="1184.4" width="8.1" height="8.8" fill="#e31c12"/>
<rect x="843.6" y="1184.4" width="8.1" height="8.8" fill="#ed7614"/>
<rect x="851.3" y="1184.4" width="8.1" height="8.8" fill="#f19e16"/>
<rect x="859.1" y="1184.4" width="8.1" height="8.8" fill="#f08d14"/>
<rect x="866.8" y="1184.4" width="8.1" height="8.8" fill="#f19e16"/>
<rect x="874.6" y="1184.4" width="8.1" height="8.8" fill="#eb6013"/>
<rect x="882.4" y="1184.4" width="8.1" height="8.8" fill="#e31c12"/>
<rect x="610.7" y="1192.8" width="8.1" height="8.8" fill="#e53312"/>
<rect x="618.5" y="1192.8" width="8.1" height="8.8" fill="#bb1510"/>
<rect x="626.2" y="1192.8" width="8.1" height="8.8" fill="#f08d14"/>
<rect x="634" y="1192.8" width="8.1" height="8.8" fill="#eb6013"/>
<rect x="641.7" y="1192.8" width="8.1" height="8.8" fill="#f08d14"/>
<rect x="649.5" y="1192.8" width="8.1" height="8.8" fill="#f0ba1d"/>
<rect x="657.3" y="1192.8" width="8.1" height="8.8" fill="#e31c12"/>
<rect x="665" y="1192.8" width="8.1" height="8.8" fill="#f0ba1d"/>
<rect x="672.8" y="1192.8" width="8.1" height="8.8" fill="#efd624"/>
<rect x="680.6" y="1192.8" width="8.1" height="8.8" fill="#f0ac1a"/>
<rect x="688.3" y="1192.8" width="8.1" height="8.8" fill="#ed7614"/>
<rect x="696.1" y="1192.8" width="8.1" height="8.8" fill="#bb1510"/>
<rect x="703.8" y="1192.8" width="8.1" height="8.8" fill="#e31c12"/>
<rect x="711.6" y="1192.8" width="8.1" height="8.8" fill="#eb6013"/>
<rect x="719.4" y="1192.8" width="8.1" height="8.8" fill="#efc821"/>
<rect x="727.1" y="1192.8" width="8.1" height="8.8" fill="#eb6013"/>
<rect x="734.9" y="1192.8" width="8.1" height="8.8" fill="#f08d14"/>
<rect x="742.6" y="1192.8" width="8.1" height="8.8" fill="#ed7614"/>
<rect x="750.4" y="1192.8" width="8.1" height="8.8" fill="#e31c12"/>
<rect x="758.2" y="1192.8" width="8.1" height="8.8" fill="#e53312"/>
<rect x="765.9" y="1192.8" width="8.1" height="8.8" fill="#f19e16"/>
<rect x="773.7" y="1192.8" width="8.1" height="8.8" fill="#efc821"/>
<rect x="781.5" y="1192.8" width="8.1" height="8.8" fill="#f0ac1a"/>
<rect x="789.2" y="1192.8" width="8.1" height="8.8" fill="#f0ba1d"/>
<rect x="797" y="1192.8" width="8.1" height="8.8" fill="#efc821"/>
<rect x="804.7" y="1192.8" width="8.1" height="8.8" fill="#f19e16"/>
<rect x="812.5" y="1192.8" width="8.1" height="8.8" fill="#e31c12"/>
<rect x="820.3" y="1192.8" width="8.1" height="8.8" fill="#e53312"/>
<rect x="828" y="1192.8" width="8.1" height="8.8" fill="#bb1510"/>
<rect x="835.8" y="1192.8" width="15.8" height="8.8" fill="#ed7614"/>
<rect x="851.3" y="1192.8" width="8.1" height="8.8" fill="#f0ba1d"/>
<rect x="859.1" y="1192.8" width="8.1" height="8.8" fill="#bb1510"/>
<rect x="866.8" y="1192.8" width="8.1" height="8.8" fill="#e31c12"/>
<rect x="874.6" y="1192.8" width="8.1" height="8.8" fill="#bb1510"/>
<rect x="882.4" y="1192.8" width="8.1" height="8.8" fill="#e53312"/>
<rect x="602.9" y="1201.3" width="8.1" height="8.8" fill="#eb6013"/>
<rect x="610.7" y="1201.3" width="8.1" height="8.8" fill="#e53312"/>
<rect x="618.5" y="1201.3" width="8.1" height="8.8" fill="#f0ba1d"/>
<rect x="626.2" y="1201.3" width="8.1" height="8.8" fill="#e31c12"/>
<rect x="634" y="1201.3" width="8.1" height="8.8" fill="#f0ba1d"/>
<rect x="641.7" y="1201.3" width="8.1" height="8.8" fill="#e31c12"/>
<rect x="649.5" y="1201.3" width="8.1" height="8.8" fill="#f19e16"/>
<rect x="657.3" y="1201.3" width="8.1" height="8.8" fill="#e31c12"/>
<rect x="665" y="1201.3" width="8.1" height="8.8" fill="#f0ba1d"/>
<rect x="672.8" y="1201.3" width="8.1" height="8.8" fill="#efc821"/>
<rect x="680.6" y="1201.3" width="8.1" height="8.8" fill="#f0ba1d"/>
<rect x="688.3" y="1201.3" width="8.1" height="8.8" fill="#f0ac1a"/>
<rect x="696.1" y="1201.3" width="8.1" height="8.8" fill="#f19e16"/>
<rect x="703.8" y="1201.3" width="8.1" height="8.8" fill="#861c17"/>
<rect x="711.6" y="1201.3" width="15.8" height="8.8" fill="#e31c12"/>
<rect x="727.1" y="1201.3" width="8.1" height="8.8" fill="#e84a13"/>
<rect x="734.9" y="1201.3" width="8.1" height="8.8" fill="#f0ba1d"/>
<rect x="742.6" y="1201.3" width="8.1" height="8.8" fill="#efd624"/>
<rect x="750.4" y="1201.3" width="8.1" height="8.8" fill="#bb1510"/>
<rect x="758.2" y="1201.3" width="8.1" height="8.8" fill="#eb6013"/>
<rect x="765.9" y="1201.3" width="8.1" height="8.8" fill="#f19e16"/>
<rect x="773.7" y="1201.3" width="8.1" height="8.8" fill="#efc821"/>
<rect x="781.5" y="1201.3" width="8.1" height="8.8" fill="#bb1510"/>
<rect x="789.2" y="1201.3" width="8.1" height="8.8" fill="#efd624"/>
<rect x="797" y="1201.3" width="8.1" height="8.8" fill="#f08d14"/>
<rect x="804.7" y="1201.3" width="23.6" height="8.8" fill="#bb1510"/>
<rect x="828" y="1201.3" width="8.1" height="8.8" fill="#e31c12"/>
<rect x="835.8" y="1201.3" width="8.1" height="8.8" fill="#e53312"/>
<rect x="843.6" y="1201.3" width="8.1" height="8.8" fill="#f0ba1d"/>
<rect x="851.3" y="1201.3" width="8.1" height="8.8" fill="#ed7614"/>
<rect x="859.1" y="1201.3" width="8.1" height="8.8" fill="#e31c12"/>
<rect x="595.2" y="1209.8" width="8.1" height="8.8" fill="#e31c12"/>
<rect x="602.9" y="1209.8" width="8.1" height="8.8" fill="#e53312"/>
<rect x="610.7" y="1209.8" width="8.1" height="8.8" fill="#efc821"/>
<rect x="618.5" y="1209.8" width="8.1" height="8.8" fill="#f0ba1d"/>
<rect x="626.2" y="1209.8" width="8.1" height="8.8" fill="#efc821"/>
<rect x="634" y="1209.8" width="8.1" height="8.8" fill="#f19e16"/>
<rect x="641.7" y="1209.8" width="8.1" height="8.8" fill="#ed7614"/>
<rect x="649.5" y="1209.8" width="15.8" height="8.8" fill="#bb1510"/>
<rect x="665" y="1209.8" width="8.1" height="8.8" fill="#f19e16"/>
<rect x="672.8" y="1209.8" width="8.1" height="8.8" fill="#e53312"/>
<rect x="680.6" y="1209.8" width="8.1" height="8.8" fill="#efd624"/>
<rect x="688.3" y="1209.8" width="8.1" height="8.8" fill="#efc821"/>
<rect x="696.1" y="1209.8" width="8.1" height="8.8" fill="#ed7614"/>
<rect x="703.8" y="1209.8" width="8.1" height="8.8" fill="#bb1510"/>
<rect x="711.6" y="1209.8" width="8.1" height="8.8" fill="#e31c12"/>
<rect x="719.4" y="1209.8" width="8.1" height="8.8" fill="#861c17"/>
<rect x="727.1" y="1209.8" width="8.1" height="8.8" fill="#e31c12"/>
<rect x="734.9" y="1209.8" width="8.1" height="8.8" fill="#efd624"/>
<rect x="742.6" y="1209.8" width="8.1" height="8.8" fill="#e31c12"/>
<rect x="750.4" y="1209.8" width="8.1" height="8.8" fill="#861c17"/>
<rect x="758.2" y="1209.8" width="8.1" height="8.8" fill="#bb1510"/>
<rect x="765.9" y="1209.8" width="8.1" height="8.8" fill="#f0ba1d"/>
<rect x="773.7" y="1209.8" width="8.1" height="8.8" fill="#f0ac1a"/>
<rect x="781.5" y="1209.8" width="8.1" height="8.8" fill="#e84a13"/>
<rect x="789.2" y="1209.8" width="8.1" height="8.8" fill="#ed7614"/>
<rect x="797" y="1209.8" width="8.1" height="8.8" fill="#e84a13"/>
<rect x="804.7" y="1209.8" width="8.1" height="8.8" fill="#f19e16"/>
<rect x="812.5" y="1209.8" width="8.1" height="8.8" fill="#e84a13"/>
<rect x="820.3" y="1209.8" width="8.1" height="8.8" fill="#f0ac1a"/>
<rect x="828" y="1209.8" width="15.8" height="8.8" fill="#bb1510"/>
<rect x="843.6" y="1209.8" width="8.1" height="8.8" fill="#e31c12"/>
<rect x="851.3" y="1209.8" width="8.1" height="8.8" fill="#efc821"/>
<rect x="579.6" y="1218.3" width="8.1" height="8.8" fill="#f0ba1d"/>
<rect x="587.4" y="1218.3" width="8.1" height="8.8" fill="#e31c12"/>
<rect x="595.2" y="1218.3" width="8.1" height="8.8" fill="#e53312"/>
<rect x="602.9" y="1218.3" width="8.1" height="8.8" fill="#efc821"/>
<rect x="610.7" y="1218.3" width="8.1" height="8.8" fill="#efd624"/>
<rect x="618.5" y="1218.3" width="8.1" height="8.8" fill="#f0ac1a"/>
<rect x="626.2" y="1218.3" width="8.1" height="8.8" fill="#ed7614"/>
<rect x="634" y="1218.3" width="8.1" height="8.8" fill="#e31c12"/>
<rect x="641.7" y="1218.3" width="15.8" height="8.8" fill="#bb1510"/>
<rect x="657.3" y="1218.3" width="8.1" height="8.8" fill="#861c17"/>
<rect x="665" y="1218.3" width="8.1" height="8.8" fill="#bb1510"/>
<rect x="672.8" y="1218.3" width="8.1" height="8.8" fill="#e84a13"/>
<rect x="680.6" y="1218.3" width="8.1" height="8.8" fill="#efd624"/>
<rect x="688.3" y="1218.3" width="15.8" height="8.8" fill="#eb6013"/>
<rect x="703.8" y="1218.3" width="8.1" height="8.8" fill="#e84a13"/>
<rect x="711.6" y="1218.3" width="15.8" height="8.8" fill="#bb1510"/>
<rect x="727.1" y="1218.3" width="8.1" height="8.8" fill="#eb6013"/>
<rect x="734.9" y="1218.3" width="8.1" height="8.8" fill="#efc821"/>
<rect x="742.6" y="1218.3" width="8.1" height="8.8" fill="#f0ac1a"/>
<rect x="750.4" y="1218.3" width="8.1" height="8.8" fill="#bb1510"/>
<rect x="758.2" y="1218.3" width="8.1" height="8.8" fill="#e53312"/>
<rect x="765.9" y="1218.3" width="8.1" height="8.8" fill="#ed7614"/>
<rect x="773.7" y="1218.3" width="8.1" height="8.8" fill="#bb1510"/>
<rect x="781.5" y="1218.3" width="8.1" height="8.8" fill="#ed7614"/>
<rect x="789.2" y="1218.3" width="15.8" height="8.8" fill="#f19e16"/>
<rect x="804.7" y="1218.3" width="8.1" height="8.8" fill="#f08d14"/>
<rect x="812.5" y="1218.3" width="8.1" height="8.8" fill="#e31c12"/>
<rect x="820.3" y="1218.3" width="8.1" height="8.8" fill="#f19e16"/>
<rect x="828" y="1218.3" width="15.8" height="8.8" fill="#bb1510"/>
<rect x="843.6" y="1218.3" width="8.1" height="8.8" fill="#f0ac1a"/>
<rect x="571.9" y="1226.8" width="8.1" height="8.8" fill="#ed7614"/>
<rect x="579.6" y="1226.8" width="8.1" height="8.8" fill="#f0ac1a"/>
<rect x="587.4" y="1226.8" width="8.1" height="8.8" fill="#efd624"/>
<rect x="595.2" y="1226.8" width="8.1" height="8.8" fill="#ed7614"/>
<rect x="602.9" y="1226.8" width="15.8" height="8.8" fill="#efd624"/>
<rect x="618.5" y="1226.8" width="8.1" height="8.8" fill="#f19e16"/>
<rect x="626.2" y="1226.8" width="15.8" height="8.8" fill="#e31c12"/>
<rect x="641.7" y="1226.8" width="8.1" height="8.8" fill="#bb1510"/>
<rect x="649.5" y="1226.8" width="15.8" height="8.8" fill="#861c17"/>
<rect x="665" y="1226.8" width="15.8" height="8.8" fill="#bb1510"/>
<rect x="680.6" y="1226.8" width="8.1" height="8.8" fill="#ed7614"/>
<rect x="688.3" y="1226.8" width="8.1" height="8.8" fill="#e31c12"/>
<rect x="696.1" y="1226.8" width="8.1" height="8.8" fill="#f0ac1a"/>
<rect x="703.8" y="1226.8" width="8.1" height="8.8" fill="#f0ba1d"/>
<rect x="711.6" y="1226.8" width="8.1" height="8.8" fill="#e84a13"/>
<rect x="719.4" y="1226.8" width="8.1" height="8.8" fill="#bb1510"/>
<rect x="727.1" y="1226.8" width="8.1" height="8.8" fill="#e31c12"/>
<rect x="734.9" y="1226.8" width="8.1" height="8.8" fill="#efc821"/>
<rect x="742.6" y="1226.8" width="8.1" height="8.8" fill="#f0ac1a"/>
<rect x="750.4" y="1226.8" width="8.1" height="8.8" fill="#e31c12"/>
<rect x="758.2" y="1226.8" width="8.1" height="8.8" fill="#f08d14"/>
<rect x="765.9" y="1226.8" width="8.1" height="8.8" fill="#861c17"/>
<rect x="773.7" y="1226.8" width="8.1" height="8.8" fill="#bb1510"/>
<rect x="781.5" y="1226.8" width="8.1" height="8.8" fill="#eb6013"/>
<rect x="789.2" y="1226.8" width="8.1" height="8.8" fill="#efd624"/>
<rect x="797" y="1226.8" width="8.1" height="8.8" fill="#efc821"/>
<rect x="804.7" y="1226.8" width="8.1" height="8.8" fill="#f0ac1a"/>
<rect x="812.5" y="1226.8" width="8.1" height="8.8" fill="#eb6013"/>
<rect x="820.3" y="1226.8" width="8.1" height="8.8" fill="#e53312"/>
<rect x="828" y="1226.8" width="8.1" height="8.8" fill="#e31c12"/>
<rect x="835.8" y="1226.8" width="8.1" height="8.8" fill="#f0ba1d"/>
<rect x="564.1" y="1235.3" width="8.1" height="8.8" fill="#bb1510"/>
<rect x="571.9" y="1235.3" width="8.1" height="8.8" fill="#e31c12"/>
<rect x="579.6" y="1235.3" width="8.1" height="8.8" fill="#f19e16"/>
<rect x="587.4" y="1235.3" width="8.1" height="8.8" fill="#e84a13"/>
<rect x="595.2" y="1235.3" width="8.1" height="8.8" fill="#f0ba1d"/>
<rect x="602.9" y="1235.3" width="8.1" height="8.8" fill="#efd624"/>
<rect x="610.7" y="1235.3" width="8.1" height="8.8" fill="#f0ac1a"/>
<rect x="618.5" y="1235.3" width="15.8" height="8.8" fill="#e31c12"/>
<rect x="634" y="1235.3" width="8.1" height="8.8" fill="#f08d14"/>
<rect x="641.7" y="1235.3" width="15.8" height="8.8" fill="#bb1510"/>
<rect x="657.3" y="1235.3" width="8.1" height="8.8" fill="#861c17"/>
<rect x="665" y="1235.3" width="8.1" height="8.8" fill="#bb1510"/>
<rect x="672.8" y="1235.3" width="8.1" height="8.8" fill="#f0ac1a"/>
<rect x="680.6" y="1235.3" width="8.1" height="8.8" fill="#e31c12"/>
<rect x="688.3" y="1235.3" width="8.1" height="8.8" fill="#bb1510"/>
<rect x="696.1" y="1235.3" width="8.1" height="8.8" fill="#efc821"/>
<rect x="703.8" y="1235.3" width="8.1" height="8.8" fill="#f0ac1a"/>
<rect x="711.6" y="1235.3" width="8.1" height="8.8" fill="#f0ba1d"/>
<rect x="719.4" y="1235.3" width="8.1" height="8.8" fill="#eb6013"/>
<rect x="727.1" y="1235.3" width="8.1" height="8.8" fill="#efc821"/>
<rect x="734.9" y="1235.3" width="8.1" height="8.8" fill="#eee428"/>
<rect x="742.6" y="1235.3" width="8.1" height="8.8" fill="#efd624"/>
<rect x="750.4" y="1235.3" width="8.1" height="8.8" fill="#ed7614"/>
<rect x="758.2" y="1235.3" width="8.1" height="8.8" fill="#e84a13"/>
<rect x="765.9" y="1235.3" width="8.1" height="8.8" fill="#eb6013"/>
<rect x="773.7" y="1235.3" width="8.1" height="8.8" fill="#f08d14"/>
<rect x="781.5" y="1235.3" width="8.1" height="8.8" fill="#efc821"/>
<rect x="789.2" y="1235.3" width="8.1" height="8.8" fill="#ed7614"/>
<rect x="797" y="1235.3" width="8.1" height="8.8" fill="#bb1510"/>
<rect x="804.7" y="1235.3" width="8.1" height="8.8" fill="#efc821"/>
<rect x="812.5" y="1235.3" width="8.1" height="8.8" fill="#efd624"/>
<rect x="820.3" y="1235.3" width="8.1" height="8.8" fill="#efc821"/>
<rect x="556.4" y="1243.8" width="8.1" height="8.8" fill="#bb1510"/>
<rect x="564.1" y="1243.8" width="8.1" height="8.8" fill="#f08d14"/>
<rect x="571.9" y="1243.8" width="8.1" height="8.8" fill="#eb6013"/>
<rect x="579.6" y="1243.8" width="8.1" height="8.8" fill="#e31c12"/>
<rect x="587.4" y="1243.8" width="8.1" height="8.8" fill="#bb1510"/>
<rect x="595.2" y="1243.8" width="8.1" height="8.8" fill="#e31c12"/>
<rect x="602.9" y="1243.8" width="8.1" height="8.8" fill="#f19e16"/>
<rect x="610.7" y="1243.8" width="8.1" height="8.8" fill="#eb6013"/>
<rect x="618.5" y="1243.8" width="8.1" height="8.8" fill="#e53312"/>
<rect x="626.2" y="1243.8" width="8.1" height="8.8" fill="#eb6013"/>
<rect x="634" y="1243.8" width="8.1" height="8.8" fill="#e31c12"/>
<rect x="641.7" y="1243.8" width="8.1" height="8.8" fill="#f19e16"/>
<rect x="649.5" y="1243.8" width="8.1" height="8.8" fill="#e84a13"/>
<rect x="657.3" y="1243.8" width="8.1" height="8.8" fill="#861c17"/>
<rect x="665" y="1243.8" width="8.1" height="8.8" fill="#e31c12"/>
<rect x="672.8" y="1243.8" width="8.1" height="8.8" fill="#f0ba1d"/>
<rect x="680.6" y="1243.8" width="8.1" height="8.8" fill="#e84a13"/>
<rect x="688.3" y="1243.8" width="8.1" height="8.8" fill="#efd624"/>
<rect x="696.1" y="1243.8" width="8.1" height="8.8" fill="#f0ba1d"/>
<rect x="703.8" y="1243.8" width="8.1" height="8.8" fill="#e31c12"/>
<rect x="711.6" y="1243.8" width="8.1" height="8.8" fill="#f0ba1d"/>
<rect x="719.4" y="1243.8" width="8.1" height="8.8" fill="#eee428"/>
<rect x="727.1" y="1243.8" width="8.1" height="8.8" fill="#f08d14"/>
<rect x="734.9" y="1243.8" width="8.1" height="8.8" fill="#efd624"/>
<rect x="742.6" y="1243.8" width="8.1" height="8.8" fill="#f0ac1a"/>
<rect x="750.4" y="1243.8" width="8.1" height="8.8" fill="#f19e16"/>
<rect x="758.2" y="1243.8" width="8.1" height="8.8" fill="#efd624"/>
<rect x="765.9" y="1243.8" width="8.1" height="8.8" fill="#efc821"/>
<rect x="773.7" y="1243.8" width="8.1" height="8.8" fill="#f08d14"/>
<rect x="781.5" y="1243.8" width="8.1" height="8.8" fill="#ed7614"/>
<rect x="789.2" y="1243.8" width="8.1" height="8.8" fill="#f19e16"/>
<rect x="797" y="1243.8" width="8.1" height="8.8" fill="#ed7614"/>
<rect x="804.7" y="1243.8" width="8.1" height="8.8" fill="#f0ba1d"/>
<rect x="812.5" y="1243.8" width="8.1" height="8.8" fill="#eee428"/>
<rect x="548.6" y="1252.3" width="15.8" height="8.8" fill="#e31c12"/>
<rect x="564.1" y="1252.3" width="8.1" height="8.8" fill="#f0ac1a"/>
<rect x="571.9" y="1252.3" width="8.1" height="8.8" fill="#e31c12"/>
<rect x="579.6" y="1252.3" width="8.1" height="8.8" fill="#bb1510"/>
<rect x="587.4" y="1252.3" width="8.1" height="8.8" fill="#e31c12"/>
<rect x="595.2" y="1252.3" width="8.1" height="8.8" fill="#861c17"/>
<rect x="602.9" y="1252.3" width="8.1" height="8.8" fill="#e31c12"/>
<rect x="610.7" y="1252.3" width="15.8" height="8.8" fill="#bb1510"/>
<rect x="626.2" y="1252.3" width="8.1" height="8.8" fill="#efd624"/>
<rect x="634" y="1252.3" width="8.1" height="8.8" fill="#f0ac1a"/>
<rect x="641.7" y="1252.3" width="8.1" height="8.8" fill="#efd624"/>
<rect x="649.5" y="1252.3" width="8.1" height="8.8" fill="#e84a13"/>
<rect x="657.3" y="1252.3" width="8.1" height="8.8" fill="#eb6013"/>
<rect x="665" y="1252.3" width="8.1" height="8.8" fill="#e53312"/>
<rect x="672.8" y="1252.3" width="8.1" height="8.8" fill="#ed7614"/>
<rect x="680.6" y="1252.3" width="8.1" height="8.8" fill="#e84a13"/>
<rect x="688.3" y="1252.3" width="8.1" height="8.8" fill="#e31c12"/>
<rect x="696.1" y="1252.3" width="8.1" height="8.8" fill="#f0ba1d"/>
<rect x="703.8" y="1252.3" width="8.1" height="8.8" fill="#f08d14"/>
<rect x="711.6" y="1252.3" width="8.1" height="8.8" fill="#f0ba1d"/>
<rect x="719.4" y="1252.3" width="8.1" height="8.8" fill="#ed7614"/>
<rect x="727.1" y="1252.3" width="8.1" height="8.8" fill="#f0ac1a"/>
<rect x="734.9" y="1252.3" width="8.1" height="8.8" fill="#e84a13"/>
<rect x="742.6" y="1252.3" width="8.1" height="8.8" fill="#f0ba1d"/>
<rect x="750.4" y="1252.3" width="8.1" height="8.8" fill="#e53312"/>
<rect x="758.2" y="1252.3" width="8.1" height="8.8" fill="#f19e16"/>
<rect x="765.9" y="1252.3" width="8.1" height="8.8" fill="#f0ac1a"/>
<rect x="773.7" y="1252.3" width="15.8" height="8.8" fill="#eee428"/>
<rect x="789.2" y="1252.3" width="8.1" height="8.8" fill="#f0ba1d"/>
<rect x="797" y="1252.3" width="8.1" height="8.8" fill="#ed7614"/>
<rect x="804.7" y="1252.3" width="8.1" height="8.8" fill="#f0ac1a"/>
<rect x="540.8" y="1260.8" width="8.1" height="8.8" fill="#e84a13"/>
<rect x="548.6" y="1260.8" width="8.1" height="8.8" fill="#eb6013"/>
<rect x="556.4" y="1260.8" width="8.1" height="8.8" fill="#f08d14"/>
<rect x="564.1" y="1260.8" width="15.8" height="8.8" fill="#e31c12"/>
<rect x="579.6" y="1260.8" width="8.1" height="8.8" fill="#861c17"/>
<rect x="587.4" y="1260.8" width="8.1" height="8.8" fill="#bb1510"/>
<rect x="595.2" y="1260.8" width="8.1" height="8.8" fill="#861c17"/>
<rect x="602.9" y="1260.8" width="8.1" height="8.8" fill="#e31c12"/>
<rect x="610.7" y="1260.8" width="8.1" height="8.8" fill="#bb1510"/>
<rect x="618.5" y="1260.8" width="8.1" height="8.8" fill="#e84a13"/>
<rect x="626.2" y="1260.8" width="8.1" height="8.8" fill="#e53312"/>
<rect x="634" y="1260.8" width="8.1" height="8.8" fill="#efd624"/>
<rect x="641.7" y="1260.8" width="8.1" height="8.8" fill="#efc821"/>
<rect x="649.5" y="1260.8" width="8.1" height="8.8" fill="#eb6013"/>
<rect x="657.3" y="1260.8" width="8.1" height="8.8" fill="#f08d14"/>
<rect x="665" y="1260.8" width="8.1" height="8.8" fill="#efd624"/>
<rect x="672.8" y="1260.8" width="8.1" height="8.8" fill="#f19e16"/>
<rect x="680.6" y="1260.8" width="8.1" height="8.8" fill="#e84a13"/>
<rect x="688.3" y="1260.8" width="8.1" height="8.8" fill="#861c17"/>
<rect x="696.1" y="1260.8" width="8.1" height="8.8" fill="#bb1510"/>
<rect x="703.8" y="1260.8" width="15.8" height="8.8" fill="#eee428"/>
<rect x="719.4" y="1260.8" width="8.1" height="8.8" fill="#e31c12"/>
<rect x="727.1" y="1260.8" width="8.1" height="8.8" fill="#f0ac1a"/>
<rect x="734.9" y="1260.8" width="8.1" height="8.8" fill="#eb6013"/>
<rect x="742.6" y="1260.8" width="8.1" height="8.8" fill="#f19e16"/>
<rect x="750.4" y="1260.8" width="15.8" height="8.8" fill="#e31c12"/>
<rect x="765.9" y="1260.8" width="8.1" height="8.8" fill="#bb1510"/>
<rect x="773.7" y="1260.8" width="8.1" height="8.8" fill="#efc821"/>
<rect x="781.5" y="1260.8" width="15.8" height="8.8" fill="#eee428"/>
<rect x="540.8" y="1269.3" width="8.1" height="8.8" fill="#ed7614"/>
<rect x="548.6" y="1269.3" width="8.1" height="8.8" fill="#efd624"/>
<rect x="556.4" y="1269.3" width="8.1" height="8.8" fill="#f19e16"/>
<rect x="564.1" y="1269.3" width="15.8" height="8.8" fill="#e31c12"/>
<rect x="579.6" y="1269.3" width="15.8" height="8.8" fill="#bb1510"/>
<rect x="595.2" y="1269.3" width="8.1" height="8.8" fill="#861c17"/>
<rect x="602.9" y="1269.3" width="8.1" height="8.8" fill="#bb1510"/>
<rect x="610.7" y="1269.3" width="8.1" height="8.8" fill="#efd624"/>
<rect x="618.5" y="1269.3" width="8.1" height="8.8" fill="#e53312"/>
<rect x="626.2" y="1269.3" width="8.1" height="8.8" fill="#eb6013"/>
<rect x="634" y="1269.3" width="8.1" height="8.8" fill="#f08d14"/>
<rect x="641.7" y="1269.3" width="8.1" height="8.8" fill="#f19e16"/>
<rect x="649.5" y="1269.3" width="8.1" height="8.8" fill="#ed7614"/>
<rect x="657.3" y="1269.3" width="8.1" height="8.8" fill="#e31c12"/>
<rect x="665" y="1269.3" width="8.1" height="8.8" fill="#eb6013"/>
<rect x="672.8" y="1269.3" width="8.1" height="8.8" fill="#e84a13"/>
<rect x="680.6" y="1269.3" width="8.1" height="8.8" fill="#e31c12"/>
<rect x="688.3" y="1269.3" width="8.1" height="8.8" fill="#861c17"/>
<rect x="696.1" y="1269.3" width="8.1" height="8.8" fill="#f08d14"/>
<rect x="703.8" y="1269.3" width="15.8" height="8.8" fill="#eb6013"/>
<rect x="719.4" y="1269.3" width="8.1" height="8.8" fill="#e53312"/>
<rect x="727.1" y="1269.3" width="31.3" height="8.8" fill="#e31c12"/>
<rect x="758.2" y="1269.3" width="8.1" height="8.8" fill="#e84a13"/>
<rect x="765.9" y="1269.3" width="8.1" height="8.8" fill="#e31c12"/>
<rect x="773.7" y="1269.3" width="8.1" height="8.8" fill="#f0ac1a"/>
<rect x="781.5" y="1269.3" width="8.1" height="8.8" fill="#f0ba1d"/>
<rect x="533.1" y="1277.8" width="8.1" height="8.8" fill="#e31c12"/>
<rect x="540.8" y="1277.8" width="8.1" height="8.8" fill="#e53312"/>
<rect x="548.6" y="1277.8" width="8.1" height="8.8" fill="#efc821"/>
<rect x="556.4" y="1277.8" width="8.1" height="8.8" fill="#ed7614"/>
<rect x="564.1" y="1277.8" width="8.1" height="8.8" fill="#eb6013"/>
<rect x="571.9" y="1277.8" width="8.1" height="8.8" fill="#ed7614"/>
<rect x="579.6" y="1277.8" width="8.1" height="8.8" fill="#f0ba1d"/>
<rect x="587.4" y="1277.8" width="8.1" height="8.8" fill="#e31c12"/>
<rect x="595.2" y="1277.8" width="15.8" height="8.8" fill="#861c17"/>
<rect x="610.7" y="1277.8" width="8.1" height="8.8" fill="#e53312"/>
<rect x="618.5" y="1277.8" width="8.1" height="8.8" fill="#efc821"/>
<rect x="626.2" y="1277.8" width="15.8" height="8.8" fill="#ed7614"/>
<rect x="641.7" y="1277.8" width="15.8" height="8.8" fill="#e31c12"/>
<rect x="657.3" y="1277.8" width="31.3" height="8.8" fill="#bb1510"/>
<rect x="688.3" y="1277.8" width="8.1" height="8.8" fill="#e53312"/>
<rect x="696.1" y="1277.8" width="8.1" height="8.8" fill="#eb6013"/>
<rect x="703.8" y="1277.8" width="8.1" height="8.8" fill="#f19e16"/>
<rect x="711.6" y="1277.8" width="8.1" height="8.8" fill="#bb1510"/>
<rect x="719.4" y="1277.8" width="23.6" height="8.8" fill="#e31c12"/>
<rect x="742.6" y="1277.8" width="15.8" height="8.8" fill="#bb1510"/>
<rect x="758.2" y="1277.8" width="15.8" height="8.8" fill="#e31c12"/>
<rect x="773.7" y="1277.8" width="8.1" height="8.8" fill="#ed7614"/>
<rect x="525.3" y="1286.2" width="8.1" height="8.8" fill="#f19e16"/>
<rect x="533.1" y="1286.2" width="8.1" height="8.8" fill="#f08d14"/>
<rect x="540.8" y="1286.2" width="8.1" height="8.8" fill="#f0ac1a"/>
<rect x="548.6" y="1286.2" width="8.1" height="8.8" fill="#f19e16"/>
<rect x="556.4" y="1286.2" width="8.1" height="8.8" fill="#eb6013"/>
<rect x="564.1" y="1286.2" width="8.1" height="8.8" fill="#f19e16"/>
<rect x="571.9" y="1286.2" width="8.1" height="8.8" fill="#f0ac1a"/>
<rect x="579.6" y="1286.2" width="8.1" height="8.8" fill="#e31c12"/>
<rect x="587.4" y="1286.2" width="8.1" height="8.8" fill="#ed7614"/>
<rect x="595.2" y="1286.2" width="8.1" height="8.8" fill="#bb1510"/>
<rect x="602.9" y="1286.2" width="8.1" height="8.8" fill="#e84a13"/>
<rect x="610.7" y="1286.2" width="8.1" height="8.8" fill="#ed7614"/>
<rect x="618.5" y="1286.2" width="8.1" height="8.8" fill="#eb6013"/>
<rect x="626.2" y="1286.2" width="8.1" height="8.8" fill="#eee428"/>
<rect x="634" y="1286.2" width="8.1" height="8.8" fill="#f0ac1a"/>
<rect x="641.7" y="1286.2" width="8.1" height="8.8" fill="#f08d14"/>
<rect x="649.5" y="1286.2" width="8.1" height="8.8" fill="#e84a13"/>
<rect x="657.3" y="1286.2" width="8.1" height="8.8" fill="#ed7614"/>
<rect x="665" y="1286.2" width="8.1" height="8.8" fill="#e31c12"/>
<rect x="672.8" y="1286.2" width="8.1" height="8.8" fill="#bb1510"/>
<rect x="680.6" y="1286.2" width="8.1" height="8.8" fill="#e31c12"/>
<rect x="688.3" y="1286.2" width="8.1" height="8.8" fill="#f08d14"/>
<rect x="696.1" y="1286.2" width="8.1" height="8.8" fill="#e53312"/>
<rect x="703.8" y="1286.2" width="8.1" height="8.8" fill="#efc821"/>
<rect x="711.6" y="1286.2" width="8.1" height="8.8" fill="#eb6013"/>
<rect x="719.4" y="1286.2" width="8.1" height="8.8" fill="#ed7614"/>
<rect x="727.1" y="1286.2" width="8.1" height="8.8" fill="#e31c12"/>
<rect x="734.9" y="1286.2" width="8.1" height="8.8" fill="#e53312"/>
<rect x="742.6" y="1286.2" width="8.1" height="8.8" fill="#f0ba1d"/>
<rect x="750.4" y="1286.2" width="8.1" height="8.8" fill="#eb6013"/>
<rect x="758.2" y="1286.2" width="8.1" height="8.8" fill="#f19e16"/>
<rect x="517.5" y="1294.7" width="8.1" height="8.8" fill="#efc821"/>
<rect x="525.3" y="1294.7" width="8.1" height="8.8" fill="#efd624"/>
<rect x="533.1" y="1294.7" width="8.1" height="8.8" fill="#efc821"/>
<rect x="540.8" y="1294.7" width="8.1" height="8.8" fill="#e84a13"/>
<rect x="548.6" y="1294.7" width="8.1" height="8.8" fill="#f0ac1a"/>
<rect x="556.4" y="1294.7" width="8.1" height="8.8" fill="#e84a13"/>
<rect x="564.1" y="1294.7" width="8.1" height="8.8" fill="#f19e16"/>
<rect x="571.9" y="1294.7" width="8.1" height="8.8" fill="#e31c12"/>
<rect x="579.6" y="1294.7" width="8.1" height="8.8" fill="#f0ba1d"/>
<rect x="587.4" y="1294.7" width="8.1" height="8.8" fill="#bb1510"/>
<rect x="595.2" y="1294.7" width="8.1" height="8.8" fill="#f0ac1a"/>
<rect x="602.9" y="1294.7" width="8.1" height="8.8" fill="#efc821"/>
<rect x="610.7" y="1294.7" width="8.1" height="8.8" fill="#e31c12"/>
<rect x="618.5" y="1294.7" width="8.1" height="8.8" fill="#efc821"/>
<rect x="626.2" y="1294.7" width="8.1" height="8.8" fill="#eee428"/>
<rect x="634" y="1294.7" width="8.1" height="8.8" fill="#efc821"/>
<rect x="641.7" y="1294.7" width="15.8" height="8.8" fill="#e31c12"/>
<rect x="657.3" y="1294.7" width="8.1" height="8.8" fill="#e84a13"/>
<rect x="665" y="1294.7" width="15.8" height="8.8" fill="#f0ac1a"/>
<rect x="680.6" y="1294.7" width="8.1" height="8.8" fill="#efc821"/>
<rect x="688.3" y="1294.7" width="8.1" height="8.8" fill="#bb1510"/>
<rect x="696.1" y="1294.7" width="8.1" height="8.8" fill="#e31c12"/>
<rect x="703.8" y="1294.7" width="8.1" height="8.8" fill="#e84a13"/>
<rect x="711.6" y="1294.7" width="8.1" height="8.8" fill="#efd624"/>
<rect x="719.4" y="1294.7" width="8.1" height="8.8" fill="#f0ac1a"/>
<rect x="727.1" y="1294.7" width="8.1" height="8.8" fill="#f08d14"/>
<rect x="734.9" y="1294.7" width="15.8" height="8.8" fill="#efd624"/>
<rect x="750.4" y="1294.7" width="8.1" height="8.8" fill="#eee428"/>
<rect x="509.8" y="1303.2" width="8.1" height="8.8" fill="#e84a13"/>
<rect x="517.5" y="1303.2" width="8.1" height="8.8" fill="#f08d14"/>
<rect x="525.3" y="1303.2" width="8.1" height="8.8" fill="#efd624"/>
<rect x="533.1" y="1303.2" width="8.1" height="8.8" fill="#eee428"/>
<rect x="540.8" y="1303.2" width="8.1" height="8.8" fill="#f0ba1d"/>
<rect x="548.6" y="1303.2" width="8.1" height="8.8" fill="#efd624"/>
<rect x="556.4" y="1303.2" width="8.1" height="8.8" fill="#f0ac1a"/>
<rect x="564.1" y="1303.2" width="8.1" height="8.8" fill="#f0ba1d"/>
<rect x="571.9" y="1303.2" width="8.1" height="8.8" fill="#e31c12"/>
<rect x="579.6" y="1303.2" width="8.1" height="8.8" fill="#bb1510"/>
<rect x="587.4" y="1303.2" width="8.1" height="8.8" fill="#e53312"/>
<rect x="595.2" y="1303.2" width="8.1" height="8.8" fill="#f0ba1d"/>
<rect x="602.9" y="1303.2" width="8.1" height="8.8" fill="#bb1510"/>
<rect x="610.7" y="1303.2" width="8.1" height="8.8" fill="#e31c12"/>
<rect x="618.5" y="1303.2" width="8.1" height="8.8" fill="#efc821"/>
<rect x="626.2" y="1303.2" width="8.1" height="8.8" fill="#eee428"/>
<rect x="634" y="1303.2" width="8.1" height="8.8" fill="#f0ba1d"/>
<rect x="641.7" y="1303.2" width="8.1" height="8.8" fill="#eb6013"/>
<rect x="649.5" y="1303.2" width="8.1" height="8.8" fill="#efc821"/>
<rect x="657.3" y="1303.2" width="8.1" height="8.8" fill="#efd624"/>
<rect x="665" y="1303.2" width="8.1" height="8.8" fill="#f19e16"/>
<rect x="672.8" y="1303.2" width="8.1" height="8.8" fill="#f0ba1d"/>
<rect x="680.6" y="1303.2" width="8.1" height="8.8" fill="#eb6013"/>
<rect x="688.3" y="1303.2" width="8.1" height="8.8" fill="#e84a13"/>
<rect x="696.1" y="1303.2" width="8.1" height="8.8" fill="#e31c12"/>
<rect x="703.8" y="1303.2" width="8.1" height="8.8" fill="#eb6013"/>
<rect x="711.6" y="1303.2" width="8.1" height="8.8" fill="#f0ac1a"/>
<rect x="719.4" y="1303.2" width="8.1" height="8.8" fill="#efc821"/>
<rect x="727.1" y="1303.2" width="8.1" height="8.8" fill="#efd624"/>
<rect x="734.9" y="1303.2" width="8.1" height="8.8" fill="#f0ba1d"/>
<rect x="742.6" y="1303.2" width="8.1" height="8.8" fill="#efc821"/>
<rect x="509.8" y="1311.7" width="8.1" height="8.8" fill="#f0ba1d"/>
<rect x="517.5" y="1311.7" width="8.1" height="8.8" fill="#f08d14"/>
<rect x="525.3" y="1311.7" width="8.1" height="8.8" fill="#f0ac1a"/>
<rect x="533.1" y="1311.7" width="8.1" height="8.8" fill="#f0ba1d"/>
<rect x="540.8" y="1311.7" width="8.1" height="8.8" fill="#f19e16"/>
<rect x="548.6" y="1311.7" width="8.1" height="8.8" fill="#e53312"/>
<rect x="556.4" y="1311.7" width="23.6" height="8.8" fill="#e31c12"/>
<rect x="579.6" y="1311.7" width="15.8" height="8.8" fill="#bb1510"/>
<rect x="595.2" y="1311.7" width="23.6" height="8.8" fill="#e53312"/>
<rect x="618.5" y="1311.7" width="8.1" height="8.8" fill="#f0ba1d"/>
<rect x="626.2" y="1311.7" width="8.1" height="8.8" fill="#efc821"/>
<rect x="634" y="1311.7" width="8.1" height="8.8" fill="#f0ba1d"/>
<rect x="641.7" y="1311.7" width="8.1" height="8.8" fill="#f08d14"/>
<rect x="649.5" y="1311.7" width="8.1" height="8.8" fill="#f0ba1d"/>
<rect x="657.3" y="1311.7" width="15.8" height="8.8" fill="#f19e16"/>
<rect x="672.8" y="1311.7" width="8.1" height="8.8" fill="#e84a13"/>
<rect x="680.6" y="1311.7" width="8.1" height="8.8" fill="#f08d14"/>
<rect x="688.3" y="1311.7" width="8.1" height="8.8" fill="#ed7614"/>
<rect x="696.1" y="1311.7" width="8.1" height="8.8" fill="#f08d14"/>
<rect x="703.8" y="1311.7" width="8.1" height="8.8" fill="#e31c12"/>
<rect x="711.6" y="1311.7" width="8.1" height="8.8" fill="#ed7614"/>
<rect x="719.4" y="1311.7" width="8.1" height="8.8" fill="#e84a13"/>
<rect x="727.1" y="1311.7" width="8.1" height="8.8" fill="#efc821"/>
<rect x="734.9" y="1311.7" width="8.1" height="8.8" fill="#eee428"/>
<rect x="502" y="1320.2" width="8.1" height="8.8" fill="#f0ac1a"/>
<rect x="509.8" y="1320.2" width="8.1" height="8.8" fill="#e31c12"/>
<rect x="517.5" y="1320.2" width="8.1" height="8.8" fill="#efc821"/>
<rect x="525.3" y="1320.2" width="8.1" height="8.8" fill="#e31c12"/>
<rect x="533.1" y="1320.2" width="8.1" height="8.8" fill="#f08d14"/>
<rect x="540.8" y="1320.2" width="8.1" height="8.8" fill="#efc821"/>
<rect x="548.6" y="1320.2" width="8.1" height="8.8" fill="#f08d14"/>
<rect x="556.4" y="1320.2" width="8.1" height="8.8" fill="#e84a13"/>
<rect x="564.1" y="1320.2" width="8.1" height="8.8" fill="#e53312"/>
<rect x="571.9" y="1320.2" width="8.1" height="8.8" fill="#eb6013"/>
<rect x="579.6" y="1320.2" width="8.1" height="8.8" fill="#e53312"/>
<rect x="587.4" y="1320.2" width="8.1" height="8.8" fill="#eb6013"/>
<rect x="595.2" y="1320.2" width="15.8" height="8.8" fill="#e84a13"/>
<rect x="610.7" y="1320.2" width="8.1" height="8.8" fill="#f0ba1d"/>
<rect x="618.5" y="1320.2" width="8.1" height="8.8" fill="#efd624"/>
<rect x="626.2" y="1320.2" width="8.1" height="8.8" fill="#f0ac1a"/>
<rect x="634" y="1320.2" width="8.1" height="8.8" fill="#eee428"/>
<rect x="641.7" y="1320.2" width="8.1" height="8.8" fill="#f0ba1d"/>
<rect x="649.5" y="1320.2" width="8.1" height="8.8" fill="#efd624"/>
<rect x="657.3" y="1320.2" width="8.1" height="8.8" fill="#eee428"/>
<rect x="665" y="1320.2" width="8.1" height="8.8" fill="#f0ba1d"/>
<rect x="672.8" y="1320.2" width="8.1" height="8.8" fill="#f08d14"/>
<rect x="680.6" y="1320.2" width="8.1" height="8.8" fill="#efc821"/>
<rect x="688.3" y="1320.2" width="8.1" height="8.8" fill="#eee428"/>
<rect x="696.1" y="1320.2" width="8.1" height="8.8" fill="#e31c12"/>
<rect x="703.8" y="1320.2" width="8.1" height="8.8" fill="#efc821"/>
<rect x="711.6" y="1320.2" width="8.1" height="8.8" fill="#f0ba1d"/>
<rect x="719.4" y="1320.2" width="15.8" height="8.8" fill="#f0ac1a"/>
<rect x="494.3" y="1328.7" width="8.1" height="8.8" fill="#f19e16"/>
<rect x="502" y="1328.7" width="8.1" height="8.8" fill="#e84a13"/>
<rect x="509.8" y="1328.7" width="8.1" height="8.8" fill="#e53312"/>
<rect x="517.5" y="1328.7" width="15.8" height="8.8" fill="#e31c12"/>
<rect x="533.1" y="1328.7" width="8.1" height="8.8" fill="#bb1510"/>
<rect x="540.8" y="1328.7" width="8.1" height="8.8" fill="#e31c12"/>
<rect x="548.6" y="1328.7" width="8.1" height="8.8" fill="#efd624"/>
<rect x="556.4" y="1328.7" width="8.1" height="8.8" fill="#ed7614"/>
<rect x="564.1" y="1328.7" width="8.1" height="8.8" fill="#efd624"/>
<rect x="571.9" y="1328.7" width="8.1" height="8.8" fill="#efc821"/>
<rect x="579.6" y="1328.7" width="8.1" height="8.8" fill="#f0ba1d"/>
<rect x="587.4" y="1328.7" width="15.8" height="8.8" fill="#eb6013"/>
<rect x="602.9" y="1328.7" width="15.8" height="8.8" fill="#efc821"/>
<rect x="618.5" y="1328.7" width="8.1" height="8.8" fill="#efd624"/>
<rect x="626.2" y="1328.7" width="8.1" height="8.8" fill="#f0ba1d"/>
<rect x="634" y="1328.7" width="8.1" height="8.8" fill="#f0ac1a"/>
<rect x="641.7" y="1328.7" width="15.8" height="8.8" fill="#efd624"/>
<rect x="657.3" y="1328.7" width="8.1" height="8.8" fill="#f19e16"/>
<rect x="665" y="1328.7" width="8.1" height="8.8" fill="#e31c12"/>
<rect x="672.8" y="1328.7" width="8.1" height="8.8" fill="#f0ba1d"/>
<rect x="680.6" y="1328.7" width="8.1" height="8.8" fill="#efd624"/>
<rect x="688.3" y="1328.7" width="15.8" height="8.8" fill="#eee428"/>
<rect x="703.8" y="1328.7" width="8.1" height="8.8" fill="#eb6013"/>
<rect x="711.6" y="1328.7" width="8.1" height="8.8" fill="#f0ba1d"/>
<rect x="719.4" y="1328.7" width="8.1" height="8.8" fill="#efd624"/>
<rect x="486.5" y="1337.2" width="8.1" height="8.8" fill="#f0ac1a"/>
<rect x="494.3" y="1337.2" width="8.1" height="8.8" fill="#e31c12"/>
<rect x="502" y="1337.2" width="8.1" height="8.8" fill="#efd624"/>
<rect x="509.8" y="1337.2" width="8.1" height="8.8" fill="#f0ac1a"/>
<rect x="517.5" y="1337.2" width="8.1" height="8.8" fill="#e31c12"/>
<rect x="525.3" y="1337.2" width="8.1" height="8.8" fill="#e53312"/>
<rect x="533.1" y="1337.2" width="8.1" height="8.8" fill="#f08d14"/>
<rect x="540.8" y="1337.2" width="8.1" height="8.8" fill="#e84a13"/>
<rect x="548.6" y="1337.2" width="8.1" height="8.8" fill="#e53312"/>
<rect x="556.4" y="1337.2" width="8.1" height="8.8" fill="#f08d14"/>
<rect x="564.1" y="1337.2" width="8.1" height="8.8" fill="#e84a13"/>
<rect x="571.9" y="1337.2" width="15.8" height="8.8" fill="#e31c12"/>
<rect x="587.4" y="1337.2" width="8.1" height="8.8" fill="#eb6013"/>
<rect x="595.2" y="1337.2" width="8.1" height="8.8" fill="#f0ba1d"/>
<rect x="602.9" y="1337.2" width="8.1" height="8.8" fill="#efd624"/>
<rect x="610.7" y="1337.2" width="15.8" height="8.8" fill="#eee428"/>
<rect x="626.2" y="1337.2" width="8.1" height="8.8" fill="#f0ac1a"/>
<rect x="634" y="1337.2" width="8.1" height="8.8" fill="#f0ba1d"/>
<rect x="641.7" y="1337.2" width="8.1" height="8.8" fill="#efd624"/>
<rect x="649.5" y="1337.2" width="8.1" height="8.8" fill="#eb6013"/>
<rect x="657.3" y="1337.2" width="8.1" height="8.8" fill="#e31c12"/>
<rect x="665" y="1337.2" width="8.1" height="8.8" fill="#f19e16"/>
<rect x="672.8" y="1337.2" width="8.1" height="8.8" fill="#bb1510"/>
<rect x="680.6" y="1337.2" width="8.1" height="8.8" fill="#f0ba1d"/>
<rect x="688.3" y="1337.2" width="8.1" height="8.8" fill="#efc821"/>
<rect x="696.1" y="1337.2" width="8.1" height="8.8" fill="#efd624"/>
<rect x="703.8" y="1337.2" width="8.1" height="8.8" fill="#efc821"/>
<rect x="711.6" y="1337.2" width="8.1" height="8.8" fill="#efd624"/>
<rect x="486.5" y="1345.7" width="8.1" height="8.8" fill="#e53312"/>
<rect x="494.3" y="1345.7" width="8.1" height="8.8" fill="#eee428"/>
<rect x="502" y="1345.7" width="8.1" height="8.8" fill="#f08d14"/>
<rect x="509.8" y="1345.7" width="8.1" height="8.8" fill="#f0ac1a"/>
<rect x="517.5" y="1345.7" width="8.1" height="8.8" fill="#e31c12"/>
<rect x="525.3" y="1345.7" width="8.1" height="8.8" fill="#e53312"/>
<rect x="533.1" y="1345.7" width="8.1" height="8.8" fill="#f08d14"/>
<rect x="540.8" y="1345.7" width="8.1" height="8.8" fill="#861c17"/>
<rect x="548.6" y="1345.7" width="8.1" height="8.8" fill="#bb1510"/>
<rect x="556.4" y="1345.7" width="31.3" height="8.8" fill="#e31c12"/>
<rect x="587.4" y="1345.7" width="8.1" height="8.8" fill="#f0ba1d"/>
<rect x="595.2" y="1345.7" width="15.8" height="8.8" fill="#efd624"/>
<rect x="610.7" y="1345.7" width="15.8" height="8.8" fill="#eee428"/>
<rect x="626.2" y="1345.7" width="8.1" height="8.8" fill="#eb6013"/>
<rect x="634" y="1345.7" width="15.8" height="8.8" fill="#eee428"/>
<rect x="649.5" y="1345.7" width="8.1" height="8.8" fill="#e31c12"/>
<rect x="657.3" y="1345.7" width="23.6" height="8.8" fill="#bb1510"/>
<rect x="680.6" y="1345.7" width="8.1" height="8.8" fill="#eb6013"/>
<rect x="688.3" y="1345.7" width="8.1" height="8.8" fill="#e31c12"/>
<rect x="696.1" y="1345.7" width="8.1" height="8.8" fill="#f08d14"/>
<rect x="703.8" y="1345.7" width="8.1" height="8.8" fill="#eee428"/>
<rect x="486.5" y="1354.2" width="15.8" height="8.8" fill="#e31c12"/>
<rect x="502" y="1354.2" width="8.1" height="8.8" fill="#efd624"/>
<rect x="509.8" y="1354.2" width="15.8" height="8.8" fill="#f19e16"/>
<rect x="525.3" y="1354.2" width="8.1" height="8.8" fill="#e31c12"/>
<rect x="533.1" y="1354.2" width="8.1" height="8.8" fill="#bb1510"/>
<rect x="540.8" y="1354.2" width="8.1" height="8.8" fill="#f0ac1a"/>
<rect x="548.6" y="1354.2" width="8.1" height="8.8" fill="#bb1510"/>
<rect x="556.4" y="1354.2" width="8.1" height="8.8" fill="#e31c12"/>
<rect x="564.1" y="1354.2" width="8.1" height="8.8" fill="#bb1510"/>
<rect x="571.9" y="1354.2" width="8.1" height="8.8" fill="#f0ba1d"/>
<rect x="579.6" y="1354.2" width="8.1" height="8.8" fill="#f08d14"/>
<rect x="587.4" y="1354.2" width="8.1" height="8.8" fill="#f0ac1a"/>
<rect x="595.2" y="1354.2" width="15.8" height="8.8" fill="#efc821"/>
<rect x="610.7" y="1354.2" width="8.1" height="8.8" fill="#eee428"/>
<rect x="618.5" y="1354.2" width="8.1" height="8.8" fill="#e84a13"/>
<rect x="626.2" y="1354.2" width="8.1" height="8.8" fill="#f19e16"/>
<rect x="634" y="1354.2" width="8.1" height="8.8" fill="#f08d14"/>
<rect x="641.7" y="1354.2" width="8.1" height="8.8" fill="#f0ac1a"/>
<rect x="649.5" y="1354.2" width="8.1" height="8.8" fill="#e31c12"/>
<rect x="657.3" y="1354.2" width="15.8" height="8.8" fill="#bb1510"/>
<rect x="672.8" y="1354.2" width="8.1" height="8.8" fill="#e53312"/>
<rect x="680.6" y="1354.2" width="8.1" height="8.8" fill="#f08d14"/>
<rect x="688.3" y="1354.2" width="8.1" height="8.8" fill="#e31c12"/>
<rect x="696.1" y="1354.2" width="8.1" height="8.8" fill="#e53312"/>
<rect x="486.5" y="1362.7" width="8.1" height="8.8" fill="#eb6013"/>
<rect x="494.3" y="1362.7" width="8.1" height="8.8" fill="#e53312"/>
<rect x="502" y="1362.7" width="15.8" height="8.8" fill="#eee428"/>
<rect x="517.5" y="1362.7" width="8.1" height="8.8" fill="#efc821"/>
<rect x="525.3" y="1362.7" width="8.1" height="8.8" fill="#f0ac1a"/>
<rect x="533.1" y="1362.7" width="8.1" height="8.8" fill="#e53312"/>
<rect x="540.8" y="1362.7" width="8.1" height="8.8" fill="#eb6013"/>
<rect x="548.6" y="1362.7" width="15.8" height="8.8" fill="#bb1510"/>
<rect x="564.1" y="1362.7" width="8.1" height="8.8" fill="#f19e16"/>
<rect x="571.9" y="1362.7" width="8.1" height="8.8" fill="#eb6013"/>
<rect x="579.6" y="1362.7" width="8.1" height="8.8" fill="#efd624"/>
<rect x="587.4" y="1362.7" width="8.1" height="8.8" fill="#f08d14"/>
<rect x="595.2" y="1362.7" width="8.1" height="8.8" fill="#e84a13"/>
<rect x="602.9" y="1362.7" width="8.1" height="8.8" fill="#f0ba1d"/>
<rect x="610.7" y="1362.7" width="8.1" height="8.8" fill="#efd624"/>
<rect x="618.5" y="1362.7" width="8.1" height="8.8" fill="#ed7614"/>
<rect x="626.2" y="1362.7" width="8.1" height="8.8" fill="#e31c12"/>
<rect x="634" y="1362.7" width="8.1" height="8.8" fill="#ed7614"/>
<rect x="641.7" y="1362.7" width="8.1" height="8.8" fill="#e84a13"/>
<rect x="649.5" y="1362.7" width="8.1" height="8.8" fill="#bb1510"/>
<rect x="657.3" y="1362.7" width="15.8" height="8.8" fill="#861c17"/>
<rect x="672.8" y="1362.7" width="8.1" height="8.8" fill="#f0ba1d"/>
<rect x="680.6" y="1362.7" width="8.1" height="8.8" fill="#e53312"/>
<rect x="688.3" y="1362.7" width="8.1" height="8.8" fill="#e31c12"/>
<rect x="494.3" y="1371.1" width="8.1" height="8.8" fill="#f19e16"/>
<rect x="502" y="1371.1" width="15.8" height="8.8" fill="#efd624"/>
<rect x="517.5" y="1371.1" width="8.1" height="8.8" fill="#f19e16"/>
<rect x="525.3" y="1371.1" width="8.1" height="8.8" fill="#ed7614"/>
<rect x="533.1" y="1371.1" width="8.1" height="8.8" fill="#e31c12"/>
<rect x="540.8" y="1371.1" width="15.8" height="8.8" fill="#bb1510"/>
<rect x="556.4" y="1371.1" width="8.1" height="8.8" fill="#f0ac1a"/>
<rect x="564.1" y="1371.1" width="8.1" height="8.8" fill="#bb1510"/>
<rect x="571.9" y="1371.1" width="8.1" height="8.8" fill="#e84a13"/>
<rect x="579.6" y="1371.1" width="8.1" height="8.8" fill="#efd624"/>
<rect x="587.4" y="1371.1" width="8.1" height="8.8" fill="#ed7614"/>
<rect x="595.2" y="1371.1" width="8.1" height="8.8" fill="#f08d14"/>
<rect x="602.9" y="1371.1" width="8.1" height="8.8" fill="#f0ac1a"/>
<rect x="610.7" y="1371.1" width="8.1" height="8.8" fill="#f19e16"/>
<rect x="618.5" y="1371.1" width="8.1" height="8.8" fill="#f0ac1a"/>
<rect x="626.2" y="1371.1" width="8.1" height="8.8" fill="#eb6013"/>
<rect x="634" y="1371.1" width="8.1" height="8.8" fill="#f0ba1d"/>
<rect x="641.7" y="1371.1" width="8.1" height="8.8" fill="#f19e16"/>
<rect x="649.5" y="1371.1" width="8.1" height="8.8" fill="#bb1510"/>
<rect x="657.3" y="1371.1" width="8.1" height="8.8" fill="#861c17"/>
<rect x="665" y="1371.1" width="23.6" height="8.8" fill="#bb1510"/>
<rect x="494.3" y="1379.6" width="8.1" height="8.8" fill="#efd624"/>
<rect x="502" y="1379.6" width="8.1" height="8.8" fill="#f0ac1a"/>
<rect x="509.8" y="1379.6" width="8.1" height="8.8" fill="#efc821"/>
<rect x="517.5" y="1379.6" width="15.8" height="8.8" fill="#eb6013"/>
<rect x="533.1" y="1379.6" width="8.1" height="8.8" fill="#e53312"/>
<rect x="540.8" y="1379.6" width="8.1" height="8.8" fill="#f08d14"/>
<rect x="548.6" y="1379.6" width="8.1" height="8.8" fill="#f0ba1d"/>
<rect x="556.4" y="1379.6" width="8.1" height="8.8" fill="#e84a13"/>
<rect x="564.1" y="1379.6" width="8.1" height="8.8" fill="#bb1510"/>
<rect x="571.9" y="1379.6" width="8.1" height="8.8" fill="#e53312"/>
<rect x="579.6" y="1379.6" width="8.1" height="8.8" fill="#e31c12"/>
<rect x="587.4" y="1379.6" width="15.8" height="8.8" fill="#f0ba1d"/>
<rect x="602.9" y="1379.6" width="8.1" height="8.8" fill="#f0ac1a"/>
<rect x="610.7" y="1379.6" width="8.1" height="8.8" fill="#f19e16"/>
<rect x="618.5" y="1379.6" width="8.1" height="8.8" fill="#f0ba1d"/>
<rect x="626.2" y="1379.6" width="8.1" height="8.8" fill="#efd624"/>
<rect x="634" y="1379.6" width="15.8" height="8.8" fill="#f19e16"/>
<rect x="649.5" y="1379.6" width="8.1" height="8.8" fill="#e31c12"/>
<rect x="657.3" y="1379.6" width="8.1" height="8.8" fill="#bb1510"/>
<rect x="665" y="1379.6" width="15.8" height="8.8" fill="#861c17"/>
<rect x="502" y="1388.1" width="8.1" height="8.8" fill="#e31c12"/>
<rect x="509.8" y="1388.1" width="8.1" height="8.8" fill="#e84a13"/>
<rect x="517.5" y="1388.1" width="8.1" height="8.8" fill="#bb1510"/>
<rect x="525.3" y="1388.1" width="8.1" height="8.8" fill="#e53312"/>
<rect x="533.1" y="1388.1" width="8.1" height="8.8" fill="#e31c12"/>
<rect x="540.8" y="1388.1" width="8.1" height="8.8" fill="#eb6013"/>
<rect x="548.6" y="1388.1" width="8.1" height="8.8" fill="#f0ac1a"/>
<rect x="556.4" y="1388.1" width="8.1" height="8.8" fill="#efc821"/>
<rect x="564.1" y="1388.1" width="8.1" height="8.8" fill="#e84a13"/>
<rect x="571.9" y="1388.1" width="8.1" height="8.8" fill="#e53312"/>
<rect x="579.6" y="1388.1" width="23.6" height="8.8" fill="#efc821"/>
<rect x="602.9" y="1388.1" width="8.1" height="8.8" fill="#e84a13"/>
<rect x="610.7" y="1388.1" width="8.1" height="8.8" fill="#ed7614"/>
<rect x="618.5" y="1388.1" width="15.8" height="8.8" fill="#f19e16"/>
<rect x="634" y="1388.1" width="8.1" height="8.8" fill="#f0ac1a"/>
<rect x="641.7" y="1388.1" width="8.1" height="8.8" fill="#efd624"/>
<rect x="649.5" y="1388.1" width="23.6" height="8.8" fill="#bb1510"/>
<rect x="509.8" y="1396.6" width="8.1" height="8.8" fill="#bb1510"/>
<rect x="517.5" y="1396.6" width="8.1" height="8.8" fill="#efc821"/>
<rect x="525.3" y="1396.6" width="15.8" height="8.8" fill="#bb1510"/>
<rect x="540.8" y="1396.6" width="8.1" height="8.8" fill="#e31c12"/>
<rect x="548.6" y="1396.6" width="8.1" height="8.8" fill="#f19e16"/>
<rect x="556.4" y="1396.6" width="15.8" height="8.8" fill="#efd624"/>
<rect x="571.9" y="1396.6" width="8.1" height="8.8" fill="#e84a13"/>
<rect x="579.6" y="1396.6" width="8.1" height="8.8" fill="#ed7614"/>
<rect x="587.4" y="1396.6" width="8.1" height="8.8" fill="#e84a13"/>
<rect x="595.2" y="1396.6" width="8.1" height="8.8" fill="#efd624"/>
<rect x="602.9" y="1396.6" width="8.1" height="8.8" fill="#f0ac1a"/>
<rect x="610.7" y="1396.6" width="8.1" height="8.8" fill="#efd624"/>
<rect x="618.5" y="1396.6" width="8.1" height="8.8" fill="#eb6013"/>
<rect x="626.2" y="1396.6" width="8.1" height="8.8" fill="#f0ba1d"/>
<rect x="634" y="1396.6" width="8.1" height="8.8" fill="#e31c12"/>
<rect x="641.7" y="1396.6" width="8.1" height="8.8" fill="#ed7614"/>
<rect x="649.5" y="1396.6" width="8.1" height="8.8" fill="#bb1510"/>
<rect x="517.5" y="1405.1" width="15.8" height="8.8" fill="#e53312"/>
<rect x="533.1" y="1405.1" width="8.1" height="8.8" fill="#e84a13"/>
<rect x="540.8" y="1405.1" width="8.1" height="8.8" fill="#f0ba1d"/>
<rect x="548.6" y="1405.1" width="8.1" height="8.8" fill="#f19e16"/>
<rect x="556.4" y="1405.1" width="8.1" height="8.8" fill="#efc821"/>
<rect x="564.1" y="1405.1" width="8.1" height="8.8" fill="#f0ac1a"/>
<rect x="571.9" y="1405.1" width="8.1" height="8.8" fill="#e31c12"/>
<rect x="579.6" y="1405.1" width="15.8" height="8.8" fill="#bb1510"/>
<rect x="595.2" y="1405.1" width="8.1" height="8.8" fill="#e84a13"/>
<rect x="602.9" y="1405.1" width="8.1" height="8.8" fill="#f0ac1a"/>
<rect x="610.7" y="1405.1" width="8.1" height="8.8" fill="#efc821"/>
<rect x="618.5" y="1405.1" width="8.1" height="8.8" fill="#f19e16"/>
<rect x="626.2" y="1405.1" width="8.1" height="8.8" fill="#ed7614"/>
<rect x="634" y="1405.1" width="8.1" height="8.8" fill="#bb1510"/>
<rect x="641.7" y="1405.1" width="8.1" height="8.8" fill="#eb6013"/>
<rect x="533.1" y="1413.6" width="8.1" height="8.8" fill="#ed7614"/>
<rect x="540.8" y="1413.6" width="8.1" height="8.8" fill="#f19e16"/>
<rect x="548.6" y="1413.6" width="8.1" height="8.8" fill="#f08d14"/>
<rect x="556.4" y="1413.6" width="8.1" height="8.8" fill="#efd624"/>
<rect x="564.1" y="1413.6" width="8.1" height="8.8" fill="#f0ac1a"/>
<rect x="571.9" y="1413.6" width="8.1" height="8.8" fill="#bb1510"/>
<rect x="579.6" y="1413.6" width="8.1" height="8.8" fill="#f08d14"/>
<rect x="587.4" y="1413.6" width="8.1" height="8.8" fill="#f0ac1a"/>
<rect x="595.2" y="1413.6" width="8.1" height="8.8" fill="#efd624"/>
<rect x="602.9" y="1413.6" width="8.1" height="8.8" fill="#e53312"/>
<rect x="610.7" y="1413.6" width="8.1" height="8.8" fill="#f0ba1d"/>
<rect x="618.5" y="1413.6" width="8.1" height="8.8" fill="#efc821"/>
<rect x="626.2" y="1413.6" width="8.1" height="8.8" fill="#e31c12"/>
<rect x="540.8" y="1422.1" width="8.1" height="8.8" fill="#f0ba1d"/>
<rect x="548.6" y="1422.1" width="8.1" height="8.8" fill="#efc821"/>
<rect x="556.4" y="1422.1" width="8.1" height="8.8" fill="#f19e16"/>
<rect x="564.1" y="1422.1" width="8.1" height="8.8" fill="#f08d14"/>
<rect x="571.9" y="1422.1" width="8.1" height="8.8" fill="#e84a13"/>
<rect x="579.6" y="1422.1" width="8.1" height="8.8" fill="#e31c12"/>
<rect x="587.4" y="1422.1" width="8.1" height="8.8" fill="#e84a13"/>
<rect x="595.2" y="1422.1" width="15.8" height="8.8" fill="#f19e16"/>
<rect x="548.6" y="1430.6" width="8.1" height="8.8" fill="#f0ac1a"/>
<rect x="556.4" y="1430.6" width="8.1" height="8.8" fill="#e31c12"/>
<rect x="564.1" y="1430.6" width="8.1" height="8.8" fill="#ed7614"/>
<rect x="571.9" y="1430.6" width="8.1" height="8.8" fill="#e53312"/>
<defs><clipPath id="cc"><rect x="317.5" y="1034" width="657.3" height="458"/></clipPath></defs>
<path clip-path="url(#cc)" d="M464.3,1033.5 466.4,1042 469.6,1043.6 471.2,1042.5 472,1045.2 476.8,1054 482.4,1059.6 492.8,1072.4 500.8,1083.6 510.4,1094.8 519.2,1107.6 528,1124.4 536,1140.4 542.4,1156.4 547.2,1172.4 550.4,1187.6 552,1196 552.8,1212 552.5,1230 551.5,1239 548,1247 547.5,1251 544,1253 547.5,1255 548.5,1258 546.5,1259 549.5,1260 551.5,1262 563,1262.5 573,1262 574.5,1259 579,1258 582.5,1261.5 583,1270 581,1273 579,1269 582.5,1261.5 579,1258 578,1253 576.5,1248 576.5,1242 574,1239 571,1237 569.5,1234 573,1231.5 577,1229 580,1224 586,1223 594,1223 600,1226 602.5,1229 602.5,1232.5 600,1233 606,1233.5 613,1234.5 618,1236.5 624,1236.5 633,1239 638,1245 640,1252 636,1254 632,1254 631,1258 634,1259 637,1256 640,1252 643,1255 650,1260 655,1256 663,1254 665,1246 669,1238 675,1229 682,1224 690,1224 695,1228 698,1220 704,1213 712,1213 724,1218 736,1227 746,1236 754,1245 762,1254 770,1264 776,1269 784,1275.4 795.2,1288 806.4,1295.8 817.6,1298.6 826,1296.4 833,1296.4 834.4,1302 840,1304.8 845.6,1311.8 851.2,1323 855.4,1335.6 857.4,1344 855.4,1351 851.2,1354.6 849,1351 845.6,1353.8 837.2,1358 828.8,1365 823.2,1372 820.4,1379 812,1384.6 805,1387.4 802.2,1393 805,1397.2 800.8,1402.8 792.4,1407 781.2,1412.6 772.8,1413.5 765.8,1408.4 761.6,1414 757.4,1413.5 756,1419.6 757.4,1425.2 751.8,1430.8 749,1439.2 746.2,1446.2 743.4,1451.8 746.2,1456 744.8,1468.6 751.8,1465.8 754.6,1467.2 760.2,1463 763,1456 772.8,1454.6 781.2,1449 782.6,1451.8 792.4,1444.8 802.2,1439.2 812,1430.8 823.2,1427.4 834.4,1423.8 845.6,1421 855.4,1415.4 865.2,1415.4 875,1421 883.4,1425.2 886.2,1430.8 891.8,1433.6 898.8,1428 910,1427.4 918.4,1426.6 921.2,1429.4 924,1425.2 932.4,1416.8 940.8,1409.8 946.4,1408.4 953.4,1398.6 960.4,1395.8 968.8,1395.8 974.4,1399.2 M420.8,1290 428,1286 432.8,1290 437.6,1288.4 439.2,1293.2 446.4,1295.6 452.8,1298 455.2,1295.6 457.6,1297.2 464.8,1296.4 470.4,1300.4 475.2,1301.2 477.6,1299.6 479.2,1302.8 484,1304.4 487.2,1307.6 487.2,1312.4 490.4,1316.4 492,1321.2 494.4,1326 492.8,1331.6 488,1335.6 489.6,1340.4 485.6,1341.2 480,1338 472.8,1338.8 467.2,1342.8 459.2,1345.2 451.2,1342.8 444.8,1344.4 442.4,1350 440.8,1345.2 434.4,1344.4 429.6,1346 424,1342 419.2,1338.8 416.8,1335.6 413.6,1333.2 416,1330 420,1326.8 416.8,1322.8 416,1316.4 415.2,1310 418.4,1305.2 422.4,1303.6 424.8,1297.2 422.4,1294 420.8,1290 M524.6,1280.8 530,1279.3 532.4,1282.3 536,1282.9 537.8,1280.8 542,1282.9 542.6,1285.6 539.6,1287.4 534.8,1289.8 532.7,1292.8 533.6,1294.6 532.4,1296.4 528.8,1298.2 527.3,1300.6 524.6,1302.7 523.7,1300.6 521,1301.2 518,1300 516.2,1303 516.5,1306.6 513.8,1306 511.4,1304.2 512.3,1300 515,1298.8 518.6,1299.7 521,1298.8 522.8,1294 524.6,1289.8 523.7,1288 521.6,1286.2 524,1286.2 524.9,1284.4 524.6,1280.8 M654.5,1492.5 656.5,1489 655.5,1485.5 659,1483.5 656.5,1480 657,1475 666,1474 674,1475 681,1476.5 686,1479 694,1478.5 700,1474.5 703,1476 704.5,1480 700,1484 698.5,1489 697,1492.5 M679.5,1492.5 681,1489.5 688,1488.5 693,1491 695,1492 M795.5,1454.5 797.5,1455.8 M818.5,1458 819.5,1456 822,1456.5 822.5,1458.5 M843.8,1319.3 844.8,1319.9 M850.3,1320.3 851.3,1320.9" fill="none" stroke="#000" stroke-width="1.5" stroke-linejoin="round" stroke-linecap="round"/>
<path d="M667.7,1093.4 L915,1096.3 M709,1096 L626,1194 M920.4,1116 L661,1390 M551,1266 L776,1267 M565,1267.5 L492,1339 M744.8,1313.2 L954.8,1313.2" stroke="#0a0af0" stroke-width="6.2" stroke-linecap="round" fill="none"/>
<g font-weight="bold" font-size="23.4">
<text x="504.5" y="1206.4">Campi</text><text x="504.5" y="1232.8">Flegrei</text>
<text x="409.5" y="1326">Ischia Is.</text>
<text x="814.5" y="1247.5">Somma-</text><text x="809.5" y="1273.7">Vesuvius</text>
</g>
<text x="53" y="1063" font-size="32" font-weight="bold">c)</text>
<text x="313.5" y="1069" font-size="27" text-anchor="end">4540000</text>
<text x="313.5" y="1152.3" font-size="27" text-anchor="end">4530000</text>
<text x="313.5" y="1235.6" font-size="27" text-anchor="end">4520000</text>
<text x="313.5" y="1318.9" font-size="27" text-anchor="end">4510000</text>
<text x="313.5" y="1402.2" font-size="27" text-anchor="end">4500000</text>
<text x="313.5" y="1485.5" font-size="27" text-anchor="end">4490000</text>
<text x="342.6" y="1519.6" font-size="27">400000</text>
<text x="509.4" y="1519.6" font-size="27">420000</text>
<text x="676.2" y="1519.6" font-size="27">440000</text>
<text x="843" y="1519.6" font-size="27">460000</text>
<text x="558" y="1574" font-size="34.8">Easting (m)</text>
<text transform="translate(184,1359) rotate(-90)" font-size="34.8">Northing (m)</text>
</svg>
</body></html>
